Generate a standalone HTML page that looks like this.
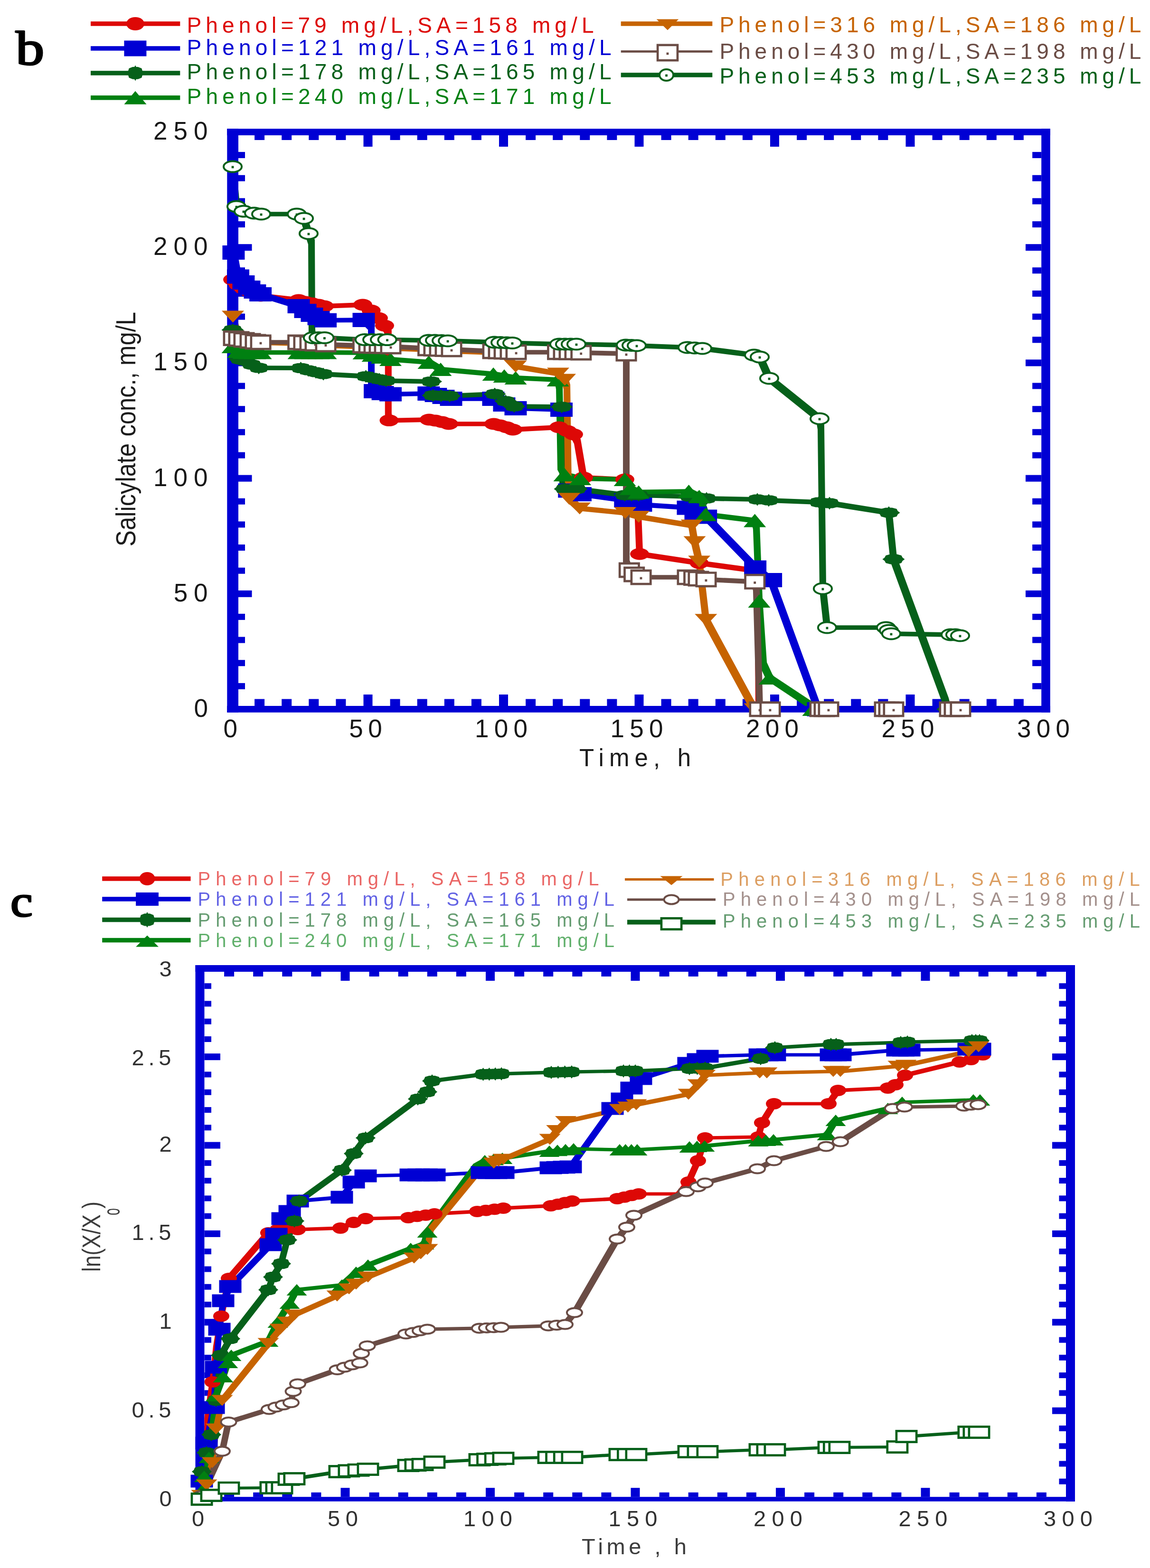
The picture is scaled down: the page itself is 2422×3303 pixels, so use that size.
<!DOCTYPE html>
<html><head><meta charset="utf-8"><title>Figure b, c</title>
<style>
html,body{margin:0;padding:0;background:#fff;}
body{width:2422px;height:3303px;overflow:hidden;}
svg{display:block;font-family:"Liberation Sans",sans-serif;}
</style></head><body>
<svg width="2422" height="3303" viewBox="0 0 2422 3303">
<rect width="2422" height="3303" fill="#fff"/>
<rect x="478.3" y="271.2" width="1733.5" height="13.8" fill="#0000d4"/>
<rect x="478.3" y="1487" width="1733.5" height="13.8" fill="#0000d4"/>
<rect x="478.3" y="271.2" width="23.7" height="1229.6" fill="#0000d4"/>
<rect x="2193.2" y="271.2" width="18.6" height="1229.6" fill="#0000d4"/>
<rect x="536.1" y="285" width="21" height="10" fill="#0000d4"/>
<rect x="536.1" y="1472.5" width="21" height="14.5" fill="#0000d4"/>
<rect x="593.2" y="285" width="21" height="10" fill="#0000d4"/>
<rect x="593.2" y="1472.5" width="21" height="14.5" fill="#0000d4"/>
<rect x="650.3" y="285" width="21" height="10" fill="#0000d4"/>
<rect x="650.3" y="1472.5" width="21" height="14.5" fill="#0000d4"/>
<rect x="707.4" y="285" width="21" height="10" fill="#0000d4"/>
<rect x="707.4" y="1472.5" width="21" height="14.5" fill="#0000d4"/>
<rect x="765.5" y="285" width="19" height="24" fill="#0000d4"/>
<rect x="765.5" y="1463" width="19" height="24" fill="#0000d4"/>
<rect x="821.6" y="285" width="21" height="10" fill="#0000d4"/>
<rect x="821.6" y="1472.5" width="21" height="14.5" fill="#0000d4"/>
<rect x="878.7" y="285" width="21" height="10" fill="#0000d4"/>
<rect x="878.7" y="1472.5" width="21" height="14.5" fill="#0000d4"/>
<rect x="935.8" y="285" width="21" height="10" fill="#0000d4"/>
<rect x="935.8" y="1472.5" width="21" height="14.5" fill="#0000d4"/>
<rect x="992.9" y="285" width="21" height="10" fill="#0000d4"/>
<rect x="992.9" y="1472.5" width="21" height="14.5" fill="#0000d4"/>
<rect x="1051" y="285" width="19" height="24" fill="#0000d4"/>
<rect x="1051" y="1463" width="19" height="24" fill="#0000d4"/>
<rect x="1107.1" y="285" width="21" height="10" fill="#0000d4"/>
<rect x="1107.1" y="1472.5" width="21" height="14.5" fill="#0000d4"/>
<rect x="1164.2" y="285" width="21" height="10" fill="#0000d4"/>
<rect x="1164.2" y="1472.5" width="21" height="14.5" fill="#0000d4"/>
<rect x="1221.3" y="285" width="21" height="10" fill="#0000d4"/>
<rect x="1221.3" y="1472.5" width="21" height="14.5" fill="#0000d4"/>
<rect x="1278.4" y="285" width="21" height="10" fill="#0000d4"/>
<rect x="1278.4" y="1472.5" width="21" height="14.5" fill="#0000d4"/>
<rect x="1336.5" y="285" width="19" height="24" fill="#0000d4"/>
<rect x="1336.5" y="1463" width="19" height="24" fill="#0000d4"/>
<rect x="1392.6" y="285" width="21" height="10" fill="#0000d4"/>
<rect x="1392.6" y="1472.5" width="21" height="14.5" fill="#0000d4"/>
<rect x="1449.7" y="285" width="21" height="10" fill="#0000d4"/>
<rect x="1449.7" y="1472.5" width="21" height="14.5" fill="#0000d4"/>
<rect x="1506.8" y="285" width="21" height="10" fill="#0000d4"/>
<rect x="1506.8" y="1472.5" width="21" height="14.5" fill="#0000d4"/>
<rect x="1563.9" y="285" width="21" height="10" fill="#0000d4"/>
<rect x="1563.9" y="1472.5" width="21" height="14.5" fill="#0000d4"/>
<rect x="1622" y="285" width="19" height="24" fill="#0000d4"/>
<rect x="1622" y="1463" width="19" height="24" fill="#0000d4"/>
<rect x="1678.1" y="285" width="21" height="10" fill="#0000d4"/>
<rect x="1678.1" y="1472.5" width="21" height="14.5" fill="#0000d4"/>
<rect x="1735.2" y="285" width="21" height="10" fill="#0000d4"/>
<rect x="1735.2" y="1472.5" width="21" height="14.5" fill="#0000d4"/>
<rect x="1792.3" y="285" width="21" height="10" fill="#0000d4"/>
<rect x="1792.3" y="1472.5" width="21" height="14.5" fill="#0000d4"/>
<rect x="1849.4" y="285" width="21" height="10" fill="#0000d4"/>
<rect x="1849.4" y="1472.5" width="21" height="14.5" fill="#0000d4"/>
<rect x="1907.5" y="285" width="19" height="24" fill="#0000d4"/>
<rect x="1907.5" y="1463" width="19" height="24" fill="#0000d4"/>
<rect x="1963.6" y="285" width="21" height="10" fill="#0000d4"/>
<rect x="1963.6" y="1472.5" width="21" height="14.5" fill="#0000d4"/>
<rect x="2020.7" y="285" width="21" height="10" fill="#0000d4"/>
<rect x="2020.7" y="1472.5" width="21" height="14.5" fill="#0000d4"/>
<rect x="2077.8" y="285" width="21" height="10" fill="#0000d4"/>
<rect x="2077.8" y="1472.5" width="21" height="14.5" fill="#0000d4"/>
<rect x="2134.9" y="285" width="21" height="10" fill="#0000d4"/>
<rect x="2134.9" y="1472.5" width="21" height="14.5" fill="#0000d4"/>
<rect x="502" y="1438.9" width="14" height="13" fill="#0000d4"/>
<rect x="2174.2" y="1438.9" width="19" height="13" fill="#0000d4"/>
<rect x="502" y="1390.2" width="14" height="13" fill="#0000d4"/>
<rect x="2174.2" y="1390.2" width="19" height="13" fill="#0000d4"/>
<rect x="502" y="1341.6" width="14" height="13" fill="#0000d4"/>
<rect x="2174.2" y="1341.6" width="19" height="13" fill="#0000d4"/>
<rect x="502" y="1292.9" width="14" height="13" fill="#0000d4"/>
<rect x="2174.2" y="1292.9" width="19" height="13" fill="#0000d4"/>
<rect x="502" y="1243.8" width="28.5" height="14" fill="#0000d4"/>
<rect x="2160" y="1243.8" width="33.2" height="14" fill="#0000d4"/>
<rect x="502" y="1195.7" width="14" height="13" fill="#0000d4"/>
<rect x="2174.2" y="1195.7" width="19" height="13" fill="#0000d4"/>
<rect x="502" y="1147" width="14" height="13" fill="#0000d4"/>
<rect x="2174.2" y="1147" width="19" height="13" fill="#0000d4"/>
<rect x="502" y="1098.4" width="14" height="13" fill="#0000d4"/>
<rect x="2174.2" y="1098.4" width="19" height="13" fill="#0000d4"/>
<rect x="502" y="1049.7" width="14" height="13" fill="#0000d4"/>
<rect x="2174.2" y="1049.7" width="19" height="13" fill="#0000d4"/>
<rect x="502" y="1000.6" width="28.5" height="14" fill="#0000d4"/>
<rect x="2160" y="1000.6" width="33.2" height="14" fill="#0000d4"/>
<rect x="502" y="952.5" width="14" height="13" fill="#0000d4"/>
<rect x="2174.2" y="952.5" width="19" height="13" fill="#0000d4"/>
<rect x="502" y="903.8" width="14" height="13" fill="#0000d4"/>
<rect x="2174.2" y="903.8" width="19" height="13" fill="#0000d4"/>
<rect x="502" y="855.2" width="14" height="13" fill="#0000d4"/>
<rect x="2174.2" y="855.2" width="19" height="13" fill="#0000d4"/>
<rect x="502" y="806.5" width="14" height="13" fill="#0000d4"/>
<rect x="2174.2" y="806.5" width="19" height="13" fill="#0000d4"/>
<rect x="502" y="757.4" width="28.5" height="14" fill="#0000d4"/>
<rect x="2160" y="757.4" width="33.2" height="14" fill="#0000d4"/>
<rect x="502" y="709.3" width="14" height="13" fill="#0000d4"/>
<rect x="2174.2" y="709.3" width="19" height="13" fill="#0000d4"/>
<rect x="502" y="660.6" width="14" height="13" fill="#0000d4"/>
<rect x="2174.2" y="660.6" width="19" height="13" fill="#0000d4"/>
<rect x="502" y="612" width="14" height="13" fill="#0000d4"/>
<rect x="2174.2" y="612" width="19" height="13" fill="#0000d4"/>
<rect x="502" y="563.3" width="14" height="13" fill="#0000d4"/>
<rect x="2174.2" y="563.3" width="19" height="13" fill="#0000d4"/>
<rect x="502" y="514.2" width="28.5" height="14" fill="#0000d4"/>
<rect x="2160" y="514.2" width="33.2" height="14" fill="#0000d4"/>
<rect x="502" y="466.1" width="14" height="13" fill="#0000d4"/>
<rect x="2174.2" y="466.1" width="19" height="13" fill="#0000d4"/>
<rect x="502" y="417.4" width="14" height="13" fill="#0000d4"/>
<rect x="2174.2" y="417.4" width="19" height="13" fill="#0000d4"/>
<rect x="502" y="368.8" width="14" height="13" fill="#0000d4"/>
<rect x="2174.2" y="368.8" width="19" height="13" fill="#0000d4"/>
<rect x="502" y="320.1" width="14" height="13" fill="#0000d4"/>
<rect x="2174.2" y="320.1" width="19" height="13" fill="#0000d4"/>
<clipPath id="clip1"><rect x="502" y="285" width="1691.2" height="1202"/></clipPath>
<g clip-path="url(#clip1)"><g transform="scale(1.5 1)">
<path d="M322 584.2L331.3 584.2L339 595.2L339 604.8L329.7 604.8L322 593.8ZM329.7 595.2L339 595.2L346.7 603.2L346.7 612.8L337.3 612.8L329.7 604.8ZM337.3 603.2L346.7 603.2L354.7 609.2L354.7 618.8L345.3 618.8L337.3 612.8ZM345.3 609.2L354.7 609.2L362.7 614.2L362.7 623.8L353.3 623.8L345.3 618.8ZM353.3 614.2L362.7 614.2L370.7 618.2L370.7 627.8L361.3 627.8L353.3 623.8ZM361.3 618.2L370.7 618.2L424 627.2L424 636.8L414.7 636.8L361.3 627.8ZM414.7 627.2L424 627.2L433.3 631.2L433.3 640.8L424 640.8L414.7 636.8ZM424 631.2L433.3 631.2L442.7 634.2L442.7 643.8L433.3 643.8L424 640.8ZM433.3 634.2L442.7 634.2L452 637.2L452 646.8L442.7 646.8L433.3 643.8ZM442.7 637.2L452 637.2L460 640.2L460 649.8L450.7 649.8L442.7 646.8ZM450.7 640.2L504.7 637.2L514 637.2L514 646.8L460 649.8L450.7 649.8ZM504.7 637.2L514 637.2L525.7 649.2L525.7 658.8L516.4 658.8L504.7 646.8ZM516.4 649.2L525.7 649.2L536 665.2L536 674.8L526.7 674.8L516.4 658.8ZM526.7 665.2L536 665.2L544.7 681.2L544.7 690.8L535.3 690.8L526.7 674.8ZM535.3 681.2L544.7 681.2L549.9 695.2L549.9 704.8L540.5 704.8L535.3 690.8ZM540.5 695.2L549.9 695.2L549.9 879.8L540.5 879.8ZM540.5 870.2L549.9 870.2L550.9 880.9L550.9 890.4L541.6 890.4L540.5 879.8ZM541.6 880.9L597.8 879.2L607.1 879.2L607.1 888.8L550.9 890.4L541.6 890.4ZM597.8 879.2L607.1 879.2L616 881.2L616 890.8L606.7 890.8L597.8 888.8ZM606.7 881.2L616 881.2L625.3 884.2L625.3 893.8L616 893.8L606.7 890.8ZM616 884.2L625.3 884.2L634.7 888.2L634.7 897.8L625.3 897.8L616 893.8ZM625.3 888.2L698 888.2L698 897.8L625.3 897.8ZM688.7 888.2L698 888.2L706.7 891.2L706.7 900.8L697.3 900.8L688.7 897.8ZM697.3 891.2L706.7 891.2L716 895.2L716 904.8L706.7 904.8L697.3 900.8ZM706.7 895.2L716 895.2L724.7 900.2L724.7 909.8L715.3 909.8L706.7 904.8ZM715.3 900.2L780 895.2L789.3 895.2L789.3 904.8L724.7 909.8L715.3 909.8ZM780 895.2L789.3 895.2L801.3 903.2L801.3 912.8L792 912.8L780 904.8ZM792 903.2L801.3 903.2L810 910.2L810 919.8L800.7 919.8L792 912.8ZM800.7 910.2L810 910.2L815.3 925.2L815.3 934.8L806 934.8L800.7 919.8ZM806 925.2L815.3 925.2L824 1001.2L824 1010.8L814.7 1010.8L806 934.8ZM814.7 1001.2L824 1001.2L882 1005.2L882 1014.8L872.7 1014.8L814.7 1010.8ZM872.7 1005.2L882 1005.2L896.7 1035.2L896.7 1044.8L887.3 1044.8L872.7 1014.8ZM887.3 1035.2L896.7 1035.2L900.7 1085.2L900.7 1094.8L891.3 1094.8L887.3 1044.8ZM891.3 1085.2L900.7 1085.2L902.7 1162.2L902.7 1171.8L893.3 1171.8L891.3 1094.8ZM893.3 1162.2L902.7 1162.2L986.4 1181.2L986.4 1190.8L977.1 1190.8L893.3 1171.8ZM977.1 1181.2L986.4 1181.2L1064.7 1197.2L1064.7 1206.8L1055.3 1206.8L977.1 1190.8ZM1055.3 1197.2L1064.7 1197.2L1068.7 1210.2L1068.7 1219.8L1059.3 1219.8L1055.3 1206.8ZM1059.3 1210.2L1068.7 1210.2L1070 1489.2L1070 1498.8L1060.7 1498.8L1059.3 1219.8Z" fill="#dd0806"/>
<path d="M323.3 527.2L332.7 527.2L339 577.8L339 587.2L329.7 587.2L323.3 536.8ZM329.7 577.8L339 577.8L346.7 590.2L346.7 599.8L337.3 599.8L329.7 587.2ZM337.3 590.2L346.7 590.2L354.7 601.2L354.7 610.8L345.3 610.8L337.3 599.8ZM345.3 601.2L354.7 601.2L362.7 609.2L362.7 618.8L353.3 618.8L345.3 610.8ZM353.3 609.2L362.7 609.2L370.5 615.2L370.5 624.8L361.1 624.8L353.3 618.8ZM361.1 615.2L370.5 615.2L424 640.2L424 649.8L414.7 649.8L361.1 624.8ZM414.7 640.2L424 640.2L433.3 650.2L433.3 659.8L424 659.8L414.7 649.8ZM424 650.2L433.3 650.2L442.7 658.2L442.7 667.8L433.3 667.8L424 659.8ZM433.3 658.2L442.7 658.2L452 665.2L452 674.8L442.7 674.8L433.3 667.8ZM442.7 665.2L452 665.2L461.7 670L461.7 679.5L452.4 679.5L442.7 674.8ZM452.4 670L506 669.2L515.3 669.2L515.3 678.8L461.7 679.5L452.4 679.5ZM506 669.2L515.3 669.2L526 685.2L526 694.8L516.7 694.8L506 678.8ZM516.7 685.2L526 685.2L526 814.8L516.7 814.8ZM516.7 805.2L526 805.2L531 819.2L531 828.8L521.7 828.8L516.7 814.8ZM521.7 819.2L531 819.2L542 823.2L542 832.8L532.7 832.8L521.7 828.8ZM532.7 823.2L542 823.2L553 825.8L553 835.2L543.7 835.2L532.7 832.8ZM543.7 825.8L597.2 824.2L606.5 824.2L606.5 833.8L553 835.2L543.7 835.2ZM597.2 824.2L606.5 824.2L616.7 827.2L616.7 836.8L607.3 836.8L597.2 833.8ZM607.3 827.2L616.7 827.2L627.3 831.2L627.3 840.8L618 840.8L607.3 836.8ZM618 831.2L627.3 831.2L638 835.2L638 844.8L628.7 844.8L618 840.8ZM628.7 835.2L697.3 835.2L697.3 844.8L628.7 844.8ZM688 835.2L697.3 835.2L712.7 847.2L712.7 856.8L703.3 856.8L688 844.8ZM703.3 847.2L712.7 847.2L728.7 855.2L728.7 864.8L719.3 864.8L703.3 856.8ZM719.3 855.2L728.7 855.2L793.1 858.2L793.1 867.8L783.7 867.8L719.3 864.8ZM783.7 858.2L793.1 858.2L796 875.2L796 884.8L786.7 884.8L783.7 867.8ZM786.7 875.2L796 875.2L796 1024.8L786.7 1024.8ZM786.7 1015.2L796 1015.2L803.9 1028.7L803.9 1038.2L794.5 1038.2L786.7 1024.8ZM794.5 1028.7L803.9 1028.7L819.6 1036.2L819.6 1045.8L810.3 1045.8L794.5 1038.2ZM810.3 1036.2L819.6 1036.2L882.5 1049.2L882.5 1058.8L873.2 1058.8L810.3 1045.8ZM873.2 1049.2L882.5 1049.2L893.3 1053.2L893.3 1062.8L884 1062.8L873.2 1058.8ZM884 1053.2L893.3 1053.2L904.7 1058.2L904.7 1067.8L895.3 1067.8L884 1062.8ZM895.3 1058.2L904.7 1058.2L970.7 1064.8L970.7 1074.3L961.3 1074.3L895.3 1067.8ZM961.3 1064.8L970.7 1064.8L981.3 1077.2L981.3 1086.8L972 1086.8L961.3 1074.3ZM972 1077.2L981.3 1077.2L995.9 1083.8L995.9 1093.2L986.5 1093.2L972 1086.8ZM986.5 1083.8L995.9 1083.8L1065.1 1190.8L1065.1 1200.2L1055.8 1200.2L986.5 1093.2ZM1055.8 1190.8L1065.1 1190.8L1087.1 1217.2L1087.1 1226.8L1077.8 1226.8L1055.8 1200.2ZM1077.8 1217.2L1087.1 1217.2L1150 1475.2L1150 1484.8L1140.7 1484.8L1077.8 1226.8ZM1140.7 1475.2L1150 1475.2L1153.3 1489.2L1153.3 1498.8L1144 1498.8L1140.7 1484.8Z" fill="#0000d4"/>
<path d="M322 690.2L331.3 690.2L341.3 752.2L341.3 761.8L332 761.8L322 699.8ZM332 752.2L341.3 752.2L349.3 755.2L349.3 764.8L340 764.8L332 761.8ZM340 755.2L349.3 755.2L358 763.2L358 772.8L348.7 772.8L340 764.8ZM348.7 763.2L358 763.2L368 770.2L368 779.8L358.7 779.8L348.7 772.8ZM358.7 770.2L368 770.2L427 770.6L427 780.1L417.7 780.1L358.7 779.8ZM417.7 770.6L427 770.6L437.3 775.2L437.3 784.8L428 784.8L417.7 780.1ZM428 775.2L437.3 775.2L448 779.2L448 788.8L438.7 788.8L428 784.8ZM438.7 779.2L448 779.2L458.7 783.2L458.7 792.8L449.3 792.8L438.7 788.8ZM449.3 783.2L458.7 783.2L518.4 788L518.4 797.5L509.1 797.5L449.3 792.8ZM509.1 788L518.4 788L528 791.2L528 800.8L518.7 800.8L509.1 797.5ZM518.7 791.2L528 791.2L537.3 794.2L537.3 803.8L528 803.8L518.7 800.8ZM528 794.2L537.3 794.2L546.7 797.2L546.7 806.8L537.3 806.8L528 803.8ZM537.3 797.2L546.7 797.2L609.7 799L609.7 808.5L600.3 808.5L537.3 806.8ZM600.3 799L609.7 799L612.7 828.2L612.7 837.8L603.3 837.8L600.3 808.5ZM603.3 828.2L612.7 828.2L624 828.9L624 838.4L614.7 838.4L603.3 837.8ZM614.7 828.9L624 828.9L636 829.2L636 838.8L626.7 838.8L614.7 838.4ZM626.7 829.2L690 825.2L699.3 825.2L699.3 834.8L636 838.8L626.7 838.8ZM690 825.2L699.3 825.2L714.7 840.2L714.7 849.8L705.3 849.8L690 834.8ZM705.3 840.2L714.7 840.2L726.7 851.2L726.7 860.8L717.3 860.8L705.3 849.8ZM717.3 851.2L726.7 851.2L793.3 852.2L793.3 861.8L784 861.8L717.3 860.8ZM784 852.2L793.3 852.2L794.7 875.2L794.7 884.8L785.3 884.8L784 861.8ZM785.3 875.2L794.7 875.2L794.7 1024.8L785.3 1024.8ZM785.3 1015.2L794.7 1015.2L798 1025.2L798 1034.8L788.7 1034.8L785.3 1024.8ZM788.7 1025.2L814 1025.2L814 1034.8L788.7 1034.8ZM804.7 1025.2L814 1025.2L882 1038.2L882 1047.8L872.7 1047.8L804.7 1034.8ZM872.7 1038.2L891.3 1038.2L891.3 1047.8L872.7 1047.8ZM882 1038.2L901.3 1038.2L901.3 1047.8L882 1047.8ZM892 1038.2L901.3 1038.2L972.7 1041.2L972.7 1050.8L963.3 1050.8L892 1047.8ZM963.3 1041.2L972.7 1041.2L984.7 1043.2L984.7 1052.8L975.3 1052.8L963.3 1050.8ZM975.3 1043.2L984.7 1043.2L996.7 1045.2L996.7 1054.8L987.3 1054.8L975.3 1052.8ZM987.3 1045.2L996.7 1045.2L1068 1047.2L1068 1056.8L1058.7 1056.8L987.3 1054.8ZM1058.7 1047.2L1068 1047.2L1084 1049.2L1084 1058.8L1074.7 1058.8L1058.7 1056.8ZM1074.7 1049.2L1084 1049.2L1154.7 1053.2L1154.7 1062.8L1145.3 1062.8L1074.7 1058.8ZM1145.3 1053.2L1154.7 1053.2L1169.3 1055.2L1169.3 1064.8L1160 1064.8L1145.3 1062.8ZM1160 1055.2L1169.3 1055.2L1252.7 1075.2L1252.7 1084.8L1243.3 1084.8L1160 1064.8ZM1243.3 1075.2L1252.7 1075.2L1259.3 1173.2L1259.3 1182.8L1250 1182.8L1243.3 1084.8ZM1250 1173.2L1259.3 1173.2L1332 1470.2L1332 1479.8L1322.7 1479.8L1250 1182.8ZM1322.7 1470.2L1332 1470.2L1335.3 1489.2L1335.3 1498.8L1326 1498.8L1322.7 1479.8Z" fill="#06601a"/>
<path d="M322 725.2L331.3 725.2L339 735.2L339 744.8L329.7 744.8L322 734.8ZM329.7 735.2L339 735.2L346.7 737.2L346.7 746.8L337.3 746.8L329.7 744.8ZM337.3 737.2L346.7 737.2L354.7 737.8L354.7 747.2L345.3 747.2L337.3 746.8ZM345.3 737.8L362.7 737.8L362.7 747.2L345.3 747.2ZM353.3 737.8L370.7 737.8L370.7 747.2L353.3 747.2ZM361.3 737.8L424 737.8L424 747.2L361.3 747.2ZM414.7 737.8L433.3 737.8L433.3 747.2L414.7 747.2ZM424 737.8L442.7 737.8L442.7 747.2L424 747.2ZM433.3 737.8L452 737.8L452 747.2L433.3 747.2ZM442.7 737.8L462 737.8L462 747.2L442.7 747.2ZM452.7 737.8L462 737.8L515.3 738.2L515.3 747.8L506 747.8L452.7 747.2ZM506 738.2L515.3 738.2L528 743.2L528 752.8L518.7 752.8L506 747.8ZM518.7 743.2L528 743.2L540.7 747.2L540.7 756.8L531.3 756.8L518.7 752.8ZM531.3 747.2L540.7 747.2L553 752.2L553 761.8L543.7 761.8L531.3 756.8ZM543.7 752.2L553 752.2L606.7 758.2L606.7 767.8L597.3 767.8L543.7 761.8ZM597.3 758.2L606.7 758.2L623.3 773.2L623.3 782.8L614 782.8L597.3 767.8ZM614 773.2L623.3 773.2L697.3 783.2L697.3 792.8L688 792.8L614 782.8ZM688 783.2L697.3 783.2L712.7 787.2L712.7 796.8L703.3 796.8L688 792.8ZM703.3 787.2L712.7 787.2L728.7 791.2L728.7 800.8L719.3 800.8L703.3 796.8ZM719.3 791.2L728.7 791.2L788 795.2L788 804.8L778.7 804.8L719.3 800.8ZM778.7 795.2L788 795.2L790 810.2L790 819.8L780.7 819.8L778.7 804.8ZM780.7 810.2L790 810.2L792 980.2L792 989.8L782.7 989.8L780.7 819.8ZM782.7 980.2L792 980.2L797.3 995.2L797.3 1004.8L788 1004.8L782.7 989.8ZM788 995.2L797.3 995.2L819.1 1003.2L819.1 1012.8L809.7 1012.8L788 1004.8ZM809.7 1003.2L819.1 1003.2L882 1005.2L882 1014.8L872.7 1014.8L809.7 1012.8ZM872.7 1005.2L882 1005.2L890 1024L890 1033.5L880.7 1033.5L872.7 1014.8ZM880.7 1024L890 1024L901.3 1031.8L901.3 1041.3L892 1041.3L880.7 1033.5ZM892 1031.8L962.4 1030.2L971.7 1030.2L971.7 1039.8L901.3 1041.3L892 1041.3ZM962.4 1030.2L971.7 1030.2L986.4 1041.2L986.4 1050.8L977.1 1050.8L962.4 1039.8ZM977.1 1041.2L986.4 1041.2L995.3 1079L995.3 1088.5L986 1088.5L977.1 1050.8ZM986 1079L995.3 1079L1064.5 1091.7L1064.5 1101.2L1055.1 1101.2L986 1088.5ZM1055.1 1091.7L1064.5 1091.7L1066.7 1105.2L1066.7 1114.8L1057.3 1114.8L1055.1 1101.2ZM1057.3 1105.2L1066.7 1105.2L1070.7 1261.2L1070.7 1270.8L1061.3 1270.8L1057.3 1114.8ZM1061.3 1261.2L1070.7 1261.2L1076.7 1395.2L1076.7 1404.8L1067.3 1404.8L1061.3 1270.8ZM1067.3 1395.2L1076.7 1395.2L1085.3 1423.2L1085.3 1432.8L1076 1432.8L1067.3 1404.8ZM1076 1423.2L1085.3 1423.2L1142.7 1480.2L1142.7 1489.8L1133.3 1489.8L1076 1432.8ZM1133.3 1480.2L1142.7 1480.2L1146.7 1489.2L1146.7 1498.8L1137.3 1498.8L1133.3 1489.8Z" fill="#008011"/>
<path d="M322.3 662.2L331.7 662.2L339 707.2L339 716.8L329.7 716.8L322.3 671.8ZM329.7 707.2L339 707.2L346.7 709.2L346.7 718.8L337.3 718.8L329.7 716.8ZM337.3 709.2L346.7 709.2L354.7 710.2L354.7 719.8L345.3 719.8L337.3 718.8ZM345.3 710.2L354.7 710.2L362.7 714.2L362.7 723.8L353.3 723.8L345.3 719.8ZM353.3 714.2L362.7 714.2L370.7 717.2L370.7 726.8L361.3 726.8L353.3 723.8ZM361.3 717.2L370.7 717.2L424 719.2L424 728.8L414.7 728.8L361.3 726.8ZM414.7 719.2L424 719.2L433.3 720.2L433.3 729.8L424 729.8L414.7 728.8ZM424 720.2L433.3 720.2L442.7 721.2L442.7 730.8L433.3 730.8L424 729.8ZM433.3 721.2L442.7 721.2L452 722.2L452 731.8L442.7 731.8L433.3 730.8ZM442.7 722.2L452 722.2L462 723.2L462 732.8L452.7 732.8L442.7 731.8ZM452.7 723.2L462 723.2L515.3 726.2L515.3 735.8L506 735.8L452.7 732.8ZM506 726.2L515.3 726.2L528 727.2L528 736.8L518.7 736.8L506 735.8ZM518.7 727.2L528 727.2L540.7 728.2L540.7 737.8L531.3 737.8L518.7 736.8ZM531.3 728.2L540.7 728.2L552.7 729.2L552.7 738.8L543.3 738.8L531.3 737.8ZM543.3 729.2L552.7 729.2L606.7 732.2L606.7 741.8L597.3 741.8L543.3 738.8ZM597.3 732.2L606.7 732.2L617.3 733.2L617.3 742.8L608 742.8L597.3 741.8ZM608 733.2L617.3 733.2L628 734.2L628 743.8L618.7 743.8L608 742.8ZM618.7 734.2L628 734.2L638 735.2L638 744.8L628.7 744.8L618.7 743.8ZM628.7 735.2L638 735.2L698 738.2L698 747.8L688.7 747.8L628.7 744.8ZM688.7 738.2L698 738.2L711.3 740.2L711.3 749.8L702 749.8L688.7 747.8ZM702 740.2L711.3 740.2L728.7 767.2L728.7 776.8L719.3 776.8L702 749.8ZM719.3 767.2L728.7 767.2L788.3 782.2L788.3 791.8L779 791.8L719.3 776.8ZM779 782.2L788.3 782.2L797.7 795.2L797.7 804.8L788.4 804.8L779 791.8ZM788.4 795.2L797.7 795.2L800.7 810.2L800.7 819.8L791.3 819.8L788.4 804.8ZM791.3 810.2L800.7 810.2L802.7 1025.2L802.7 1034.8L793.3 1034.8L791.3 819.8ZM793.3 1025.2L802.7 1025.2L803.9 1046L803.9 1055.5L794.5 1055.5L793.3 1034.8ZM794.5 1046L803.9 1046L818.5 1066.2L818.5 1075.8L809.2 1075.8L794.5 1055.5ZM809.2 1066.2L818.5 1066.2L882.5 1075.8L882.5 1085.3L873.2 1085.3L809.2 1075.8ZM873.2 1075.8L882.5 1075.8L901.3 1083.8L901.3 1093.2L892 1093.2L873.2 1085.3ZM892 1083.8L901.3 1083.8L976 1102.2L976 1111.8L966.7 1111.8L892 1093.2ZM966.7 1102.2L976 1102.2L980 1137.2L980 1146.8L970.7 1146.8L966.7 1111.8ZM970.7 1137.2L980 1137.2L986.4 1178.2L986.4 1187.8L977.1 1187.8L970.7 1146.8ZM977.1 1178.2L986.4 1178.2L995.9 1301L995.9 1310.5L986.5 1310.5L977.1 1187.8ZM986.5 1301L995.9 1301L1058 1473.2L1058 1482.8L1048.7 1482.8L986.5 1310.5ZM1048.7 1473.2L1058 1473.2L1064.7 1489.2L1064.7 1498.8L1055.3 1498.8L1048.7 1482.8Z" fill="#c66300"/>
<path d="M323.3 707.8L332.7 707.8L340 709.2L340 718.8L330.7 718.8L323.3 717.2ZM330.7 709.2L340 709.2L347.3 711.2L347.3 720.8L338 720.8L330.7 718.8ZM338 711.2L347.3 711.2L356 713.2L356 722.8L346.7 722.8L338 720.8ZM346.7 713.2L356 713.2L363.3 715.2L363.3 724.8L354 724.8L346.7 722.8ZM354 715.2L363.3 715.2L370.7 716.2L370.7 725.8L361.3 725.8L354 724.8ZM361.3 716.2L423.1 716.2L423.1 725.8L361.3 725.8ZM413.8 716.2L423.1 716.2L431.3 717.2L431.3 726.8L422 726.8L413.8 725.8ZM422 717.2L431.3 717.2L440 718.2L440 727.8L430.7 727.8L422 726.8ZM430.7 718.2L440 718.2L447.3 719.2L447.3 728.8L438 728.8L430.7 727.8ZM438 719.2L447.3 719.2L462 720.9L462 730.4L452.7 730.4L438 728.8ZM452.7 720.9L462 720.9L514.4 723.2L514.4 732.8L505.1 732.8L452.7 730.4ZM505.1 723.2L514.4 723.2L522.7 723.8L522.7 733.2L513.3 733.2L505.1 732.8ZM513.3 723.8L522.7 723.8L530 724.2L530 733.8L520.7 733.8L513.3 733.2ZM520.7 724.2L537.3 724.2L537.3 733.8L520.7 733.8ZM528 724.2L537.3 724.2L544.7 724.8L544.7 734.2L535.3 734.2L528 733.8ZM535.3 724.8L544.7 724.8L553.3 725.2L553.3 734.8L544 734.8L535.3 734.2ZM544 725.2L553.3 725.2L605.7 729.2L605.7 738.8L596.3 738.8L544 734.8ZM596.3 729.2L605.7 729.2L614 729.8L614 739.2L604.7 739.2L596.3 738.8ZM604.7 729.8L614 729.8L622 730.2L622 739.8L612.7 739.8L604.7 739.2ZM612.7 730.2L622 730.2L630 730.8L630 740.2L620.7 740.2L612.7 739.8ZM620.7 730.8L630 730.8L638.7 731.2L638.7 740.8L629.3 740.8L620.7 740.2ZM629.3 731.2L638.7 731.2L696.7 735.2L696.7 744.8L687.3 744.8L629.3 740.8ZM687.3 735.2L696.7 735.2L704.7 735.8L704.7 745.2L695.3 745.2L687.3 744.8ZM695.3 735.8L704.7 735.8L712.7 736.2L712.7 745.8L703.3 745.8L695.3 745.2ZM703.3 736.2L712.7 736.2L721.3 736.8L721.3 746.2L712 746.2L703.3 745.8ZM712 736.8L721.3 736.8L729.3 737.2L729.3 746.8L720 746.8L712 746.2ZM720 737.2L787.7 737.2L787.7 746.8L720 746.8ZM778.3 737.2L796 737.2L796 746.8L778.3 746.8ZM786.7 737.2L796 737.2L804 737.8L804 747.2L794.7 747.2L786.7 746.8ZM794.7 737.8L812 737.8L812 747.2L794.7 747.2ZM802.7 737.8L812 737.8L820.5 738.2L820.5 747.8L811.1 747.8L802.7 747.2ZM811.1 738.2L820.5 738.2L884 740.2L884 749.8L874.7 749.8L811.1 747.8ZM874.7 740.2L884 740.2L884 764.8L874.7 764.8ZM874.7 755.2L884 755.2L884 1189.8L874.7 1189.8ZM874.7 1180.2L884 1180.2L888.2 1196.2L888.2 1205.8L878.9 1205.8L874.7 1189.8ZM878.9 1196.2L888.2 1196.2L895.1 1205.2L895.1 1214.8L885.8 1214.8L878.9 1205.8ZM885.8 1205.2L895.1 1205.2L904.7 1211.2L904.7 1220.8L895.3 1220.8L885.8 1214.8ZM895.3 1211.2L970 1211.2L970 1220.8L895.3 1220.8ZM960.7 1211.2L970 1211.2L979.1 1212.8L979.1 1222.2L969.7 1222.2L960.7 1220.8ZM969.7 1212.8L979.1 1212.8L985.3 1214.2L985.3 1223.8L976 1223.8L969.7 1222.2ZM976 1214.2L985.3 1214.2L996 1216L996 1225.5L986.7 1225.5L976 1223.8ZM986.7 1216L996 1216L1064.5 1220.7L1064.5 1230.2L1055.1 1230.2L986.7 1225.5ZM1055.1 1220.7L1064.5 1220.7L1066.7 1235.2L1066.7 1244.8L1057.3 1244.8L1055.1 1230.2ZM1057.3 1235.2L1066.7 1235.2L1071.3 1489.2L1071.3 1498.8L1062 1498.8L1057.3 1244.8ZM1062 1489.2L1086 1489.2L1086 1498.8L1062 1498.8ZM1076.7 1489.2L1156 1489.2L1156 1498.8L1076.7 1498.8ZM1146.7 1489.2L1162 1489.2L1162 1498.8L1146.7 1498.8ZM1152.7 1489.2L1168 1489.2L1168 1498.8L1152.7 1498.8ZM1158.7 1489.2L1246.7 1489.2L1246.7 1498.8L1158.7 1498.8ZM1237.3 1489.2L1252.7 1489.2L1252.7 1498.8L1237.3 1498.8ZM1243.3 1489.2L1259.3 1489.2L1259.3 1498.8L1243.3 1498.8ZM1250 1489.2L1338 1489.2L1338 1498.8L1250 1498.8ZM1328.7 1489.2L1344.7 1489.2L1344.7 1498.8L1328.7 1498.8ZM1335.3 1489.2L1353.3 1489.2L1353.3 1498.8L1335.3 1498.8Z" fill="#6a4c45"/>
<path d="M322 346.2L331.3 346.2L336.7 430.2L336.7 439.8L327.3 439.8L322 355.8ZM327.3 430.2L336.7 430.2L346.7 440.2L346.7 449.8L337.3 449.8L327.3 439.8ZM337.3 440.2L346.7 440.2L361.3 444.2L361.3 453.8L352 453.8L337.3 449.8ZM352 444.2L361.3 444.2L371.3 446.2L371.3 455.8L362 455.8L352 453.8ZM362 446.2L421.3 446.2L421.3 455.8L362 455.8ZM412 446.2L421.3 446.2L431.3 455.2L431.3 464.8L422 464.8L412 455.8ZM422 455.2L431.3 455.2L438 487.2L438 496.8L428.7 496.8L422 464.8ZM428.7 487.2L438 487.2L442 505.2L442 514.8L432.7 514.8L428.7 496.8ZM432.7 505.2L442 505.2L442.7 695.2L442.7 704.8L433.3 704.8L432.7 514.8ZM433.3 695.2L442.7 695.2L444 706.8L444 716.2L434.7 716.2L433.3 704.8ZM434.7 706.8L452 706.8L452 716.2L434.7 716.2ZM442.7 706.8L460.3 706.8L460.3 716.2L442.7 716.2ZM450.9 706.8L460.3 706.8L516.5 710.9L516.5 720.4L507.2 720.4L450.9 716.2ZM507.2 710.9L527.3 710.9L527.3 720.4L507.2 720.4ZM518 710.9L538 710.9L538 720.4L518 720.4ZM528.7 710.9L548.4 710.9L548.4 720.4L528.7 720.4ZM539.1 710.9L548.4 710.9L606.7 712.2L606.7 721.8L597.3 721.8L539.1 720.4ZM597.3 712.2L615.3 712.2L615.3 721.8L597.3 721.8ZM606 712.2L615.3 712.2L624.7 712.8L624.7 722.2L615.3 722.2L606 721.8ZM615.3 712.8L624.7 712.8L633.3 713.2L633.3 722.8L624 722.8L615.3 722.2ZM624 713.2L633.3 713.2L698.7 716.2L698.7 725.8L689.3 725.8L624 722.8ZM689.3 716.2L698.7 716.2L707.3 716.8L707.3 726.2L698 726.2L689.3 725.8ZM698 716.8L707.3 716.8L716 717.2L716 726.8L706.7 726.8L698 726.2ZM706.7 717.2L716 717.2L724 717.8L724 727.2L714.7 727.2L706.7 726.8ZM714.7 717.8L724 717.8L790 720.2L790 729.8L780.7 729.8L714.7 727.2ZM780.7 720.2L798 720.2L798 729.8L780.7 729.8ZM788.7 720.2L806 720.2L806 729.8L788.7 729.8ZM796.7 720.2L814 720.2L814 729.8L796.7 729.8ZM804.7 720.2L814 720.2L883.3 722.2L883.3 731.8L874 731.8L804.7 729.8ZM874 722.2L883.3 722.2L891.3 722.8L891.3 732.2L882 732.2L874 731.8ZM882 722.8L891.3 722.8L898.7 723.2L898.7 732.8L889.3 732.8L882 732.2ZM889.3 723.2L898.7 723.2L970 727.2L970 736.8L960.7 736.8L889.3 732.8ZM960.7 727.2L970 727.2L980 728.2L980 737.8L970.7 737.8L960.7 736.8ZM970.7 728.2L980 728.2L990.7 729.2L990.7 738.8L981.3 738.8L970.7 737.8ZM981.3 729.2L990.7 729.2L1063.3 743.2L1063.3 752.8L1054 752.8L981.3 738.8ZM1054 743.2L1063.3 743.2L1071.3 747.2L1071.3 756.8L1062 756.8L1054 752.8ZM1062 747.2L1071.3 747.2L1084.7 792.2L1084.7 801.8L1075.3 801.8L1062 756.8ZM1075.3 792.2L1084.7 792.2L1155.3 877.2L1155.3 886.8L1146 886.8L1075.3 801.8ZM1146 877.2L1155.3 877.2L1157.3 895.2L1157.3 904.8L1148 904.8L1146 886.8ZM1148 895.2L1157.3 895.2L1160 1235.2L1160 1244.8L1150.7 1244.8L1148 904.8ZM1150.7 1235.2L1160 1235.2L1166 1317.2L1166 1326.8L1156.7 1326.8L1150.7 1244.8ZM1156.7 1317.2L1248.7 1317.2L1248.7 1326.8L1156.7 1326.8ZM1239.3 1317.2L1248.7 1317.2L1252.7 1323.2L1252.7 1332.8L1243.3 1332.8L1239.3 1326.8ZM1243.3 1323.2L1252.7 1323.2L1256 1330.2L1256 1339.8L1246.7 1339.8L1243.3 1332.8ZM1246.7 1330.2L1256 1330.2L1339.3 1332.2L1339.3 1341.8L1330 1341.8L1246.7 1339.8ZM1330 1332.2L1346 1332.2L1346 1341.8L1330 1341.8ZM1336.7 1332.2L1346 1332.2L1352.7 1334.2L1352.7 1343.8L1343.3 1343.8L1336.7 1341.8Z" fill="#06601a"/>
</g></g>
<g transform="scale(1.5 1)">
<ellipse cx="326.7" cy="589" rx="13.3" ry="12.5" fill="#dd0806"/>
<ellipse cx="334.3" cy="600" rx="13.3" ry="12.5" fill="#dd0806"/>
<ellipse cx="342" cy="608" rx="13.3" ry="12.5" fill="#dd0806"/>
<ellipse cx="350" cy="614" rx="13.3" ry="12.5" fill="#dd0806"/>
<ellipse cx="358" cy="619" rx="13.3" ry="12.5" fill="#dd0806"/>
<ellipse cx="366" cy="623" rx="13.3" ry="12.5" fill="#dd0806"/>
<ellipse cx="419.3" cy="632" rx="13.3" ry="12.5" fill="#dd0806"/>
<ellipse cx="428.7" cy="636" rx="13.3" ry="12.5" fill="#dd0806"/>
<ellipse cx="438" cy="639" rx="13.3" ry="12.5" fill="#dd0806"/>
<ellipse cx="447.3" cy="642" rx="13.3" ry="12.5" fill="#dd0806"/>
<ellipse cx="455.3" cy="645" rx="13.3" ry="12.5" fill="#dd0806"/>
<ellipse cx="509.3" cy="642" rx="13.3" ry="12.5" fill="#dd0806"/>
<ellipse cx="521.1" cy="654" rx="13.3" ry="12.5" fill="#dd0806"/>
<ellipse cx="531.3" cy="670" rx="13.3" ry="12.5" fill="#dd0806"/>
<ellipse cx="540" cy="686" rx="13.3" ry="12.5" fill="#dd0806"/>
<ellipse cx="546.3" cy="885.6" rx="13.3" ry="12.5" fill="#dd0806"/>
<ellipse cx="602.5" cy="884" rx="13.3" ry="12.5" fill="#dd0806"/>
<ellipse cx="611.3" cy="886" rx="13.3" ry="12.5" fill="#dd0806"/>
<ellipse cx="620.7" cy="889" rx="13.3" ry="12.5" fill="#dd0806"/>
<ellipse cx="630" cy="893" rx="13.3" ry="12.5" fill="#dd0806"/>
<ellipse cx="693.3" cy="893" rx="13.3" ry="12.5" fill="#dd0806"/>
<ellipse cx="702" cy="896" rx="13.3" ry="12.5" fill="#dd0806"/>
<ellipse cx="711.3" cy="900" rx="13.3" ry="12.5" fill="#dd0806"/>
<ellipse cx="720" cy="905" rx="13.3" ry="12.5" fill="#dd0806"/>
<ellipse cx="784.7" cy="900" rx="13.3" ry="12.5" fill="#dd0806"/>
<ellipse cx="796.7" cy="908" rx="13.3" ry="12.5" fill="#dd0806"/>
<ellipse cx="805.3" cy="915" rx="13.3" ry="12.5" fill="#dd0806"/>
<ellipse cx="819.3" cy="1006" rx="13.3" ry="12.5" fill="#dd0806"/>
<ellipse cx="877.3" cy="1010" rx="13.3" ry="12.5" fill="#dd0806"/>
<ellipse cx="898" cy="1167" rx="13.3" ry="12.5" fill="#dd0806"/>
<ellipse cx="981.7" cy="1186" rx="13.3" ry="12.5" fill="#dd0806"/>
<ellipse cx="1060" cy="1202" rx="13.3" ry="12.5" fill="#dd0806"/>
<ellipse cx="1065.3" cy="1494" rx="13.3" ry="12.5" fill="#dd0806"/>
<rect x="312.3" y="517" width="31.3" height="30" fill="#0000d4"/>
<rect x="318.7" y="567.5" width="31.3" height="30" fill="#0000d4"/>
<rect x="326.3" y="580" width="31.3" height="30" fill="#0000d4"/>
<rect x="334.3" y="591" width="31.3" height="30" fill="#0000d4"/>
<rect x="342.3" y="599" width="31.3" height="30" fill="#0000d4"/>
<rect x="350.1" y="605" width="31.3" height="30" fill="#0000d4"/>
<rect x="403.7" y="630" width="31.3" height="30" fill="#0000d4"/>
<rect x="413" y="640" width="31.3" height="30" fill="#0000d4"/>
<rect x="422.3" y="648" width="31.3" height="30" fill="#0000d4"/>
<rect x="431.7" y="655" width="31.3" height="30" fill="#0000d4"/>
<rect x="441.4" y="659.7" width="31.3" height="30" fill="#0000d4"/>
<rect x="495" y="659" width="31.3" height="30" fill="#0000d4"/>
<rect x="510.7" y="809" width="31.3" height="30" fill="#0000d4"/>
<rect x="521.7" y="813" width="31.3" height="30" fill="#0000d4"/>
<rect x="532.7" y="815.5" width="31.3" height="30" fill="#0000d4"/>
<rect x="586.2" y="814" width="31.3" height="30" fill="#0000d4"/>
<rect x="596.3" y="817" width="31.3" height="30" fill="#0000d4"/>
<rect x="607" y="821" width="31.3" height="30" fill="#0000d4"/>
<rect x="617.7" y="825" width="31.3" height="30" fill="#0000d4"/>
<rect x="677" y="825" width="31.3" height="30" fill="#0000d4"/>
<rect x="692.3" y="837" width="31.3" height="30" fill="#0000d4"/>
<rect x="708.3" y="845" width="31.3" height="30" fill="#0000d4"/>
<rect x="772.7" y="848" width="31.3" height="30" fill="#0000d4"/>
<rect x="783.5" y="1018.4" width="31.3" height="30" fill="#0000d4"/>
<rect x="799.3" y="1026" width="31.3" height="30" fill="#0000d4"/>
<rect x="862.2" y="1039" width="31.3" height="30" fill="#0000d4"/>
<rect x="873" y="1043" width="31.3" height="30" fill="#0000d4"/>
<rect x="884.3" y="1048" width="31.3" height="30" fill="#0000d4"/>
<rect x="950.3" y="1054.6" width="31.3" height="30" fill="#0000d4"/>
<rect x="961" y="1067" width="31.3" height="30" fill="#0000d4"/>
<rect x="975.5" y="1073.5" width="31.3" height="30" fill="#0000d4"/>
<rect x="1044.8" y="1180.5" width="31.3" height="30" fill="#0000d4"/>
<rect x="1066.8" y="1207" width="31.3" height="30" fill="#0000d4"/>
<rect x="1133" y="1479" width="31.3" height="30" fill="#0000d4"/>
<path d="M311 695L314.1 691.6L315.7 686.9L322 684.5L325.1 684.5L326.7 681.5L328.2 684.5L331.4 684.5L337.6 686.9L339.2 691.6L342.3 695L339.2 698.4L337.6 703.1L331.4 705.5L328.2 705.5L326.7 708.5L325.1 705.5L322 705.5L315.7 703.1L314.1 698.4Z" fill="#06601a"/>
<path d="M321 757L324.1 753.6L325.7 748.9L332 746.5L335.1 746.5L336.7 743.5L338.2 746.5L341.4 746.5L347.6 748.9L349.2 753.6L352.3 757L349.2 760.4L347.6 765.1L341.4 767.5L338.2 767.5L336.7 770.5L335.1 767.5L332 767.5L325.7 765.1L324.1 760.4Z" fill="#06601a"/>
<path d="M329 760L332.1 756.6L333.7 751.9L340 749.5L343.1 749.5L344.7 746.5L346.2 749.5L349.4 749.5L355.6 751.9L357.2 756.6L360.3 760L357.2 763.4L355.6 768.1L349.4 770.5L346.2 770.5L344.7 773.5L343.1 770.5L340 770.5L333.7 768.1L332.1 763.4Z" fill="#06601a"/>
<path d="M337.7 768L340.8 764.6L342.4 759.9L348.6 757.5L351.8 757.5L353.3 754.5L354.9 757.5L358 757.5L364.3 759.9L365.9 764.6L369 768L365.9 771.4L364.3 776.1L358 778.5L354.9 778.5L353.3 781.5L351.8 778.5L348.6 778.5L342.4 776.1L340.8 771.4Z" fill="#06601a"/>
<path d="M347.7 775L350.8 771.6L352.4 766.9L358.6 764.5L361.8 764.5L363.3 761.5L364.9 764.5L368 764.5L374.3 766.9L375.9 771.6L379 775L375.9 778.4L374.3 783.1L368 785.5L364.9 785.5L363.3 788.5L361.8 785.5L358.6 785.5L352.4 783.1L350.8 778.4Z" fill="#06601a"/>
<path d="M406.7 775.4L409.8 772L411.4 767.3L417.6 764.9L420.8 764.9L422.3 761.9L423.9 764.9L427 764.9L433.3 767.3L434.9 772L438 775.4L434.9 778.8L433.3 783.5L427 785.9L423.9 785.9L422.3 788.9L420.8 785.9L417.6 785.9L411.4 783.5L409.8 778.8Z" fill="#06601a"/>
<path d="M417 780L420.1 776.6L421.7 771.9L428 769.5L431.1 769.5L432.7 766.5L434.2 769.5L437.4 769.5L443.6 771.9L445.2 776.6L448.3 780L445.2 783.4L443.6 788.1L437.4 790.5L434.2 790.5L432.7 793.5L431.1 790.5L428 790.5L421.7 788.1L420.1 783.4Z" fill="#06601a"/>
<path d="M427.7 784L430.8 780.6L432.4 775.9L438.6 773.5L441.8 773.5L443.3 770.5L444.9 773.5L448 773.5L454.3 775.9L455.9 780.6L459 784L455.9 787.4L454.3 792.1L448 794.5L444.9 794.5L443.3 797.5L441.8 794.5L438.6 794.5L432.4 792.1L430.8 787.4Z" fill="#06601a"/>
<path d="M438.3 788L441.5 784.6L443 779.9L449.3 777.5L452.4 777.5L454 774.5L455.6 777.5L458.7 777.5L465 779.9L466.5 784.6L469.7 788L466.5 791.4L465 796.1L458.7 798.5L455.6 798.5L454 801.5L452.4 798.5L449.3 798.5L443 796.1L441.5 791.4Z" fill="#06601a"/>
<path d="M498.1 792.7L501.2 789.3L502.8 784.6L509 782.2L512.2 782.2L513.7 779.2L515.3 782.2L518.4 782.2L524.7 784.6L526.3 789.3L529.4 792.7L526.3 796.1L524.7 800.8L518.4 803.2L515.3 803.2L513.7 806.2L512.2 803.2L509 803.2L502.8 800.8L501.2 796.1Z" fill="#06601a"/>
<path d="M507.7 796L510.8 792.6L512.4 787.9L518.6 785.5L521.8 785.5L523.3 782.5L524.9 785.5L528 785.5L534.3 787.9L535.9 792.6L539 796L535.9 799.4L534.3 804.1L528 806.5L524.9 806.5L523.3 809.5L521.8 806.5L518.6 806.5L512.4 804.1L510.8 799.4Z" fill="#06601a"/>
<path d="M517 799L520.1 795.6L521.7 790.9L528 788.5L531.1 788.5L532.7 785.5L534.2 788.5L537.4 788.5L543.6 790.9L545.2 795.6L548.3 799L545.2 802.4L543.6 807.1L537.4 809.5L534.2 809.5L532.7 812.5L531.1 809.5L528 809.5L521.7 807.1L520.1 802.4Z" fill="#06601a"/>
<path d="M526.3 802L529.5 798.6L531 793.9L537.3 791.5L540.4 791.5L542 788.5L543.6 791.5L546.7 791.5L553 793.9L554.5 798.6L557.7 802L554.5 805.4L553 810.1L546.7 812.5L543.6 812.5L542 815.5L540.4 812.5L537.3 812.5L531 810.1L529.5 805.4Z" fill="#06601a"/>
<path d="M589.3 803.7L592.5 800.3L594 795.6L600.3 793.2L603.4 793.2L605 790.2L606.6 793.2L609.7 793.2L616 795.6L617.5 800.3L620.7 803.7L617.5 807.1L616 811.8L609.7 814.2L606.6 814.2L605 817.2L603.4 814.2L600.3 814.2L594 811.8L592.5 807.1Z" fill="#06601a"/>
<path d="M592.3 833L595.5 829.6L597 824.9L603.3 822.5L606.4 822.5L608 819.5L609.6 822.5L612.7 822.5L619 824.9L620.5 829.6L623.7 833L620.5 836.4L619 841.1L612.7 843.5L609.6 843.5L608 846.5L606.4 843.5L603.3 843.5L597 841.1L595.5 836.4Z" fill="#06601a"/>
<path d="M603.7 833.6L606.8 830.2L608.4 825.5L614.6 823.1L617.8 823.1L619.3 820.1L620.9 823.1L624 823.1L630.3 825.5L631.9 830.2L635 833.6L631.9 837L630.3 841.7L624 844.1L620.9 844.1L619.3 847.1L617.8 844.1L614.6 844.1L608.4 841.7L606.8 837Z" fill="#06601a"/>
<path d="M615.7 834L618.8 830.6L620.4 825.9L626.6 823.5L629.8 823.5L631.3 820.5L632.9 823.5L636 823.5L642.3 825.9L643.9 830.6L647 834L643.9 837.4L642.3 842.1L636 844.5L632.9 844.5L631.3 847.5L629.8 844.5L626.6 844.5L620.4 842.1L618.8 837.4Z" fill="#06601a"/>
<path d="M679 830L682.1 826.6L683.7 821.9L690 819.5L693.1 819.5L694.7 816.5L696.2 819.5L699.4 819.5L705.6 821.9L707.2 826.6L710.3 830L707.2 833.4L705.6 838.1L699.4 840.5L696.2 840.5L694.7 843.5L693.1 840.5L690 840.5L683.7 838.1L682.1 833.4Z" fill="#06601a"/>
<path d="M694.3 845L697.5 841.6L699 836.9L705.3 834.5L708.4 834.5L710 831.5L711.6 834.5L714.7 834.5L721 836.9L722.5 841.6L725.7 845L722.5 848.4L721 853.1L714.7 855.5L711.6 855.5L710 858.5L708.4 855.5L705.3 855.5L699 853.1L697.5 848.4Z" fill="#06601a"/>
<path d="M706.3 856L709.5 852.6L711 847.9L717.3 845.5L720.4 845.5L722 842.5L723.6 845.5L726.7 845.5L733 847.9L734.5 852.6L737.7 856L734.5 859.4L733 864.1L726.7 866.5L723.6 866.5L722 869.5L720.4 866.5L717.3 866.5L711 864.1L709.5 859.4Z" fill="#06601a"/>
<path d="M773 857L776.1 853.6L777.7 848.9L784 846.5L787.1 846.5L788.7 843.5L790.2 846.5L793.4 846.5L799.6 848.9L801.2 853.6L804.3 857L801.2 860.4L799.6 865.1L793.4 867.5L790.2 867.5L788.7 870.5L787.1 867.5L784 867.5L777.7 865.1L776.1 860.4Z" fill="#06601a"/>
<path d="M777.7 1030L780.8 1026.6L782.4 1021.9L788.6 1019.5L791.8 1019.5L793.3 1016.5L794.9 1019.5L798 1019.5L804.3 1021.9L805.9 1026.6L809 1030L805.9 1033.4L804.3 1038.1L798 1040.5L794.9 1040.5L793.3 1043.5L791.8 1040.5L788.6 1040.5L782.4 1038.1L780.8 1033.4Z" fill="#06601a"/>
<path d="M793.7 1030L796.8 1026.6L798.4 1021.9L804.6 1019.5L807.8 1019.5L809.3 1016.5L810.9 1019.5L814 1019.5L820.3 1021.9L821.9 1026.6L825 1030L821.9 1033.4L820.3 1038.1L814 1040.5L810.9 1040.5L809.3 1043.5L807.8 1040.5L804.6 1040.5L798.4 1038.1L796.8 1033.4Z" fill="#06601a"/>
<path d="M861.7 1043L864.8 1039.6L866.4 1034.9L872.6 1032.5L875.8 1032.5L877.3 1029.5L878.9 1032.5L882 1032.5L888.3 1034.9L889.9 1039.6L893 1043L889.9 1046.4L888.3 1051.1L882 1053.5L878.9 1053.5L877.3 1056.5L875.8 1053.5L872.6 1053.5L866.4 1051.1L864.8 1046.4Z" fill="#06601a"/>
<path d="M871 1043L874.1 1039.6L875.7 1034.9L882 1032.5L885.1 1032.5L886.7 1029.5L888.2 1032.5L891.4 1032.5L897.6 1034.9L899.2 1039.6L902.3 1043L899.2 1046.4L897.6 1051.1L891.4 1053.5L888.2 1053.5L886.7 1056.5L885.1 1053.5L882 1053.5L875.7 1051.1L874.1 1046.4Z" fill="#06601a"/>
<path d="M881 1043L884.1 1039.6L885.7 1034.9L892 1032.5L895.1 1032.5L896.7 1029.5L898.2 1032.5L901.4 1032.5L907.6 1034.9L909.2 1039.6L912.3 1043L909.2 1046.4L907.6 1051.1L901.4 1053.5L898.2 1053.5L896.7 1056.5L895.1 1053.5L892 1053.5L885.7 1051.1L884.1 1046.4Z" fill="#06601a"/>
<path d="M952.3 1046L955.5 1042.6L957 1037.9L963.3 1035.5L966.4 1035.5L968 1032.5L969.6 1035.5L972.7 1035.5L979 1037.9L980.5 1042.6L983.7 1046L980.5 1049.4L979 1054.1L972.7 1056.5L969.6 1056.5L968 1059.5L966.4 1056.5L963.3 1056.5L957 1054.1L955.5 1049.4Z" fill="#06601a"/>
<path d="M964.3 1048L967.5 1044.6L969 1039.9L975.3 1037.5L978.4 1037.5L980 1034.5L981.6 1037.5L984.7 1037.5L991 1039.9L992.5 1044.6L995.7 1048L992.5 1051.4L991 1056.1L984.7 1058.5L981.6 1058.5L980 1061.5L978.4 1058.5L975.3 1058.5L969 1056.1L967.5 1051.4Z" fill="#06601a"/>
<path d="M976.3 1050L979.5 1046.6L981 1041.9L987.3 1039.5L990.4 1039.5L992 1036.5L993.6 1039.5L996.7 1039.5L1003 1041.9L1004.5 1046.6L1007.7 1050L1004.5 1053.4L1003 1058.1L996.7 1060.5L993.6 1060.5L992 1063.5L990.4 1060.5L987.3 1060.5L981 1058.1L979.5 1053.4Z" fill="#06601a"/>
<path d="M1047.7 1052L1050.8 1048.6L1052.4 1043.9L1058.6 1041.5L1061.8 1041.5L1063.3 1038.5L1064.9 1041.5L1068 1041.5L1074.3 1043.9L1075.9 1048.6L1079 1052L1075.9 1055.4L1074.3 1060.1L1068 1062.5L1064.9 1062.5L1063.3 1065.5L1061.8 1062.5L1058.6 1062.5L1052.4 1060.1L1050.8 1055.4Z" fill="#06601a"/>
<path d="M1063.7 1054L1066.8 1050.6L1068.4 1045.9L1074.6 1043.5L1077.8 1043.5L1079.3 1040.5L1080.9 1043.5L1084 1043.5L1090.3 1045.9L1091.9 1050.6L1095 1054L1091.9 1057.4L1090.3 1062.1L1084 1064.5L1080.9 1064.5L1079.3 1067.5L1077.8 1064.5L1074.6 1064.5L1068.4 1062.1L1066.8 1057.4Z" fill="#06601a"/>
<path d="M1134.3 1058L1137.5 1054.6L1139 1049.9L1145.3 1047.5L1148.4 1047.5L1150 1044.5L1151.6 1047.5L1154.7 1047.5L1161 1049.9L1162.5 1054.6L1165.7 1058L1162.5 1061.4L1161 1066.1L1154.7 1068.5L1151.6 1068.5L1150 1071.5L1148.4 1068.5L1145.3 1068.5L1139 1066.1L1137.5 1061.4Z" fill="#06601a"/>
<path d="M1149 1060L1152.1 1056.6L1153.7 1051.9L1160 1049.5L1163.1 1049.5L1164.7 1046.5L1166.2 1049.5L1169.4 1049.5L1175.6 1051.9L1177.2 1056.6L1180.3 1060L1177.2 1063.4L1175.6 1068.1L1169.4 1070.5L1166.2 1070.5L1164.7 1073.5L1163.1 1070.5L1160 1070.5L1153.7 1068.1L1152.1 1063.4Z" fill="#06601a"/>
<path d="M1232.3 1080L1235.5 1076.6L1237 1071.9L1243.3 1069.5L1246.4 1069.5L1248 1066.5L1249.6 1069.5L1252.7 1069.5L1259 1071.9L1260.5 1076.6L1263.7 1080L1260.5 1083.4L1259 1088.1L1252.7 1090.5L1249.6 1090.5L1248 1093.5L1246.4 1090.5L1243.3 1090.5L1237 1088.1L1235.5 1083.4Z" fill="#06601a"/>
<path d="M1239 1178L1242.1 1174.6L1243.7 1169.9L1250 1167.5L1253.1 1167.5L1254.7 1164.5L1256.2 1167.5L1259.4 1167.5L1265.6 1169.9L1267.2 1174.6L1270.3 1178L1267.2 1181.4L1265.6 1186.1L1259.4 1188.5L1256.2 1188.5L1254.7 1191.5L1253.1 1188.5L1250 1188.5L1243.7 1186.1L1242.1 1181.4Z" fill="#06601a"/>
<path d="M1315 1494L1318.1 1490.6L1319.7 1485.9L1326 1483.5L1329.1 1483.5L1330.7 1480.5L1332.2 1483.5L1335.4 1483.5L1341.6 1485.9L1343.2 1490.6L1346.3 1494L1343.2 1497.4L1341.6 1502.1L1335.4 1504.5L1332.2 1504.5L1330.7 1507.5L1329.1 1504.5L1326 1504.5L1319.7 1502.1L1318.1 1497.4Z" fill="#06601a"/>
<path d="M311 744L326.7 716L342.3 744Z" fill="#008011"/>
<path d="M318.7 754L334.3 726L350 754Z" fill="#008011"/>
<path d="M326.3 756L342 728L357.7 756Z" fill="#008011"/>
<path d="M334.3 756.5L350 728.5L365.7 756.5Z" fill="#008011"/>
<path d="M342.3 756.5L358 728.5L373.7 756.5Z" fill="#008011"/>
<path d="M350.3 756.5L366 728.5L381.7 756.5Z" fill="#008011"/>
<path d="M403.7 756.5L419.3 728.5L435 756.5Z" fill="#008011"/>
<path d="M413 756.5L428.7 728.5L444.3 756.5Z" fill="#008011"/>
<path d="M422.3 756.5L438 728.5L453.7 756.5Z" fill="#008011"/>
<path d="M431.7 756.5L447.3 728.5L463 756.5Z" fill="#008011"/>
<path d="M441.7 756.5L457.3 728.5L473 756.5Z" fill="#008011"/>
<path d="M495 757L510.7 729L526.3 757Z" fill="#008011"/>
<path d="M507.7 762L523.3 734L539 762Z" fill="#008011"/>
<path d="M520.3 766L536 738L551.7 766Z" fill="#008011"/>
<path d="M532.7 771L548.3 743L564 771Z" fill="#008011"/>
<path d="M586.3 777L602 749L617.7 777Z" fill="#008011"/>
<path d="M603 792L618.7 764L634.3 792Z" fill="#008011"/>
<path d="M677 802L692.7 774L708.3 802Z" fill="#008011"/>
<path d="M692.3 806L708 778L723.7 806Z" fill="#008011"/>
<path d="M708.3 810L724 782L739.7 810Z" fill="#008011"/>
<path d="M767.7 814L783.3 786L799 814Z" fill="#008011"/>
<path d="M777 1014L792.7 986L808.3 1014Z" fill="#008011"/>
<path d="M798.7 1022L814.4 994L830.1 1022Z" fill="#008011"/>
<path d="M861.7 1024L877.3 996L893 1024Z" fill="#008011"/>
<path d="M869.7 1042.7L885.3 1014.7L901 1042.7Z" fill="#008011"/>
<path d="M881 1050.6L896.7 1022.6L912.3 1050.6Z" fill="#008011"/>
<path d="M951.4 1049L967.1 1021L982.7 1049Z" fill="#008011"/>
<path d="M966.1 1060L981.7 1032L997.4 1060Z" fill="#008011"/>
<path d="M975 1097.8L990.7 1069.8L1006.3 1097.8Z" fill="#008011"/>
<path d="M1044.1 1110.4L1059.8 1082.4L1075.5 1110.4Z" fill="#008011"/>
<path d="M1050.3 1280L1066 1252L1081.7 1280Z" fill="#008011"/>
<path d="M1065 1442L1080.7 1414L1096.3 1442Z" fill="#008011"/>
<path d="M1126.3 1508L1142 1480L1157.7 1508Z" fill="#008011"/>
<path d="M311.3 654.5L327 679.5L342.7 654.5Z" fill="#c66300"/>
<path d="M318.7 699.5L334.3 724.5L350 699.5Z" fill="#c66300"/>
<path d="M326.3 701.5L342 726.5L357.7 701.5Z" fill="#c66300"/>
<path d="M334.3 702.5L350 727.5L365.7 702.5Z" fill="#c66300"/>
<path d="M342.3 706.5L358 731.5L373.7 706.5Z" fill="#c66300"/>
<path d="M350.3 709.5L366 734.5L381.7 709.5Z" fill="#c66300"/>
<path d="M403.7 711.5L419.3 736.5L435 711.5Z" fill="#c66300"/>
<path d="M413 712.5L428.7 737.5L444.3 712.5Z" fill="#c66300"/>
<path d="M422.3 713.5L438 738.5L453.7 713.5Z" fill="#c66300"/>
<path d="M431.7 714.5L447.3 739.5L463 714.5Z" fill="#c66300"/>
<path d="M441.7 715.5L457.3 740.5L473 715.5Z" fill="#c66300"/>
<path d="M495 718.5L510.7 743.5L526.3 718.5Z" fill="#c66300"/>
<path d="M507.7 719.5L523.3 744.5L539 719.5Z" fill="#c66300"/>
<path d="M520.3 720.5L536 745.5L551.7 720.5Z" fill="#c66300"/>
<path d="M532.3 721.5L548 746.5L563.7 721.5Z" fill="#c66300"/>
<path d="M586.3 724.5L602 749.5L617.7 724.5Z" fill="#c66300"/>
<path d="M597 725.5L612.7 750.5L628.3 725.5Z" fill="#c66300"/>
<path d="M607.7 726.5L623.3 751.5L639 726.5Z" fill="#c66300"/>
<path d="M617.7 727.5L633.3 752.5L649 727.5Z" fill="#c66300"/>
<path d="M677.7 730.5L693.3 755.5L709 730.5Z" fill="#c66300"/>
<path d="M691 732.5L706.7 757.5L722.3 732.5Z" fill="#c66300"/>
<path d="M708.3 759.5L724 784.5L739.7 759.5Z" fill="#c66300"/>
<path d="M768 774.5L783.7 799.5L799.3 774.5Z" fill="#c66300"/>
<path d="M777.4 787.5L793.1 812.5L808.7 787.5Z" fill="#c66300"/>
<path d="M783.5 1038.2L799.2 1063.2L814.9 1038.2Z" fill="#c66300"/>
<path d="M798.2 1058.5L813.9 1083.5L829.5 1058.5Z" fill="#c66300"/>
<path d="M862.2 1068.1L877.9 1093.1L893.5 1068.1Z" fill="#c66300"/>
<path d="M881 1076L896.7 1101L912.3 1076Z" fill="#c66300"/>
<path d="M955.7 1094.5L971.3 1119.5L987 1094.5Z" fill="#c66300"/>
<path d="M959.7 1129.5L975.3 1154.5L991 1129.5Z" fill="#c66300"/>
<path d="M966.1 1170.5L981.7 1195.5L997.4 1170.5Z" fill="#c66300"/>
<path d="M975.5 1293.2L991.2 1318.2L1006.9 1293.2Z" fill="#c66300"/>
<path d="M1044.3 1481.5L1060 1506.5L1075.7 1481.5Z" fill="#c66300"/>
<rect x="314.6" y="698.4" width="26.9" height="28.3" fill="#fff" stroke="#6a4c45" stroke-width="4.7" vector-effect="non-scaling-stroke"/>
<rect x="326.4" y="712.1" width="3.2" height="4.8" fill="#6a4c45"/>
<rect x="321.9" y="699.9" width="26.9" height="28.3" fill="#fff" stroke="#6a4c45" stroke-width="4.7" vector-effect="non-scaling-stroke"/>
<rect x="333.7" y="713.6" width="3.2" height="4.8" fill="#6a4c45"/>
<rect x="329.2" y="701.9" width="26.9" height="28.3" fill="#fff" stroke="#6a4c45" stroke-width="4.7" vector-effect="non-scaling-stroke"/>
<rect x="341.1" y="715.6" width="3.2" height="4.8" fill="#6a4c45"/>
<rect x="337.9" y="703.9" width="26.9" height="28.3" fill="#fff" stroke="#6a4c45" stroke-width="4.7" vector-effect="non-scaling-stroke"/>
<rect x="349.7" y="717.6" width="3.2" height="4.8" fill="#6a4c45"/>
<rect x="345.2" y="705.9" width="26.9" height="28.3" fill="#fff" stroke="#6a4c45" stroke-width="4.7" vector-effect="non-scaling-stroke"/>
<rect x="357.1" y="719.6" width="3.2" height="4.8" fill="#6a4c45"/>
<rect x="352.6" y="706.9" width="26.9" height="28.3" fill="#fff" stroke="#6a4c45" stroke-width="4.7" vector-effect="non-scaling-stroke"/>
<rect x="364.4" y="720.6" width="3.2" height="4.8" fill="#6a4c45"/>
<rect x="405" y="706.9" width="26.9" height="28.3" fill="#fff" stroke="#6a4c45" stroke-width="4.7" vector-effect="non-scaling-stroke"/>
<rect x="416.9" y="720.6" width="3.2" height="4.8" fill="#6a4c45"/>
<rect x="413.2" y="707.9" width="26.9" height="28.3" fill="#fff" stroke="#6a4c45" stroke-width="4.7" vector-effect="non-scaling-stroke"/>
<rect x="425.1" y="721.6" width="3.2" height="4.8" fill="#6a4c45"/>
<rect x="421.9" y="708.9" width="26.9" height="28.3" fill="#fff" stroke="#6a4c45" stroke-width="4.7" vector-effect="non-scaling-stroke"/>
<rect x="433.7" y="722.6" width="3.2" height="4.8" fill="#6a4c45"/>
<rect x="429.2" y="709.9" width="26.9" height="28.3" fill="#fff" stroke="#6a4c45" stroke-width="4.7" vector-effect="non-scaling-stroke"/>
<rect x="441.1" y="723.6" width="3.2" height="4.8" fill="#6a4c45"/>
<rect x="443.9" y="711.5" width="26.9" height="28.3" fill="#fff" stroke="#6a4c45" stroke-width="4.7" vector-effect="non-scaling-stroke"/>
<rect x="455.7" y="725.2" width="3.2" height="4.8" fill="#6a4c45"/>
<rect x="496.3" y="713.9" width="26.9" height="28.3" fill="#fff" stroke="#6a4c45" stroke-width="4.7" vector-effect="non-scaling-stroke"/>
<rect x="508.1" y="727.6" width="3.2" height="4.8" fill="#6a4c45"/>
<rect x="504.6" y="714.4" width="26.9" height="28.3" fill="#fff" stroke="#6a4c45" stroke-width="4.7" vector-effect="non-scaling-stroke"/>
<rect x="516.4" y="728.1" width="3.2" height="4.8" fill="#6a4c45"/>
<rect x="511.9" y="714.9" width="26.9" height="28.3" fill="#fff" stroke="#6a4c45" stroke-width="4.7" vector-effect="non-scaling-stroke"/>
<rect x="523.7" y="728.6" width="3.2" height="4.8" fill="#6a4c45"/>
<rect x="519.2" y="714.9" width="26.9" height="28.3" fill="#fff" stroke="#6a4c45" stroke-width="4.7" vector-effect="non-scaling-stroke"/>
<rect x="531.1" y="728.6" width="3.2" height="4.8" fill="#6a4c45"/>
<rect x="526.6" y="715.4" width="26.9" height="28.3" fill="#fff" stroke="#6a4c45" stroke-width="4.7" vector-effect="non-scaling-stroke"/>
<rect x="538.4" y="729.1" width="3.2" height="4.8" fill="#6a4c45"/>
<rect x="535.2" y="715.9" width="26.9" height="28.3" fill="#fff" stroke="#6a4c45" stroke-width="4.7" vector-effect="non-scaling-stroke"/>
<rect x="547.1" y="729.6" width="3.2" height="4.8" fill="#6a4c45"/>
<rect x="587.6" y="719.9" width="26.9" height="28.3" fill="#fff" stroke="#6a4c45" stroke-width="4.7" vector-effect="non-scaling-stroke"/>
<rect x="599.4" y="733.6" width="3.2" height="4.8" fill="#6a4c45"/>
<rect x="595.9" y="720.4" width="26.9" height="28.3" fill="#fff" stroke="#6a4c45" stroke-width="4.7" vector-effect="non-scaling-stroke"/>
<rect x="607.7" y="734.1" width="3.2" height="4.8" fill="#6a4c45"/>
<rect x="603.9" y="720.9" width="26.9" height="28.3" fill="#fff" stroke="#6a4c45" stroke-width="4.7" vector-effect="non-scaling-stroke"/>
<rect x="615.7" y="734.6" width="3.2" height="4.8" fill="#6a4c45"/>
<rect x="611.9" y="721.4" width="26.9" height="28.3" fill="#fff" stroke="#6a4c45" stroke-width="4.7" vector-effect="non-scaling-stroke"/>
<rect x="623.7" y="735.1" width="3.2" height="4.8" fill="#6a4c45"/>
<rect x="620.6" y="721.9" width="26.9" height="28.3" fill="#fff" stroke="#6a4c45" stroke-width="4.7" vector-effect="non-scaling-stroke"/>
<rect x="632.4" y="735.6" width="3.2" height="4.8" fill="#6a4c45"/>
<rect x="678.6" y="725.9" width="26.9" height="28.3" fill="#fff" stroke="#6a4c45" stroke-width="4.7" vector-effect="non-scaling-stroke"/>
<rect x="690.4" y="739.6" width="3.2" height="4.8" fill="#6a4c45"/>
<rect x="686.6" y="726.4" width="26.9" height="28.3" fill="#fff" stroke="#6a4c45" stroke-width="4.7" vector-effect="non-scaling-stroke"/>
<rect x="698.4" y="740.1" width="3.2" height="4.8" fill="#6a4c45"/>
<rect x="694.6" y="726.9" width="26.9" height="28.3" fill="#fff" stroke="#6a4c45" stroke-width="4.7" vector-effect="non-scaling-stroke"/>
<rect x="706.4" y="740.6" width="3.2" height="4.8" fill="#6a4c45"/>
<rect x="703.2" y="727.4" width="26.9" height="28.3" fill="#fff" stroke="#6a4c45" stroke-width="4.7" vector-effect="non-scaling-stroke"/>
<rect x="715.1" y="741.1" width="3.2" height="4.8" fill="#6a4c45"/>
<rect x="711.2" y="727.9" width="26.9" height="28.3" fill="#fff" stroke="#6a4c45" stroke-width="4.7" vector-effect="non-scaling-stroke"/>
<rect x="723.1" y="741.6" width="3.2" height="4.8" fill="#6a4c45"/>
<rect x="769.6" y="727.9" width="26.9" height="28.3" fill="#fff" stroke="#6a4c45" stroke-width="4.7" vector-effect="non-scaling-stroke"/>
<rect x="781.4" y="741.6" width="3.2" height="4.8" fill="#6a4c45"/>
<rect x="777.9" y="727.9" width="26.9" height="28.3" fill="#fff" stroke="#6a4c45" stroke-width="4.7" vector-effect="non-scaling-stroke"/>
<rect x="789.7" y="741.6" width="3.2" height="4.8" fill="#6a4c45"/>
<rect x="785.9" y="728.4" width="26.9" height="28.3" fill="#fff" stroke="#6a4c45" stroke-width="4.7" vector-effect="non-scaling-stroke"/>
<rect x="797.7" y="742.1" width="3.2" height="4.8" fill="#6a4c45"/>
<rect x="793.9" y="728.4" width="26.9" height="28.3" fill="#fff" stroke="#6a4c45" stroke-width="4.7" vector-effect="non-scaling-stroke"/>
<rect x="805.7" y="742.1" width="3.2" height="4.8" fill="#6a4c45"/>
<rect x="802.4" y="728.9" width="26.9" height="28.3" fill="#fff" stroke="#6a4c45" stroke-width="4.7" vector-effect="non-scaling-stroke"/>
<rect x="814.2" y="742.6" width="3.2" height="4.8" fill="#6a4c45"/>
<rect x="865.9" y="730.9" width="26.9" height="28.3" fill="#fff" stroke="#6a4c45" stroke-width="4.7" vector-effect="non-scaling-stroke"/>
<rect x="877.7" y="744.6" width="3.2" height="4.8" fill="#6a4c45"/>
<rect x="870.1" y="1186.8" width="26.9" height="28.3" fill="#fff" stroke="#6a4c45" stroke-width="4.7" vector-effect="non-scaling-stroke"/>
<rect x="881.9" y="1200.6" width="3.2" height="4.8" fill="#6a4c45"/>
<rect x="877" y="1195.8" width="26.9" height="28.3" fill="#fff" stroke="#6a4c45" stroke-width="4.7" vector-effect="non-scaling-stroke"/>
<rect x="888.9" y="1209.6" width="3.2" height="4.8" fill="#6a4c45"/>
<rect x="886.6" y="1201.8" width="26.9" height="28.3" fill="#fff" stroke="#6a4c45" stroke-width="4.7" vector-effect="non-scaling-stroke"/>
<rect x="898.4" y="1215.6" width="3.2" height="4.8" fill="#6a4c45"/>
<rect x="951.9" y="1201.8" width="26.9" height="28.3" fill="#fff" stroke="#6a4c45" stroke-width="4.7" vector-effect="non-scaling-stroke"/>
<rect x="963.7" y="1215.6" width="3.2" height="4.8" fill="#6a4c45"/>
<rect x="961" y="1203.3" width="26.9" height="28.3" fill="#fff" stroke="#6a4c45" stroke-width="4.7" vector-effect="non-scaling-stroke"/>
<rect x="972.8" y="1217.1" width="3.2" height="4.8" fill="#6a4c45"/>
<rect x="967.2" y="1204.8" width="26.9" height="28.3" fill="#fff" stroke="#6a4c45" stroke-width="4.7" vector-effect="non-scaling-stroke"/>
<rect x="979.1" y="1218.6" width="3.2" height="4.8" fill="#6a4c45"/>
<rect x="977.9" y="1206.5" width="26.9" height="28.3" fill="#fff" stroke="#6a4c45" stroke-width="4.7" vector-effect="non-scaling-stroke"/>
<rect x="989.7" y="1220.3" width="3.2" height="4.8" fill="#6a4c45"/>
<rect x="1046.4" y="1211.2" width="26.9" height="28.3" fill="#fff" stroke="#6a4c45" stroke-width="4.7" vector-effect="non-scaling-stroke"/>
<rect x="1058.2" y="1225" width="3.2" height="4.8" fill="#6a4c45"/>
<rect x="1053.2" y="1479.8" width="26.9" height="28.3" fill="#fff" stroke="#6a4c45" stroke-width="4.7" vector-effect="non-scaling-stroke"/>
<rect x="1065.1" y="1493.6" width="3.2" height="4.8" fill="#6a4c45"/>
<rect x="1067.9" y="1479.8" width="26.9" height="28.3" fill="#fff" stroke="#6a4c45" stroke-width="4.7" vector-effect="non-scaling-stroke"/>
<rect x="1079.7" y="1493.6" width="3.2" height="4.8" fill="#6a4c45"/>
<rect x="1137.9" y="1479.8" width="26.9" height="28.3" fill="#fff" stroke="#6a4c45" stroke-width="4.7" vector-effect="non-scaling-stroke"/>
<rect x="1149.7" y="1493.6" width="3.2" height="4.8" fill="#6a4c45"/>
<rect x="1143.9" y="1479.8" width="26.9" height="28.3" fill="#fff" stroke="#6a4c45" stroke-width="4.7" vector-effect="non-scaling-stroke"/>
<rect x="1155.7" y="1493.6" width="3.2" height="4.8" fill="#6a4c45"/>
<rect x="1149.9" y="1479.8" width="26.9" height="28.3" fill="#fff" stroke="#6a4c45" stroke-width="4.7" vector-effect="non-scaling-stroke"/>
<rect x="1161.7" y="1493.6" width="3.2" height="4.8" fill="#6a4c45"/>
<rect x="1228.6" y="1479.8" width="26.9" height="28.3" fill="#fff" stroke="#6a4c45" stroke-width="4.7" vector-effect="non-scaling-stroke"/>
<rect x="1240.4" y="1493.6" width="3.2" height="4.8" fill="#6a4c45"/>
<rect x="1234.6" y="1479.8" width="26.9" height="28.3" fill="#fff" stroke="#6a4c45" stroke-width="4.7" vector-effect="non-scaling-stroke"/>
<rect x="1246.4" y="1493.6" width="3.2" height="4.8" fill="#6a4c45"/>
<rect x="1241.2" y="1479.8" width="26.9" height="28.3" fill="#fff" stroke="#6a4c45" stroke-width="4.7" vector-effect="non-scaling-stroke"/>
<rect x="1253.1" y="1493.6" width="3.2" height="4.8" fill="#6a4c45"/>
<rect x="1319.9" y="1479.8" width="26.9" height="28.3" fill="#fff" stroke="#6a4c45" stroke-width="4.7" vector-effect="non-scaling-stroke"/>
<rect x="1331.7" y="1493.6" width="3.2" height="4.8" fill="#6a4c45"/>
<rect x="1326.6" y="1479.8" width="26.9" height="28.3" fill="#fff" stroke="#6a4c45" stroke-width="4.7" vector-effect="non-scaling-stroke"/>
<rect x="1338.4" y="1493.6" width="3.2" height="4.8" fill="#6a4c45"/>
<rect x="1335.2" y="1479.8" width="26.9" height="28.3" fill="#fff" stroke="#6a4c45" stroke-width="4.7" vector-effect="non-scaling-stroke"/>
<rect x="1347.1" y="1493.6" width="3.2" height="4.8" fill="#6a4c45"/>
<ellipse cx="326.7" cy="351" rx="12.7" ry="11.5" fill="#fff" stroke="#06601a" stroke-width="4" vector-effect="non-scaling-stroke"/>
<rect x="325.1" y="349.6" width="3.2" height="4.8" fill="#06601a"/>
<ellipse cx="332" cy="435" rx="12.7" ry="11.5" fill="#fff" stroke="#06601a" stroke-width="4" vector-effect="non-scaling-stroke"/>
<rect x="330.4" y="433.6" width="3.2" height="4.8" fill="#06601a"/>
<ellipse cx="342" cy="445" rx="12.7" ry="11.5" fill="#fff" stroke="#06601a" stroke-width="4" vector-effect="non-scaling-stroke"/>
<rect x="340.4" y="443.6" width="3.2" height="4.8" fill="#06601a"/>
<ellipse cx="356.7" cy="449" rx="12.7" ry="11.5" fill="#fff" stroke="#06601a" stroke-width="4" vector-effect="non-scaling-stroke"/>
<rect x="355.1" y="447.6" width="3.2" height="4.8" fill="#06601a"/>
<ellipse cx="366.7" cy="451" rx="12.7" ry="11.5" fill="#fff" stroke="#06601a" stroke-width="4" vector-effect="non-scaling-stroke"/>
<rect x="365.1" y="449.6" width="3.2" height="4.8" fill="#06601a"/>
<ellipse cx="416.7" cy="451" rx="12.7" ry="11.5" fill="#fff" stroke="#06601a" stroke-width="4" vector-effect="non-scaling-stroke"/>
<rect x="415.1" y="449.6" width="3.2" height="4.8" fill="#06601a"/>
<ellipse cx="426.7" cy="460" rx="12.7" ry="11.5" fill="#fff" stroke="#06601a" stroke-width="4" vector-effect="non-scaling-stroke"/>
<rect x="425.1" y="458.6" width="3.2" height="4.8" fill="#06601a"/>
<ellipse cx="433.3" cy="492" rx="12.7" ry="11.5" fill="#fff" stroke="#06601a" stroke-width="4" vector-effect="non-scaling-stroke"/>
<rect x="431.7" y="490.6" width="3.2" height="4.8" fill="#06601a"/>
<ellipse cx="439.3" cy="711.5" rx="12.7" ry="11.5" fill="#fff" stroke="#06601a" stroke-width="4" vector-effect="non-scaling-stroke"/>
<rect x="437.7" y="710.1" width="3.2" height="4.8" fill="#06601a"/>
<ellipse cx="447.3" cy="711.5" rx="12.7" ry="11.5" fill="#fff" stroke="#06601a" stroke-width="4" vector-effect="non-scaling-stroke"/>
<rect x="445.7" y="710.1" width="3.2" height="4.8" fill="#06601a"/>
<ellipse cx="455.6" cy="711.5" rx="12.7" ry="11.5" fill="#fff" stroke="#06601a" stroke-width="4" vector-effect="non-scaling-stroke"/>
<rect x="454" y="710.1" width="3.2" height="4.8" fill="#06601a"/>
<ellipse cx="511.9" cy="715.6" rx="12.7" ry="11.5" fill="#fff" stroke="#06601a" stroke-width="4" vector-effect="non-scaling-stroke"/>
<rect x="510.3" y="714.2" width="3.2" height="4.8" fill="#06601a"/>
<ellipse cx="522.7" cy="715.6" rx="12.7" ry="11.5" fill="#fff" stroke="#06601a" stroke-width="4" vector-effect="non-scaling-stroke"/>
<rect x="521.1" y="714.2" width="3.2" height="4.8" fill="#06601a"/>
<ellipse cx="533.3" cy="715.6" rx="12.7" ry="11.5" fill="#fff" stroke="#06601a" stroke-width="4" vector-effect="non-scaling-stroke"/>
<rect x="531.7" y="714.2" width="3.2" height="4.8" fill="#06601a"/>
<ellipse cx="543.7" cy="715.6" rx="12.7" ry="11.5" fill="#fff" stroke="#06601a" stroke-width="4" vector-effect="non-scaling-stroke"/>
<rect x="542.1" y="714.2" width="3.2" height="4.8" fill="#06601a"/>
<ellipse cx="602" cy="717" rx="12.7" ry="11.5" fill="#fff" stroke="#06601a" stroke-width="4" vector-effect="non-scaling-stroke"/>
<rect x="600.4" y="715.6" width="3.2" height="4.8" fill="#06601a"/>
<ellipse cx="610.7" cy="717" rx="12.7" ry="11.5" fill="#fff" stroke="#06601a" stroke-width="4" vector-effect="non-scaling-stroke"/>
<rect x="609.1" y="715.6" width="3.2" height="4.8" fill="#06601a"/>
<ellipse cx="620" cy="717.5" rx="12.7" ry="11.5" fill="#fff" stroke="#06601a" stroke-width="4" vector-effect="non-scaling-stroke"/>
<rect x="618.4" y="716.1" width="3.2" height="4.8" fill="#06601a"/>
<ellipse cx="628.7" cy="718" rx="12.7" ry="11.5" fill="#fff" stroke="#06601a" stroke-width="4" vector-effect="non-scaling-stroke"/>
<rect x="627.1" y="716.6" width="3.2" height="4.8" fill="#06601a"/>
<ellipse cx="694" cy="721" rx="12.7" ry="11.5" fill="#fff" stroke="#06601a" stroke-width="4" vector-effect="non-scaling-stroke"/>
<rect x="692.4" y="719.6" width="3.2" height="4.8" fill="#06601a"/>
<ellipse cx="702.7" cy="721.5" rx="12.7" ry="11.5" fill="#fff" stroke="#06601a" stroke-width="4" vector-effect="non-scaling-stroke"/>
<rect x="701.1" y="720.1" width="3.2" height="4.8" fill="#06601a"/>
<ellipse cx="711.3" cy="722" rx="12.7" ry="11.5" fill="#fff" stroke="#06601a" stroke-width="4" vector-effect="non-scaling-stroke"/>
<rect x="709.7" y="720.6" width="3.2" height="4.8" fill="#06601a"/>
<ellipse cx="719.3" cy="722.5" rx="12.7" ry="11.5" fill="#fff" stroke="#06601a" stroke-width="4" vector-effect="non-scaling-stroke"/>
<rect x="717.7" y="721.1" width="3.2" height="4.8" fill="#06601a"/>
<ellipse cx="785.3" cy="725" rx="12.7" ry="11.5" fill="#fff" stroke="#06601a" stroke-width="4" vector-effect="non-scaling-stroke"/>
<rect x="783.7" y="723.6" width="3.2" height="4.8" fill="#06601a"/>
<ellipse cx="793.3" cy="725" rx="12.7" ry="11.5" fill="#fff" stroke="#06601a" stroke-width="4" vector-effect="non-scaling-stroke"/>
<rect x="791.7" y="723.6" width="3.2" height="4.8" fill="#06601a"/>
<ellipse cx="801.3" cy="725" rx="12.7" ry="11.5" fill="#fff" stroke="#06601a" stroke-width="4" vector-effect="non-scaling-stroke"/>
<rect x="799.7" y="723.6" width="3.2" height="4.8" fill="#06601a"/>
<ellipse cx="809.3" cy="725" rx="12.7" ry="11.5" fill="#fff" stroke="#06601a" stroke-width="4" vector-effect="non-scaling-stroke"/>
<rect x="807.7" y="723.6" width="3.2" height="4.8" fill="#06601a"/>
<ellipse cx="878.7" cy="727" rx="12.7" ry="11.5" fill="#fff" stroke="#06601a" stroke-width="4" vector-effect="non-scaling-stroke"/>
<rect x="877.1" y="725.6" width="3.2" height="4.8" fill="#06601a"/>
<ellipse cx="886.7" cy="727.5" rx="12.7" ry="11.5" fill="#fff" stroke="#06601a" stroke-width="4" vector-effect="non-scaling-stroke"/>
<rect x="885.1" y="726.1" width="3.2" height="4.8" fill="#06601a"/>
<ellipse cx="894" cy="728" rx="12.7" ry="11.5" fill="#fff" stroke="#06601a" stroke-width="4" vector-effect="non-scaling-stroke"/>
<rect x="892.4" y="726.6" width="3.2" height="4.8" fill="#06601a"/>
<ellipse cx="965.3" cy="732" rx="12.7" ry="11.5" fill="#fff" stroke="#06601a" stroke-width="4" vector-effect="non-scaling-stroke"/>
<rect x="963.7" y="730.6" width="3.2" height="4.8" fill="#06601a"/>
<ellipse cx="975.3" cy="733" rx="12.7" ry="11.5" fill="#fff" stroke="#06601a" stroke-width="4" vector-effect="non-scaling-stroke"/>
<rect x="973.7" y="731.6" width="3.2" height="4.8" fill="#06601a"/>
<ellipse cx="986" cy="734" rx="12.7" ry="11.5" fill="#fff" stroke="#06601a" stroke-width="4" vector-effect="non-scaling-stroke"/>
<rect x="984.4" y="732.6" width="3.2" height="4.8" fill="#06601a"/>
<ellipse cx="1058.7" cy="748" rx="12.7" ry="11.5" fill="#fff" stroke="#06601a" stroke-width="4" vector-effect="non-scaling-stroke"/>
<rect x="1057.1" y="746.6" width="3.2" height="4.8" fill="#06601a"/>
<ellipse cx="1066.7" cy="752" rx="12.7" ry="11.5" fill="#fff" stroke="#06601a" stroke-width="4" vector-effect="non-scaling-stroke"/>
<rect x="1065.1" y="750.6" width="3.2" height="4.8" fill="#06601a"/>
<ellipse cx="1080" cy="797" rx="12.7" ry="11.5" fill="#fff" stroke="#06601a" stroke-width="4" vector-effect="non-scaling-stroke"/>
<rect x="1078.4" y="795.6" width="3.2" height="4.8" fill="#06601a"/>
<ellipse cx="1150.7" cy="882" rx="12.7" ry="11.5" fill="#fff" stroke="#06601a" stroke-width="4" vector-effect="non-scaling-stroke"/>
<rect x="1149.1" y="880.6" width="3.2" height="4.8" fill="#06601a"/>
<ellipse cx="1155.3" cy="1240" rx="12.7" ry="11.5" fill="#fff" stroke="#06601a" stroke-width="4" vector-effect="non-scaling-stroke"/>
<rect x="1153.7" y="1238.6" width="3.2" height="4.8" fill="#06601a"/>
<ellipse cx="1161.3" cy="1322" rx="12.7" ry="11.5" fill="#fff" stroke="#06601a" stroke-width="4" vector-effect="non-scaling-stroke"/>
<rect x="1159.7" y="1320.6" width="3.2" height="4.8" fill="#06601a"/>
<ellipse cx="1244" cy="1322" rx="12.7" ry="11.5" fill="#fff" stroke="#06601a" stroke-width="4" vector-effect="non-scaling-stroke"/>
<rect x="1242.4" y="1320.6" width="3.2" height="4.8" fill="#06601a"/>
<ellipse cx="1248" cy="1328" rx="12.7" ry="11.5" fill="#fff" stroke="#06601a" stroke-width="4" vector-effect="non-scaling-stroke"/>
<rect x="1246.4" y="1326.6" width="3.2" height="4.8" fill="#06601a"/>
<ellipse cx="1251.3" cy="1335" rx="12.7" ry="11.5" fill="#fff" stroke="#06601a" stroke-width="4" vector-effect="non-scaling-stroke"/>
<rect x="1249.7" y="1333.6" width="3.2" height="4.8" fill="#06601a"/>
<ellipse cx="1334.7" cy="1337" rx="12.7" ry="11.5" fill="#fff" stroke="#06601a" stroke-width="4" vector-effect="non-scaling-stroke"/>
<rect x="1333.1" y="1335.6" width="3.2" height="4.8" fill="#06601a"/>
<ellipse cx="1341.3" cy="1337" rx="12.7" ry="11.5" fill="#fff" stroke="#06601a" stroke-width="4" vector-effect="non-scaling-stroke"/>
<rect x="1339.7" y="1335.6" width="3.2" height="4.8" fill="#06601a"/>
<ellipse cx="1348" cy="1339" rx="12.7" ry="11.5" fill="#fff" stroke="#06601a" stroke-width="4" vector-effect="non-scaling-stroke"/>
<rect x="1346.4" y="1337.6" width="3.2" height="4.8" fill="#06601a"/>
</g>
<text x="408.5" y="1510" font-size="53" fill="#161616" textLength="29" lengthAdjust="spacing">0</text>
<text x="365.7" y="1266.8" font-size="53" fill="#161616" textLength="71.8" lengthAdjust="spacing">50</text>
<text x="322.9" y="1023.6" font-size="53" fill="#161616" textLength="114.6" lengthAdjust="spacing">100</text>
<text x="322.9" y="780.4" font-size="53" fill="#161616" textLength="114.6" lengthAdjust="spacing">150</text>
<text x="322.9" y="537.2" font-size="53" fill="#161616" textLength="114.6" lengthAdjust="spacing">200</text>
<text x="322.9" y="294" font-size="53" fill="#161616" textLength="114.6" lengthAdjust="spacing">250</text>
<text x="470.5" y="1552.5" font-size="53" fill="#161616" textLength="28" lengthAdjust="spacing">0</text>
<text x="735.2" y="1552.5" font-size="53" fill="#161616" textLength="69.5" lengthAdjust="spacing">50</text>
<text x="1000" y="1552.5" font-size="53" fill="#161616" textLength="111" lengthAdjust="spacing">100</text>
<text x="1285.5" y="1552.5" font-size="53" fill="#161616" textLength="111" lengthAdjust="spacing">150</text>
<text x="1571" y="1552.5" font-size="53" fill="#161616" textLength="111" lengthAdjust="spacing">200</text>
<text x="1856.5" y="1552.5" font-size="53" fill="#161616" textLength="111" lengthAdjust="spacing">250</text>
<text x="2142" y="1552.5" font-size="53" fill="#161616" textLength="111" lengthAdjust="spacing">300</text>
<text x="1220" y="1614" font-size="51" fill="#1c1c1c" textLength="235" lengthAdjust="spacing">Time, h</text>
<g transform="translate(285 1151) rotate(-90) scale(1 1.14)">
<text x="0" y="0" font-size="50.8" fill="#1c1c1c" textLength="494" lengthAdjust="spacing">Salicylate conc., mg/L</text>
</g>
<g transform="translate(33 135.8) scale(1.18 1)">
<text x="0" y="0" font-size="102" fill="#000" font-family="'Liberation Serif', serif" stroke="#000" stroke-width="3.2" stroke-linejoin="round">b</text>
</g>
<rect x="191" y="45.2" width="188.3" height="9.5" fill="#dd0806"/>
<g transform="scale(1.5 1)">
<ellipse cx="190" cy="50" rx="12.7" ry="14" fill="#dd0806"/>
</g>
<text x="393.5" y="68.9" font-size="46" fill="#dd0806" textLength="857" lengthAdjust="spacing" fill-opacity="1">Phenol=79 mg/L,SA=158 mg/L</text>
<rect x="191" y="97.2" width="188.3" height="9.5" fill="#0000d4"/>
<g transform="scale(1.5 1)">
<rect x="174.3" y="85.5" width="31.3" height="33" fill="#0000d4"/>
</g>
<text x="393.5" y="116" font-size="46" fill="#0000d4" textLength="894" lengthAdjust="spacing" fill-opacity="1">Phenol=121 mg/L,SA=161 mg/L</text>
<rect x="191" y="149.2" width="188.3" height="9.5" fill="#06601a"/>
<g transform="scale(1.5 1)">
<path d="M177.3 153.9L179.9 149.8L181.1 144L186.2 141L188.7 141L190 137.4L191.3 141L193.8 141L198.9 144L200.1 149.8L202.7 153.9L200.1 158L198.9 163.8L193.8 166.8L191.3 166.8L190 170.4L188.7 166.8L186.2 166.8L181.1 163.8L179.9 158Z" fill="#06601a"/>
</g>
<text x="393.5" y="167.4" font-size="46" fill="#06601a" textLength="894" lengthAdjust="spacing" fill-opacity="1">Phenol=178 mg/L,SA=165 mg/L</text>
<rect x="191" y="201.1" width="188.3" height="9.5" fill="#008011"/>
<g transform="scale(1.5 1)">
<path d="M174.3 219.8L190 191.8L205.7 219.8Z" fill="#008011"/>
</g>
<text x="393.5" y="219.3" font-size="46" fill="#008011" textLength="894" lengthAdjust="spacing" fill-opacity="1">Phenol=240 mg/L,SA=171 mg/L</text>
<rect x="1307.7" y="45.2" width="192.6" height="9.5" fill="#c66300"/>
<g transform="scale(1.5 1)">
<path d="M921.8 40.5L937.3 63.5L952.8 40.5Z" fill="#c66300"/>
</g>
<text x="1515.4" y="68.2" font-size="46" fill="#c66300" textLength="888" lengthAdjust="spacing" fill-opacity="1">Phenol=316 mg/L,SA=186 mg/L</text>
<rect x="1307.7" y="106.1" width="192.6" height="4.7" fill="#6a4c45"/>
<g transform="scale(1.5 1)">
<rect x="923.4" y="94.8" width="27.9" height="32.3" fill="#fff" stroke="#6a4c45" stroke-width="4.7" vector-effect="non-scaling-stroke"/>
<rect x="935.7" y="110.6" width="3.2" height="4.8" fill="#6a4c45"/>
</g>
<text x="1515.4" y="124" font-size="46" fill="#6a4c45" textLength="888" lengthAdjust="spacing" fill-opacity="1">Phenol=430 mg/L,SA=198 mg/L</text>
<rect x="1307.7" y="153.2" width="192.6" height="9.5" fill="#06601a"/>
<g transform="scale(1.5 1)">
<ellipse cx="935.7" cy="158" rx="9.7" ry="12" fill="#fff" stroke="#06601a" stroke-width="4" vector-effect="non-scaling-stroke"/>
<rect x="934.1" y="156.6" width="3.2" height="4.8" fill="#06601a"/>
</g>
<text x="1515.4" y="176.2" font-size="46" fill="#06601a" textLength="888" lengthAdjust="spacing" fill-opacity="1">Phenol=453 mg/L,SA=235 mg/L</text>
<rect x="411.5" y="2033" width="1852.5" height="14" fill="#0000d4"/>
<rect x="411.5" y="3153.2" width="1852.5" height="9.5" fill="#0000d4"/>
<rect x="411.5" y="2033" width="19" height="1129.8" fill="#0000d4"/>
<rect x="2245" y="2033" width="19" height="1129.8" fill="#0000d4"/>
<rect x="472.1" y="2047" width="21" height="10" fill="#0000d4"/>
<rect x="472.1" y="3143.8" width="21" height="9.5" fill="#0000d4"/>
<rect x="533.2" y="2047" width="21" height="10" fill="#0000d4"/>
<rect x="533.2" y="3143.8" width="21" height="9.5" fill="#0000d4"/>
<rect x="594.3" y="2047" width="21" height="10" fill="#0000d4"/>
<rect x="594.3" y="3143.8" width="21" height="9.5" fill="#0000d4"/>
<rect x="655.4" y="2047" width="21" height="10" fill="#0000d4"/>
<rect x="655.4" y="3143.8" width="21" height="9.5" fill="#0000d4"/>
<rect x="717.5" y="2047" width="19" height="19" fill="#0000d4"/>
<rect x="717.5" y="3134.2" width="19" height="19" fill="#0000d4"/>
<rect x="777.6" y="2047" width="21" height="10" fill="#0000d4"/>
<rect x="777.6" y="3143.8" width="21" height="9.5" fill="#0000d4"/>
<rect x="838.7" y="2047" width="21" height="10" fill="#0000d4"/>
<rect x="838.7" y="3143.8" width="21" height="9.5" fill="#0000d4"/>
<rect x="899.8" y="2047" width="21" height="10" fill="#0000d4"/>
<rect x="899.8" y="3143.8" width="21" height="9.5" fill="#0000d4"/>
<rect x="960.9" y="2047" width="21" height="10" fill="#0000d4"/>
<rect x="960.9" y="3143.8" width="21" height="9.5" fill="#0000d4"/>
<rect x="1023" y="2047" width="19" height="19" fill="#0000d4"/>
<rect x="1023" y="3134.2" width="19" height="19" fill="#0000d4"/>
<rect x="1083.1" y="2047" width="21" height="10" fill="#0000d4"/>
<rect x="1083.1" y="3143.8" width="21" height="9.5" fill="#0000d4"/>
<rect x="1144.2" y="2047" width="21" height="10" fill="#0000d4"/>
<rect x="1144.2" y="3143.8" width="21" height="9.5" fill="#0000d4"/>
<rect x="1205.3" y="2047" width="21" height="10" fill="#0000d4"/>
<rect x="1205.3" y="3143.8" width="21" height="9.5" fill="#0000d4"/>
<rect x="1266.4" y="2047" width="21" height="10" fill="#0000d4"/>
<rect x="1266.4" y="3143.8" width="21" height="9.5" fill="#0000d4"/>
<rect x="1328.5" y="2047" width="19" height="19" fill="#0000d4"/>
<rect x="1328.5" y="3134.2" width="19" height="19" fill="#0000d4"/>
<rect x="1388.6" y="2047" width="21" height="10" fill="#0000d4"/>
<rect x="1388.6" y="3143.8" width="21" height="9.5" fill="#0000d4"/>
<rect x="1449.7" y="2047" width="21" height="10" fill="#0000d4"/>
<rect x="1449.7" y="3143.8" width="21" height="9.5" fill="#0000d4"/>
<rect x="1510.8" y="2047" width="21" height="10" fill="#0000d4"/>
<rect x="1510.8" y="3143.8" width="21" height="9.5" fill="#0000d4"/>
<rect x="1571.9" y="2047" width="21" height="10" fill="#0000d4"/>
<rect x="1571.9" y="3143.8" width="21" height="9.5" fill="#0000d4"/>
<rect x="1634" y="2047" width="19" height="19" fill="#0000d4"/>
<rect x="1634" y="3134.2" width="19" height="19" fill="#0000d4"/>
<rect x="1694.1" y="2047" width="21" height="10" fill="#0000d4"/>
<rect x="1694.1" y="3143.8" width="21" height="9.5" fill="#0000d4"/>
<rect x="1755.2" y="2047" width="21" height="10" fill="#0000d4"/>
<rect x="1755.2" y="3143.8" width="21" height="9.5" fill="#0000d4"/>
<rect x="1816.3" y="2047" width="21" height="10" fill="#0000d4"/>
<rect x="1816.3" y="3143.8" width="21" height="9.5" fill="#0000d4"/>
<rect x="1877.4" y="2047" width="21" height="10" fill="#0000d4"/>
<rect x="1877.4" y="3143.8" width="21" height="9.5" fill="#0000d4"/>
<rect x="1939.5" y="2047" width="19" height="19" fill="#0000d4"/>
<rect x="1939.5" y="3134.2" width="19" height="19" fill="#0000d4"/>
<rect x="1999.6" y="2047" width="21" height="10" fill="#0000d4"/>
<rect x="1999.6" y="3143.8" width="21" height="9.5" fill="#0000d4"/>
<rect x="2060.7" y="2047" width="21" height="10" fill="#0000d4"/>
<rect x="2060.7" y="3143.8" width="21" height="9.5" fill="#0000d4"/>
<rect x="2121.8" y="2047" width="21" height="10" fill="#0000d4"/>
<rect x="2121.8" y="3143.8" width="21" height="9.5" fill="#0000d4"/>
<rect x="2182.9" y="2047" width="21" height="10" fill="#0000d4"/>
<rect x="2182.9" y="3143.8" width="21" height="9.5" fill="#0000d4"/>
<rect x="430.5" y="3114.7" width="14.5" height="12" fill="#0000d4"/>
<rect x="2230.5" y="3114.7" width="14.5" height="12" fill="#0000d4"/>
<rect x="430.5" y="3077.5" width="14.5" height="12" fill="#0000d4"/>
<rect x="2230.5" y="3077.5" width="14.5" height="12" fill="#0000d4"/>
<rect x="430.5" y="3040.2" width="14.5" height="12" fill="#0000d4"/>
<rect x="2230.5" y="3040.2" width="14.5" height="12" fill="#0000d4"/>
<rect x="430.5" y="3002.9" width="14.5" height="12" fill="#0000d4"/>
<rect x="2230.5" y="3002.9" width="14.5" height="12" fill="#0000d4"/>
<rect x="430.5" y="2964.7" width="33.5" height="14" fill="#0000d4"/>
<rect x="2216" y="2964.7" width="29" height="14" fill="#0000d4"/>
<rect x="430.5" y="2928.4" width="14.5" height="12" fill="#0000d4"/>
<rect x="2230.5" y="2928.4" width="14.5" height="12" fill="#0000d4"/>
<rect x="430.5" y="2891.1" width="14.5" height="12" fill="#0000d4"/>
<rect x="2230.5" y="2891.1" width="14.5" height="12" fill="#0000d4"/>
<rect x="430.5" y="2853.8" width="14.5" height="12" fill="#0000d4"/>
<rect x="2230.5" y="2853.8" width="14.5" height="12" fill="#0000d4"/>
<rect x="430.5" y="2816.6" width="14.5" height="12" fill="#0000d4"/>
<rect x="2230.5" y="2816.6" width="14.5" height="12" fill="#0000d4"/>
<rect x="430.5" y="2778.3" width="33.5" height="14" fill="#0000d4"/>
<rect x="2216" y="2778.3" width="29" height="14" fill="#0000d4"/>
<rect x="430.5" y="2742" width="14.5" height="12" fill="#0000d4"/>
<rect x="2230.5" y="2742" width="14.5" height="12" fill="#0000d4"/>
<rect x="430.5" y="2704.8" width="14.5" height="12" fill="#0000d4"/>
<rect x="2230.5" y="2704.8" width="14.5" height="12" fill="#0000d4"/>
<rect x="430.5" y="2667.5" width="14.5" height="12" fill="#0000d4"/>
<rect x="2230.5" y="2667.5" width="14.5" height="12" fill="#0000d4"/>
<rect x="430.5" y="2630.2" width="14.5" height="12" fill="#0000d4"/>
<rect x="2230.5" y="2630.2" width="14.5" height="12" fill="#0000d4"/>
<rect x="430.5" y="2591.9" width="33.5" height="14" fill="#0000d4"/>
<rect x="2216" y="2591.9" width="29" height="14" fill="#0000d4"/>
<rect x="430.5" y="2555.7" width="14.5" height="12" fill="#0000d4"/>
<rect x="2230.5" y="2555.7" width="14.5" height="12" fill="#0000d4"/>
<rect x="430.5" y="2518.4" width="14.5" height="12" fill="#0000d4"/>
<rect x="2230.5" y="2518.4" width="14.5" height="12" fill="#0000d4"/>
<rect x="430.5" y="2481.1" width="14.5" height="12" fill="#0000d4"/>
<rect x="2230.5" y="2481.1" width="14.5" height="12" fill="#0000d4"/>
<rect x="430.5" y="2443.9" width="14.5" height="12" fill="#0000d4"/>
<rect x="2230.5" y="2443.9" width="14.5" height="12" fill="#0000d4"/>
<rect x="430.5" y="2405.6" width="33.5" height="14" fill="#0000d4"/>
<rect x="2216" y="2405.6" width="29" height="14" fill="#0000d4"/>
<rect x="430.5" y="2369.3" width="14.5" height="12" fill="#0000d4"/>
<rect x="2230.5" y="2369.3" width="14.5" height="12" fill="#0000d4"/>
<rect x="430.5" y="2332.1" width="14.5" height="12" fill="#0000d4"/>
<rect x="2230.5" y="2332.1" width="14.5" height="12" fill="#0000d4"/>
<rect x="430.5" y="2294.8" width="14.5" height="12" fill="#0000d4"/>
<rect x="2230.5" y="2294.8" width="14.5" height="12" fill="#0000d4"/>
<rect x="430.5" y="2257.5" width="14.5" height="12" fill="#0000d4"/>
<rect x="2230.5" y="2257.5" width="14.5" height="12" fill="#0000d4"/>
<rect x="430.5" y="2219.2" width="33.5" height="14" fill="#0000d4"/>
<rect x="2216" y="2219.2" width="29" height="14" fill="#0000d4"/>
<rect x="430.5" y="2183" width="14.5" height="12" fill="#0000d4"/>
<rect x="2230.5" y="2183" width="14.5" height="12" fill="#0000d4"/>
<rect x="430.5" y="2145.7" width="14.5" height="12" fill="#0000d4"/>
<rect x="2230.5" y="2145.7" width="14.5" height="12" fill="#0000d4"/>
<rect x="430.5" y="2108.4" width="14.5" height="12" fill="#0000d4"/>
<rect x="2230.5" y="2108.4" width="14.5" height="12" fill="#0000d4"/>
<rect x="430.5" y="2071.2" width="14.5" height="12" fill="#0000d4"/>
<rect x="2230.5" y="2071.2" width="14.5" height="12" fill="#0000d4"/>
<clipPath id="clip2"><rect x="430.5" y="2047" width="1814.5" height="1106.2"/></clipPath>
<g clip-path="url(#clip2)"><g transform="scale(1.65 1)">
<path d="M253.8 3126.5L259.9 2996.5L267.4 2996.5L267.4 3003.5L261.3 3133.5L253.8 3133.5ZM259.9 2996.5L267.5 2907.5L275.1 2907.5L275.1 2914.5L267.4 3003.5L259.9 3003.5ZM267.5 2907.5L272 2836.5L279.5 2836.5L279.5 2843.5L275.1 2914.5L267.5 2914.5ZM272 2836.5L278.7 2769.1L286.2 2769.1L286.2 2776.1L279.5 2843.5L272 2843.5ZM278.7 2769.1L288.4 2689.5L295.9 2689.5L295.9 2696.5L286.2 2776.1L278.7 2776.1ZM288.4 2689.5L338.7 2593.5L346.2 2593.5L346.2 2600.5L295.9 2696.5L288.4 2696.5ZM338.7 2593.5L350.8 2586.5L358.3 2586.5L358.3 2593.5L346.2 2600.5L338.7 2600.5ZM350.8 2586.5L362.9 2583.5L370.4 2583.5L370.4 2590.5L358.3 2593.5L350.8 2593.5ZM362.9 2583.5L370.4 2583.5L383.8 2586.5L383.8 2593.5L376.2 2593.5L362.9 2590.5ZM376.2 2586.5L430.8 2583.5L438.3 2583.5L438.3 2590.5L383.8 2593.5L376.2 2593.5ZM430.8 2583.5L447.8 2571.5L455.3 2571.5L455.3 2578.5L438.3 2590.5L430.8 2590.5ZM447.8 2571.5L462.9 2563.5L470.4 2563.5L470.4 2570.5L455.3 2578.5L447.8 2578.5ZM462.9 2563.5L517.5 2561.5L525 2561.5L525 2568.5L470.4 2570.5L462.9 2570.5ZM517.5 2561.5L528.5 2558.8L536.1 2558.8L536.1 2565.8L525 2568.5L517.5 2568.5ZM528.5 2558.8L539.6 2556.2L547.2 2556.2L547.2 2563.2L536.1 2565.8L528.5 2565.8ZM539.6 2556.2L550.8 2553.5L558.3 2553.5L558.3 2560.5L547.2 2563.2L539.6 2563.2ZM550.8 2553.5L605.3 2548.5L612.8 2548.5L612.8 2555.5L558.3 2560.5L550.8 2560.5ZM605.3 2548.5L616.4 2546.2L624 2546.2L624 2553.2L612.8 2555.5L605.3 2555.5ZM616.4 2546.2L627.5 2543.8L635.1 2543.8L635.1 2550.8L624 2553.2L616.4 2553.2ZM627.5 2543.8L638.7 2541.5L646.2 2541.5L646.2 2548.5L635.1 2550.8L627.5 2550.8ZM638.7 2541.5L699.3 2536.5L706.8 2536.5L706.8 2543.5L646.2 2548.5L638.7 2548.5ZM699.3 2536.5L708.4 2533.2L715.9 2533.2L715.9 2540.2L706.8 2543.5L699.3 2543.5ZM708.4 2533.2L717.5 2529.8L725 2529.8L725 2536.8L715.9 2540.2L708.4 2540.2ZM717.5 2529.8L726.5 2526.5L734.1 2526.5L734.1 2533.5L725 2536.8L717.5 2536.8ZM726.5 2526.5L784.1 2521.5L791.6 2521.5L791.6 2528.5L734.1 2533.5L726.5 2533.5ZM784.1 2521.5L793.2 2518.2L800.7 2518.2L800.7 2525.2L791.6 2528.5L784.1 2528.5ZM793.2 2518.2L802.3 2514.8L809.8 2514.8L809.8 2521.8L800.7 2525.2L793.2 2525.2ZM802.3 2514.8L811.4 2511.5L818.9 2511.5L818.9 2518.5L809.8 2521.8L802.3 2521.8ZM811.4 2511.5L870.4 2511.5L870.4 2518.5L811.4 2518.5ZM862.9 2511.5L875 2486.5L882.5 2486.5L882.5 2493.5L870.4 2518.5L862.9 2518.5ZM875 2486.5L887.2 2441.5L894.7 2441.5L894.7 2448.5L882.5 2493.5L875 2493.5ZM887.2 2441.5L896.2 2393.5L903.8 2393.5L903.8 2400.5L894.7 2448.5L887.2 2448.5ZM896.2 2393.5L964.1 2391.5L971.6 2391.5L971.6 2398.5L903.8 2400.5L896.2 2400.5ZM964.1 2391.5L969 2361.5L976.5 2361.5L976.5 2368.5L971.6 2398.5L964.1 2398.5ZM969 2361.5L984.1 2321.5L991.6 2321.5L991.6 2328.5L976.5 2368.5L969 2368.5ZM984.1 2321.5L1061.3 2321.5L1061.3 2328.5L984.1 2328.5ZM1053.8 2321.5L1065.9 2293.5L1073.5 2293.5L1073.5 2300.5L1061.3 2328.5L1053.8 2328.5ZM1065.9 2293.5L1129.6 2288.5L1137.1 2288.5L1137.1 2295.5L1073.5 2300.5L1065.9 2300.5ZM1129.6 2288.5L1139.3 2281.5L1146.8 2281.5L1146.8 2288.5L1137.1 2295.5L1129.6 2295.5ZM1139.3 2281.5L1151.4 2261.5L1158.9 2261.5L1158.9 2268.5L1146.8 2288.5L1139.3 2288.5ZM1151.4 2261.5L1221.1 2233.5L1228.6 2233.5L1228.6 2240.5L1158.9 2268.5L1151.4 2268.5ZM1221.1 2233.5L1235.6 2228.5L1243.2 2228.5L1243.2 2235.5L1228.6 2240.5L1221.1 2240.5ZM1235.6 2228.5L1250.8 2218.5L1258.3 2218.5L1258.3 2225.5L1243.2 2235.5L1235.6 2235.5Z" fill="#dd0806"/>
<path d="M253.8 3116.5L259.9 3036.5L267.4 3036.5L267.4 3043.5L261.3 3123.5L253.8 3123.5ZM259.9 3036.5L269 2961.5L276.5 2961.5L276.5 2968.5L267.4 3043.5L259.9 3043.5ZM269 2961.5L272 2876.5L279.5 2876.5L279.5 2883.5L276.5 2968.5L269 2968.5ZM272 2876.5L276.2 2796.5L283.8 2796.5L283.8 2803.5L279.5 2883.5L272 2883.5ZM276.2 2796.5L281.1 2736.5L288.6 2736.5L288.6 2743.5L283.8 2803.5L276.2 2803.5ZM281.1 2736.5L290.2 2706.5L297.7 2706.5L297.7 2713.5L288.6 2743.5L281.1 2743.5ZM290.2 2706.5L341.7 2618.5L349.2 2618.5L349.2 2625.5L297.7 2713.5L290.2 2713.5ZM341.7 2618.5L349 2596.5L356.5 2596.5L356.5 2603.5L349.2 2625.5L341.7 2625.5ZM349 2596.5L356.8 2563.5L364.4 2563.5L364.4 2570.5L356.5 2603.5L349 2603.5ZM356.8 2563.5L365.9 2548.5L373.5 2548.5L373.5 2555.5L364.4 2570.5L356.8 2570.5ZM365.9 2548.5L376.2 2526.5L383.8 2526.5L383.8 2533.5L373.5 2555.5L365.9 2555.5ZM376.2 2526.5L432.6 2518.5L440.1 2518.5L440.1 2525.5L383.8 2533.5L376.2 2533.5ZM432.6 2518.5L447.8 2486.5L455.3 2486.5L455.3 2493.5L440.1 2525.5L432.6 2525.5ZM447.8 2486.5L462.9 2473.5L470.4 2473.5L470.4 2480.5L455.3 2493.5L447.8 2493.5ZM462.9 2473.5L520.5 2471.5L528 2471.5L528 2478.5L470.4 2480.5L462.9 2480.5ZM520.5 2471.5L538.1 2471.5L538.1 2478.5L520.5 2478.5ZM530.5 2471.5L548.2 2471.5L548.2 2478.5L530.5 2478.5ZM540.7 2471.5L558.3 2471.5L558.3 2478.5L540.7 2478.5ZM550.8 2471.5L611.4 2466.5L618.9 2466.5L618.9 2473.5L558.3 2478.5L550.8 2478.5ZM611.4 2466.5L628 2466.5L628 2473.5L611.4 2473.5ZM620.5 2466.5L637.1 2466.5L637.1 2473.5L620.5 2473.5ZM629.6 2466.5L646.2 2466.5L646.2 2473.5L629.6 2473.5ZM638.7 2466.5L699.3 2456.5L706.8 2456.5L706.8 2463.5L646.2 2473.5L638.7 2473.5ZM699.3 2456.5L707.8 2455.8L715.3 2455.8L715.3 2462.8L706.8 2463.5L699.3 2463.5ZM707.8 2455.8L716.2 2455.2L723.8 2455.2L723.8 2462.2L715.3 2462.8L707.8 2462.8ZM716.2 2455.2L724.7 2454.5L732.2 2454.5L732.2 2461.5L723.8 2462.2L716.2 2462.2ZM724.7 2454.5L778.1 2331.5L785.6 2331.5L785.6 2338.5L732.2 2461.5L724.7 2461.5ZM778.1 2331.5L790.2 2311.5L797.7 2311.5L797.7 2318.5L785.6 2338.5L778.1 2338.5ZM790.2 2311.5L802.3 2288.5L809.8 2288.5L809.8 2295.5L797.7 2318.5L790.2 2318.5ZM802.3 2288.5L814.4 2268.5L821.9 2268.5L821.9 2275.5L809.8 2295.5L802.3 2295.5ZM814.4 2268.5L875 2236.5L882.5 2236.5L882.5 2243.5L821.9 2275.5L814.4 2275.5ZM875 2236.5L887.2 2228.5L894.7 2228.5L894.7 2235.5L882.5 2243.5L875 2243.5ZM887.2 2228.5L899.3 2221.5L906.8 2221.5L906.8 2228.5L894.7 2235.5L887.2 2235.5ZM899.3 2221.5L965.9 2218.5L973.5 2218.5L973.5 2225.5L906.8 2228.5L899.3 2228.5ZM965.9 2218.5L983.2 2218.5L983.2 2225.5L965.9 2225.5ZM975.6 2218.5L992.8 2218.5L992.8 2225.5L975.6 2225.5ZM985.3 2218.5L1064.4 2218.5L1064.4 2225.5L985.3 2225.5ZM1056.8 2218.5L1070.4 2218.5L1070.4 2225.5L1056.8 2225.5ZM1062.9 2218.5L1076.5 2218.5L1076.5 2225.5L1062.9 2225.5ZM1069 2218.5L1141.7 2208.5L1149.2 2208.5L1149.2 2215.5L1076.5 2225.5L1069 2225.5ZM1141.7 2208.5L1156.8 2208.5L1156.8 2215.5L1141.7 2215.5ZM1149.2 2208.5L1164.4 2208.5L1164.4 2215.5L1149.2 2215.5ZM1156.8 2208.5L1232.6 2206.5L1240.1 2206.5L1240.1 2213.5L1164.4 2215.5L1156.8 2215.5ZM1232.6 2206.5L1247.4 2206.5L1247.4 2213.5L1232.6 2213.5ZM1239.9 2206.5L1254.7 2206.5L1254.7 2213.5L1239.9 2213.5Z" fill="#0000d4"/>
<path d="M253.8 3096.5L259.9 3056.5L267.4 3056.5L267.4 3063.5L261.3 3103.5L253.8 3103.5ZM259.9 3056.5L265.9 3018.5L273.5 3018.5L273.5 3025.5L267.4 3063.5L259.9 3063.5ZM265.9 3018.5L272 2946.5L279.5 2946.5L279.5 2953.5L273.5 3025.5L265.9 3025.5ZM272 2946.5L278.1 2851.5L285.6 2851.5L285.6 2858.5L279.5 2953.5L272 2953.5ZM278.1 2851.5L290.2 2816.5L297.7 2816.5L297.7 2823.5L285.6 2858.5L278.1 2858.5ZM290.2 2816.5L338.7 2713.5L346.2 2713.5L346.2 2720.5L297.7 2823.5L290.2 2823.5ZM338.7 2713.5L344.7 2686.5L352.2 2686.5L352.2 2693.5L346.2 2720.5L338.7 2720.5ZM344.7 2686.5L355 2658.5L362.5 2658.5L362.5 2665.5L352.2 2693.5L344.7 2693.5ZM355 2658.5L362.9 2608.5L370.4 2608.5L370.4 2615.5L362.5 2665.5L355 2665.5ZM362.9 2608.5L372 2568.5L379.5 2568.5L379.5 2575.5L370.4 2615.5L362.9 2615.5ZM372 2568.5L378.1 2526.5L385.6 2526.5L385.6 2533.5L379.5 2575.5L372 2575.5ZM378.1 2526.5L432.6 2461.5L440.1 2461.5L440.1 2468.5L385.6 2533.5L378.1 2533.5ZM432.6 2461.5L447.8 2426.5L455.3 2426.5L455.3 2433.5L440.1 2468.5L432.6 2468.5ZM447.8 2426.5L462.9 2393.5L470.4 2393.5L470.4 2400.5L455.3 2433.5L447.8 2433.5ZM462.9 2393.5L529.6 2311.5L537.1 2311.5L537.1 2318.5L470.4 2400.5L462.9 2400.5ZM529.6 2311.5L541.7 2296.5L549.2 2296.5L549.2 2303.5L537.1 2318.5L529.6 2318.5ZM541.7 2296.5L547.8 2273.5L555.3 2273.5L555.3 2280.5L549.2 2303.5L541.7 2303.5ZM547.8 2273.5L612.8 2259.5L620.5 2259.5L620.5 2266.5L555.3 2280.5L547.8 2280.5ZM612.8 2259.5L620.7 2259.2L628.2 2259.2L628.2 2266.2L620.5 2266.5L612.8 2266.5ZM620.7 2259.2L628.4 2258.8L636 2258.8L636 2265.8L628.2 2266.2L620.7 2266.2ZM628.4 2258.8L636.2 2258.5L643.8 2258.5L643.8 2265.5L636 2265.8L628.4 2265.8ZM636.2 2258.5L699.9 2255.5L707.4 2255.5L707.4 2262.5L643.8 2265.5L636.2 2265.5ZM699.9 2255.5L708.5 2255.2L716.1 2255.2L716.1 2262.2L707.4 2262.5L699.9 2262.5ZM708.5 2255.2L717.2 2254.8L724.8 2254.8L724.8 2261.8L716.1 2262.2L708.5 2262.2ZM717.2 2254.8L725.9 2254.5L733.5 2254.5L733.5 2261.5L724.8 2261.8L717.2 2261.8ZM725.9 2254.5L792 2252.5L799.5 2252.5L799.5 2259.5L733.5 2261.5L725.9 2261.5ZM792 2252.5L807.2 2252.5L807.2 2259.5L792 2259.5ZM799.5 2252.5L814.7 2252.5L814.7 2259.5L799.5 2259.5ZM807.2 2252.5L876.2 2247.5L883.8 2247.5L883.8 2254.5L814.7 2259.5L807.2 2259.5ZM876.2 2247.5L886.2 2247L893.8 2247L893.8 2254L883.8 2254.5L876.2 2254.5ZM886.2 2247L896.2 2246.5L903.8 2246.5L903.8 2253.5L893.8 2254L886.2 2254ZM896.2 2246.5L967.2 2226.5L974.7 2226.5L974.7 2233.5L903.8 2253.5L896.2 2253.5ZM967.2 2226.5L985.3 2203.5L992.8 2203.5L992.8 2210.5L974.7 2233.5L967.2 2233.5ZM985.3 2203.5L1056.8 2196.5L1064.4 2196.5L1064.4 2203.5L992.8 2210.5L985.3 2210.5ZM1056.8 2196.5L1071 2196.5L1071 2203.5L1056.8 2203.5ZM1063.5 2196.5L1145.9 2192.5L1153.5 2192.5L1153.5 2199.5L1071 2203.5L1063.5 2203.5ZM1145.9 2192.5L1154.4 2191.5L1161.9 2191.5L1161.9 2198.5L1153.5 2199.5L1145.9 2199.5ZM1154.4 2191.5L1236.8 2188.5L1244.4 2188.5L1244.4 2195.5L1161.9 2198.5L1154.4 2198.5ZM1236.8 2188.5L1249.2 2188.5L1249.2 2195.5L1236.8 2195.5ZM1241.7 2188.5L1254.1 2188.5L1254.1 2195.5L1241.7 2195.5Z" fill="#06601a"/>
<path d="M253.8 3136.5L256.8 3106.5L264.4 3106.5L264.4 3113.5L261.3 3143.5L253.8 3143.5ZM256.8 3106.5L262.9 3066.5L270.4 3066.5L270.4 3073.5L264.4 3113.5L256.8 3113.5ZM262.9 3066.5L272 2936.5L279.5 2936.5L279.5 2943.5L270.4 3073.5L262.9 3073.5ZM272 2936.5L281.1 2896.5L288.6 2896.5L288.6 2903.5L279.5 2943.5L272 2943.5ZM281.1 2896.5L287.2 2866.5L294.7 2866.5L294.7 2873.5L288.6 2903.5L281.1 2903.5ZM287.2 2866.5L291.4 2851.5L298.9 2851.5L298.9 2858.5L294.7 2873.5L287.2 2873.5ZM291.4 2851.5L338.7 2821.5L346.2 2821.5L346.2 2828.5L298.9 2858.5L291.4 2858.5ZM338.7 2821.5L350.8 2781.5L358.3 2781.5L358.3 2788.5L346.2 2828.5L338.7 2828.5ZM350.8 2781.5L365.9 2741.5L373.5 2741.5L373.5 2748.5L358.3 2788.5L350.8 2788.5ZM365.9 2741.5L375 2713.5L382.5 2713.5L382.5 2720.5L373.5 2748.5L365.9 2748.5ZM375 2713.5L432.6 2703.5L440.1 2703.5L440.1 2710.5L382.5 2720.5L375 2720.5ZM432.6 2703.5L450.8 2676.5L458.3 2676.5L458.3 2683.5L440.1 2710.5L432.6 2710.5ZM450.8 2676.5L465.9 2661.5L473.5 2661.5L473.5 2668.5L458.3 2683.5L450.8 2683.5ZM465.9 2661.5L520.5 2626.5L528 2626.5L528 2633.5L473.5 2668.5L465.9 2668.5ZM520.5 2626.5L537.5 2616.5L545 2616.5L545 2623.5L528 2633.5L520.5 2633.5ZM537.5 2616.5L541.7 2591.5L549.2 2591.5L549.2 2598.5L545 2623.5L537.5 2623.5ZM541.7 2591.5L604.1 2451.5L611.6 2451.5L611.6 2458.5L549.2 2598.5L541.7 2598.5ZM604.1 2451.5L615 2441.5L622.5 2441.5L622.5 2448.5L611.6 2458.5L604.1 2458.5ZM615 2441.5L626.2 2439L633.8 2439L633.8 2446L622.5 2448.5L615 2448.5ZM626.2 2439L637.5 2436.5L645 2436.5L645 2443.5L633.8 2446L626.2 2446ZM637.5 2436.5L697.5 2421.5L705 2421.5L705 2428.5L645 2443.5L637.5 2443.5ZM697.5 2421.5L707.8 2419.8L715.3 2419.8L715.3 2426.8L705 2428.5L697.5 2428.5ZM707.8 2419.8L718.1 2418.2L725.6 2418.2L725.6 2425.2L715.3 2426.8L707.8 2426.8ZM718.1 2418.2L728.4 2416.5L735.9 2416.5L735.9 2423.5L725.6 2425.2L718.1 2425.2ZM728.4 2416.5L735.9 2416.5L794.7 2418.5L794.7 2425.5L787.2 2425.5L728.4 2423.5ZM787.2 2418.5L802.2 2418.5L802.2 2425.5L787.2 2425.5ZM794.6 2418.5L809.6 2418.5L809.6 2425.5L794.6 2425.5ZM802.1 2418.5L817.1 2418.5L817.1 2425.5L802.1 2425.5ZM809.6 2418.5L876.2 2412.5L883.8 2412.5L883.8 2419.5L817.1 2425.5L809.6 2425.5ZM876.2 2412.5L885.9 2411.5L893.5 2411.5L893.5 2418.5L883.8 2419.5L876.2 2419.5ZM885.9 2411.5L895.6 2410.5L903.2 2410.5L903.2 2417.5L893.5 2418.5L885.9 2418.5ZM895.6 2410.5L964.1 2399.5L971.6 2399.5L971.6 2406.5L903.2 2417.5L895.6 2417.5ZM964.1 2399.5L973.8 2398.5L981.3 2398.5L981.3 2405.5L971.6 2406.5L964.1 2406.5ZM973.8 2398.5L983.5 2397.5L991 2397.5L991 2404.5L981.3 2405.5L973.8 2405.5ZM983.5 2397.5L1052 2386.5L1059.5 2386.5L1059.5 2393.5L991 2404.5L983.5 2404.5ZM1052 2386.5L1062.9 2356.5L1070.4 2356.5L1070.4 2363.5L1059.5 2393.5L1052 2393.5ZM1062.9 2356.5L1129.6 2331.5L1137.1 2331.5L1137.1 2338.5L1070.4 2363.5L1062.9 2363.5ZM1129.6 2331.5L1147.8 2318.5L1155.3 2318.5L1155.3 2325.5L1137.1 2338.5L1129.6 2338.5ZM1147.8 2318.5L1238.7 2313.5L1246.2 2313.5L1246.2 2320.5L1155.3 2325.5L1147.8 2325.5ZM1238.7 2313.5L1254.7 2313.5L1254.7 2320.5L1238.7 2320.5Z" fill="#008011"/>
<path d="M253.8 3146.5L259.9 3124.5L267.4 3124.5L267.4 3131.5L261.3 3153.5L253.8 3153.5ZM259.9 3124.5L267.2 3077.5L274.7 3077.5L274.7 3084.5L267.4 3131.5L259.9 3131.5ZM267.2 3077.5L272 3006.5L279.5 3006.5L279.5 3013.5L274.7 3084.5L267.2 3084.5ZM272 3006.5L279.9 2946.5L287.4 2946.5L287.4 2953.5L279.5 3013.5L272 3013.5ZM279.9 2946.5L338.7 2826.5L346.2 2826.5L346.2 2833.5L287.4 2953.5L279.9 2953.5ZM338.7 2826.5L353.8 2796.5L361.3 2796.5L361.3 2803.5L346.2 2833.5L338.7 2833.5ZM353.8 2796.5L362.9 2781.5L370.4 2781.5L370.4 2788.5L361.3 2803.5L353.8 2803.5ZM362.9 2781.5L372 2766.5L379.5 2766.5L379.5 2773.5L370.4 2788.5L362.9 2788.5ZM372 2766.5L426.5 2726.5L434.1 2726.5L434.1 2733.5L379.5 2773.5L372 2773.5ZM426.5 2726.5L441.7 2711.5L449.2 2711.5L449.2 2718.5L434.1 2733.5L426.5 2733.5ZM441.7 2711.5L450.8 2701.5L458.3 2701.5L458.3 2708.5L449.2 2718.5L441.7 2718.5ZM450.8 2701.5L465.9 2686.5L473.5 2686.5L473.5 2693.5L458.3 2708.5L450.8 2708.5ZM465.9 2686.5L524.7 2646.5L532.2 2646.5L532.2 2653.5L473.5 2693.5L465.9 2693.5ZM524.7 2646.5L533.2 2637.5L540.7 2637.5L540.7 2644.5L532.2 2653.5L524.7 2653.5ZM533.2 2637.5L541.7 2628.5L549.2 2628.5L549.2 2635.5L540.7 2644.5L533.2 2644.5ZM541.7 2628.5L545.9 2586.5L553.5 2586.5L553.5 2593.5L549.2 2635.5L541.7 2635.5ZM545.9 2586.5L613.2 2451.5L620.7 2451.5L620.7 2458.5L553.5 2593.5L545.9 2593.5ZM613.2 2451.5L626.5 2446.5L634.1 2446.5L634.1 2453.5L620.7 2458.5L613.2 2458.5ZM626.5 2446.5L632.6 2442.5L640.1 2442.5L640.1 2449.5L634.1 2453.5L626.5 2453.5ZM632.6 2442.5L638.7 2438.5L646.2 2438.5L646.2 2445.5L640.1 2449.5L632.6 2449.5ZM638.7 2438.5L698.1 2396.5L705.6 2396.5L705.6 2403.5L646.2 2445.5L638.7 2445.5ZM698.1 2396.5L707 2378L714.5 2378L714.5 2385L705.6 2403.5L698.1 2403.5ZM707 2378L718.4 2359.1L725.9 2359.1L725.9 2366.1L714.5 2385L707 2385ZM718.4 2359.1L787.2 2333.5L794.7 2333.5L794.7 2340.5L725.9 2366.1L718.4 2366.1ZM787.2 2333.5L797.7 2328.5L805.3 2328.5L805.3 2335.5L794.7 2340.5L787.2 2340.5ZM797.7 2328.5L808.4 2323.5L815.9 2323.5L815.9 2330.5L805.3 2335.5L797.7 2335.5ZM808.4 2323.5L875 2301.5L882.5 2301.5L882.5 2308.5L815.9 2330.5L808.4 2330.5ZM875 2301.5L887.2 2281.5L894.7 2281.5L894.7 2288.5L882.5 2308.5L875 2308.5ZM887.2 2281.5L896.2 2261.5L903.8 2261.5L903.8 2268.5L894.7 2288.5L887.2 2288.5ZM896.2 2261.5L965.9 2256.5L973.5 2256.5L973.5 2263.5L903.8 2268.5L896.2 2268.5ZM965.9 2256.5L982.5 2256.5L982.5 2263.5L965.9 2263.5ZM975 2256.5L1059.9 2253.5L1067.4 2253.5L1067.4 2260.5L982.5 2263.5L975 2263.5ZM1059.9 2253.5L1076.5 2253.5L1076.5 2260.5L1059.9 2260.5ZM1069 2253.5L1142.9 2242.5L1150.4 2242.5L1150.4 2249.5L1076.5 2260.5L1069 2260.5ZM1142.9 2242.5L1152.6 2240.5L1160.1 2240.5L1160.1 2247.5L1150.4 2249.5L1142.9 2249.5ZM1152.6 2240.5L1232.6 2211.5L1240.1 2211.5L1240.1 2218.5L1160.1 2247.5L1152.6 2247.5ZM1232.6 2211.5L1245.3 2201.5L1252.8 2201.5L1252.8 2208.5L1240.1 2218.5L1232.6 2218.5Z" fill="#c66300"/>
<path d="M253.8 3146.5L279.9 3053.5L287.4 3053.5L287.4 3060.5L261.3 3153.5L253.8 3153.5ZM279.9 3053.5L287.9 2992.1L295.5 2992.1L295.5 2999.1L287.4 3060.5L279.9 3060.5ZM287.9 2992.1L339.9 2965.5L347.4 2965.5L347.4 2972.5L295.5 2999.1L287.9 2999.1ZM339.9 2965.5L348.6 2960.5L356.2 2960.5L356.2 2967.5L347.4 2972.5L339.9 2972.5ZM348.6 2960.5L358.1 2956L365.6 2956L365.6 2963L356.2 2967.5L348.6 2967.5ZM358.1 2956L367.8 2951.2L375.3 2951.2L375.3 2958.2L365.6 2963L358.1 2963ZM367.8 2951.2L370.5 2927.5L378.1 2927.5L378.1 2934.5L375.3 2958.2L367.8 2958.2ZM370.5 2927.5L376.2 2911.5L383.8 2911.5L383.8 2918.5L378.1 2934.5L370.5 2934.5ZM376.2 2911.5L426.8 2882L434.4 2882L434.4 2889L383.8 2918.5L376.2 2918.5ZM426.8 2882L436.2 2876.5L443.8 2876.5L443.8 2883.5L434.4 2889L426.8 2889ZM436.2 2876.5L445.9 2871.5L453.5 2871.5L453.5 2878.5L443.8 2883.5L436.2 2883.5ZM445.9 2871.5L455.5 2867.5L463 2867.5L463 2874.5L453.5 2878.5L445.9 2878.5ZM455.5 2867.5L457.5 2847.5L465 2847.5L465 2854.5L463 2874.5L455.5 2874.5ZM457.5 2847.5L465 2831.5L472.6 2831.5L472.6 2838.5L465 2854.5L457.5 2854.5ZM465 2831.5L514.4 2806.5L521.9 2806.5L521.9 2813.5L472.6 2838.5L465 2838.5ZM514.4 2806.5L523.5 2803.2L531 2803.2L531 2810.2L521.9 2813.5L514.4 2813.5ZM523.5 2803.2L532.6 2799.8L540.1 2799.8L540.1 2806.8L531 2810.2L523.5 2810.2ZM532.6 2799.8L541.7 2796.5L549.2 2796.5L549.2 2803.5L540.1 2806.8L532.6 2806.8ZM541.7 2796.5L608.4 2794.5L615.9 2794.5L615.9 2801.5L549.2 2803.5L541.7 2803.5ZM608.4 2794.5L617.5 2793.8L625 2793.8L625 2800.8L615.9 2801.5L608.4 2801.5ZM617.5 2793.8L626.5 2793.2L634.1 2793.2L634.1 2800.2L625 2800.8L617.5 2800.8ZM626.5 2793.2L635.6 2792.5L643.2 2792.5L643.2 2799.5L634.1 2800.2L626.5 2800.2ZM635.6 2792.5L696.2 2789.5L703.8 2789.5L703.8 2796.5L643.2 2799.5L635.6 2799.5ZM696.2 2789.5L706.8 2788L714.4 2788L714.4 2795L703.8 2796.5L696.2 2796.5ZM706.8 2788L717.5 2786.5L725 2786.5L725 2793.5L714.4 2795L706.8 2795ZM717.5 2786.5L729.6 2761.5L737.1 2761.5L737.1 2768.5L725 2793.5L717.5 2793.5ZM729.6 2761.5L784.1 2606.5L791.6 2606.5L791.6 2613.5L737.1 2768.5L729.6 2768.5ZM784.1 2606.5L796.2 2581.5L803.8 2581.5L803.8 2588.5L791.6 2613.5L784.1 2613.5ZM796.2 2581.5L805.3 2556.5L812.8 2556.5L812.8 2563.5L803.8 2588.5L796.2 2588.5ZM805.3 2556.5L872 2506.5L879.5 2506.5L879.5 2513.5L812.8 2563.5L805.3 2563.5ZM872 2506.5L887.2 2496.5L894.7 2496.5L894.7 2503.5L879.5 2513.5L872 2513.5ZM887.2 2496.5L896.2 2488.5L903.8 2488.5L903.8 2495.5L894.7 2503.5L887.2 2503.5ZM896.2 2488.5L962.9 2458.5L970.4 2458.5L970.4 2465.5L903.8 2495.5L896.2 2495.5ZM962.9 2458.5L984.1 2441.5L991.6 2441.5L991.6 2448.5L970.4 2465.5L962.9 2465.5ZM984.1 2441.5L1050.8 2411.5L1058.3 2411.5L1058.3 2418.5L991.6 2448.5L984.1 2448.5ZM1050.8 2411.5L1069 2401.5L1076.5 2401.5L1076.5 2408.5L1058.3 2418.5L1050.8 2418.5ZM1069 2401.5L1135.6 2331.5L1143.2 2331.5L1143.2 2338.5L1076.5 2408.5L1069 2408.5ZM1135.6 2331.5L1150.8 2328.5L1158.3 2328.5L1158.3 2335.5L1143.2 2338.5L1135.6 2338.5ZM1150.8 2328.5L1226.5 2326.5L1234.1 2326.5L1234.1 2333.5L1158.3 2335.5L1150.8 2335.5ZM1226.5 2326.5L1235.6 2324.5L1243.2 2324.5L1243.2 2331.5L1234.1 2333.5L1226.5 2333.5ZM1235.6 2324.5L1244.7 2323.5L1252.2 2323.5L1252.2 2330.5L1243.2 2331.5L1235.6 2331.5Z" fill="#6a4c45"/>
<path d="M253.8 3155L265.9 3147L273.5 3147L273.5 3153L261.3 3161L253.8 3161ZM265.9 3147L288.4 3131.7L295.9 3131.7L295.9 3137.7L273.5 3153L265.9 3153ZM288.4 3131.7L341.7 3131L349.2 3131L349.2 3137L295.9 3137.7L288.4 3137.7ZM341.7 3131L356.5 3131L356.5 3137L341.7 3137ZM349 3131L363.8 3131L363.8 3137L349 3137ZM356.2 3131L364.7 3113L372.2 3113L372.2 3119L363.8 3137L356.2 3137ZM364.7 3113L372 3112L379.5 3112L379.5 3118L372.2 3119L364.7 3119ZM372 3112L429.6 3097L437.1 3097L437.1 3103L379.5 3118L372 3118ZM429.6 3097L441.7 3095.3L449.2 3095.3L449.2 3101.3L437.1 3103L429.6 3103ZM441.7 3095.3L453.8 3093.7L461.3 3093.7L461.3 3099.7L449.2 3101.3L441.7 3101.3ZM453.8 3093.7L465.9 3092L473.5 3092L473.5 3098L461.3 3099.7L453.8 3099.7ZM465.9 3092L517.5 3084L525 3084L525 3090L473.5 3098L465.9 3098ZM517.5 3084L526.5 3083L534.1 3083L534.1 3089L525 3090L517.5 3090ZM526.5 3083L535.6 3082L543.2 3082L543.2 3088L534.1 3089L526.5 3089ZM535.6 3082L550.8 3077L558.3 3077L558.3 3083L543.2 3088L535.6 3088ZM550.8 3077L608.4 3072L615.9 3072L615.9 3078L558.3 3083L550.8 3083ZM608.4 3072L618.4 3071L626 3071L626 3077L615.9 3078L608.4 3078ZM618.4 3071L628.5 3070L636.1 3070L636.1 3076L626 3077L618.4 3077ZM628.5 3070L638.7 3069L646.2 3069L646.2 3075L636.1 3076L628.5 3076ZM638.7 3069L696.2 3067L703.8 3067L703.8 3073L646.2 3075L638.7 3075ZM696.2 3067L713.9 3067L713.9 3073L696.2 3073ZM706.3 3067L724 3067L724 3073L706.3 3073ZM716.4 3067L734.1 3067L734.1 3073L716.4 3073ZM726.5 3067L787.2 3061L794.7 3061L794.7 3067L734.1 3073L726.5 3073ZM787.2 3061L805.3 3061L805.3 3067L787.2 3067ZM797.7 3061L815.9 3061L815.9 3067L797.7 3067ZM808.4 3061L875 3055L882.5 3055L882.5 3061L815.9 3067L808.4 3067ZM875 3055L894.7 3055L894.7 3061L875 3061ZM887.2 3055L906.8 3055L906.8 3061L887.2 3061ZM899.3 3055L965.9 3051L973.5 3051L973.5 3057L906.8 3061L899.3 3061ZM965.9 3051L983.2 3051L983.2 3057L965.9 3057ZM975.6 3051L992.8 3051L992.8 3057L975.6 3057ZM985.3 3051L1053.8 3046L1061.3 3046L1061.3 3052L992.8 3057L985.3 3057ZM1053.8 3046L1068.4 3046L1068.4 3052L1053.8 3052ZM1060.7 3046L1075.3 3046L1075.3 3052L1060.7 3052ZM1067.8 3046L1141.7 3045L1149.2 3045L1149.2 3051L1075.3 3052L1067.8 3052ZM1141.7 3045L1153.2 3023L1160.7 3023L1160.7 3029L1149.2 3051L1141.7 3051ZM1153.2 3023L1232.6 3014L1240.1 3014L1240.1 3020L1160.7 3029L1153.2 3029ZM1232.6 3014L1246.8 3014L1246.8 3020L1232.6 3020ZM1239.3 3014L1253.5 3014L1253.5 3020L1239.3 3020Z" fill="#06601a"/>
</g></g>
<g transform="scale(1.65 1)">
<ellipse cx="271.3" cy="2911" rx="10.3" ry="12" fill="#dd0806"/>
<ellipse cx="282.4" cy="2772.6" rx="10.3" ry="12" fill="#dd0806"/>
<ellipse cx="292.1" cy="2693" rx="10.3" ry="12" fill="#dd0806"/>
<ellipse cx="342.4" cy="2597" rx="10.3" ry="12" fill="#dd0806"/>
<ellipse cx="354.5" cy="2590" rx="10.3" ry="12" fill="#dd0806"/>
<ellipse cx="366.7" cy="2587" rx="10.3" ry="12" fill="#dd0806"/>
<ellipse cx="380" cy="2590" rx="10.3" ry="12" fill="#dd0806"/>
<ellipse cx="434.5" cy="2587" rx="10.3" ry="12" fill="#dd0806"/>
<ellipse cx="451.5" cy="2575" rx="10.3" ry="12" fill="#dd0806"/>
<ellipse cx="466.7" cy="2567" rx="10.3" ry="12" fill="#dd0806"/>
<ellipse cx="521.2" cy="2565" rx="10.3" ry="12" fill="#dd0806"/>
<ellipse cx="532.3" cy="2562.3" rx="10.3" ry="12" fill="#dd0806"/>
<ellipse cx="543.4" cy="2559.7" rx="10.3" ry="12" fill="#dd0806"/>
<ellipse cx="554.5" cy="2557" rx="10.3" ry="12" fill="#dd0806"/>
<ellipse cx="609.1" cy="2552" rx="10.3" ry="12" fill="#dd0806"/>
<ellipse cx="620.2" cy="2549.7" rx="10.3" ry="12" fill="#dd0806"/>
<ellipse cx="631.3" cy="2547.3" rx="10.3" ry="12" fill="#dd0806"/>
<ellipse cx="642.4" cy="2545" rx="10.3" ry="12" fill="#dd0806"/>
<ellipse cx="703" cy="2540" rx="10.3" ry="12" fill="#dd0806"/>
<ellipse cx="712.1" cy="2536.7" rx="10.3" ry="12" fill="#dd0806"/>
<ellipse cx="721.2" cy="2533.3" rx="10.3" ry="12" fill="#dd0806"/>
<ellipse cx="730.3" cy="2530" rx="10.3" ry="12" fill="#dd0806"/>
<ellipse cx="787.9" cy="2525" rx="10.3" ry="12" fill="#dd0806"/>
<ellipse cx="797" cy="2521.7" rx="10.3" ry="12" fill="#dd0806"/>
<ellipse cx="806.1" cy="2518.3" rx="10.3" ry="12" fill="#dd0806"/>
<ellipse cx="815.2" cy="2515" rx="10.3" ry="12" fill="#dd0806"/>
<ellipse cx="878.8" cy="2490" rx="10.3" ry="12" fill="#dd0806"/>
<ellipse cx="890.9" cy="2445" rx="10.3" ry="12" fill="#dd0806"/>
<ellipse cx="900" cy="2397" rx="10.3" ry="12" fill="#dd0806"/>
<ellipse cx="967.9" cy="2395" rx="10.3" ry="12" fill="#dd0806"/>
<ellipse cx="972.7" cy="2365" rx="10.3" ry="12" fill="#dd0806"/>
<ellipse cx="987.9" cy="2325" rx="10.3" ry="12" fill="#dd0806"/>
<ellipse cx="1057.6" cy="2325" rx="10.3" ry="12" fill="#dd0806"/>
<ellipse cx="1069.7" cy="2297" rx="10.3" ry="12" fill="#dd0806"/>
<ellipse cx="1133.3" cy="2292" rx="10.3" ry="12" fill="#dd0806"/>
<ellipse cx="1143" cy="2285" rx="10.3" ry="12" fill="#dd0806"/>
<ellipse cx="1155.2" cy="2265" rx="10.3" ry="12" fill="#dd0806"/>
<ellipse cx="1224.8" cy="2237" rx="10.3" ry="12" fill="#dd0806"/>
<ellipse cx="1239.4" cy="2232" rx="10.3" ry="12" fill="#dd0806"/>
<ellipse cx="1254.5" cy="2222" rx="10.3" ry="12" fill="#dd0806"/>
<rect x="243.3" y="3106.5" width="28.5" height="27" fill="#0000d4"/>
<rect x="249.4" y="3026.5" width="28.5" height="27" fill="#0000d4"/>
<rect x="258.5" y="2951.5" width="28.5" height="27" fill="#0000d4"/>
<rect x="261.5" y="2866.5" width="28.5" height="27" fill="#0000d4"/>
<rect x="265.8" y="2786.5" width="28.5" height="27" fill="#0000d4"/>
<rect x="270.6" y="2726.5" width="28.5" height="27" fill="#0000d4"/>
<rect x="279.7" y="2696.5" width="28.5" height="27" fill="#0000d4"/>
<rect x="331.2" y="2608.5" width="28.5" height="27" fill="#0000d4"/>
<rect x="338.5" y="2586.5" width="28.5" height="27" fill="#0000d4"/>
<rect x="346.4" y="2553.5" width="28.5" height="27" fill="#0000d4"/>
<rect x="355.5" y="2538.5" width="28.5" height="27" fill="#0000d4"/>
<rect x="365.8" y="2516.5" width="28.5" height="27" fill="#0000d4"/>
<rect x="422.1" y="2508.5" width="28.5" height="27" fill="#0000d4"/>
<rect x="437.3" y="2476.5" width="28.5" height="27" fill="#0000d4"/>
<rect x="452.4" y="2463.5" width="28.5" height="27" fill="#0000d4"/>
<rect x="510" y="2461.5" width="28.5" height="27" fill="#0000d4"/>
<rect x="520.1" y="2461.5" width="28.5" height="27" fill="#0000d4"/>
<rect x="530.2" y="2461.5" width="28.5" height="27" fill="#0000d4"/>
<rect x="540.3" y="2461.5" width="28.5" height="27" fill="#0000d4"/>
<rect x="600.9" y="2456.5" width="28.5" height="27" fill="#0000d4"/>
<rect x="610" y="2456.5" width="28.5" height="27" fill="#0000d4"/>
<rect x="619.1" y="2456.5" width="28.5" height="27" fill="#0000d4"/>
<rect x="628.2" y="2456.5" width="28.5" height="27" fill="#0000d4"/>
<rect x="688.8" y="2446.5" width="28.5" height="27" fill="#0000d4"/>
<rect x="697.3" y="2445.8" width="28.5" height="27" fill="#0000d4"/>
<rect x="705.8" y="2445.2" width="28.5" height="27" fill="#0000d4"/>
<rect x="714.2" y="2444.5" width="28.5" height="27" fill="#0000d4"/>
<rect x="767.6" y="2321.5" width="28.5" height="27" fill="#0000d4"/>
<rect x="779.7" y="2301.5" width="28.5" height="27" fill="#0000d4"/>
<rect x="791.8" y="2278.5" width="28.5" height="27" fill="#0000d4"/>
<rect x="803.9" y="2258.5" width="28.5" height="27" fill="#0000d4"/>
<rect x="864.5" y="2226.5" width="28.5" height="27" fill="#0000d4"/>
<rect x="876.7" y="2218.5" width="28.5" height="27" fill="#0000d4"/>
<rect x="888.8" y="2211.5" width="28.5" height="27" fill="#0000d4"/>
<rect x="955.5" y="2208.5" width="28.5" height="27" fill="#0000d4"/>
<rect x="965.2" y="2208.5" width="28.5" height="27" fill="#0000d4"/>
<rect x="974.8" y="2208.5" width="28.5" height="27" fill="#0000d4"/>
<rect x="1046.4" y="2208.5" width="28.5" height="27" fill="#0000d4"/>
<rect x="1052.4" y="2208.5" width="28.5" height="27" fill="#0000d4"/>
<rect x="1058.5" y="2208.5" width="28.5" height="27" fill="#0000d4"/>
<rect x="1131.2" y="2198.5" width="28.5" height="27" fill="#0000d4"/>
<rect x="1138.8" y="2198.5" width="28.5" height="27" fill="#0000d4"/>
<rect x="1146.4" y="2198.5" width="28.5" height="27" fill="#0000d4"/>
<rect x="1222.1" y="2196.5" width="28.5" height="27" fill="#0000d4"/>
<rect x="1229.4" y="2196.5" width="28.5" height="27" fill="#0000d4"/>
<rect x="1236.7" y="2196.5" width="28.5" height="27" fill="#0000d4"/>
<path d="M244.8 3100L247.4 3096.5L248.7 3091.6L253.8 3089.1L256.3 3089.1L257.6 3086L258.8 3089.1L261.4 3089.1L266.5 3091.6L267.8 3096.5L270.3 3100L267.8 3103.5L266.5 3108.4L261.4 3110.9L258.8 3110.9L257.6 3114L256.3 3110.9L253.8 3110.9L248.7 3108.4L247.4 3103.5Z" fill="#06601a"/>
<path d="M250.9 3060L253.5 3056.5L254.7 3051.6L259.8 3049.1L262.4 3049.1L263.6 3046L264.9 3049.1L267.5 3049.1L272.5 3051.6L273.8 3056.5L276.4 3060L273.8 3063.5L272.5 3068.4L267.5 3070.9L264.9 3070.9L263.6 3074L262.4 3070.9L259.8 3070.9L254.7 3068.4L253.5 3063.5Z" fill="#06601a"/>
<path d="M257 3022L259.5 3018.5L260.8 3013.6L265.9 3011.1L268.4 3011.1L269.7 3008L271 3011.1L273.5 3011.1L278.6 3013.6L279.9 3018.5L282.4 3022L279.9 3025.5L278.6 3030.4L273.5 3032.9L271 3032.9L269.7 3036L268.4 3032.9L265.9 3032.9L260.8 3030.4L259.5 3025.5Z" fill="#06601a"/>
<path d="M263 2950L265.6 2946.5L266.8 2941.6L271.9 2939.1L274.5 2939.1L275.8 2936L277 2939.1L279.6 2939.1L284.7 2941.6L285.9 2946.5L288.5 2950L285.9 2953.5L284.7 2958.4L279.6 2960.9L277 2960.9L275.8 2964L274.5 2960.9L271.9 2960.9L266.8 2958.4L265.6 2953.5Z" fill="#06601a"/>
<path d="M269.1 2855L271.6 2851.5L272.9 2846.6L278 2844.1L280.5 2844.1L281.8 2841L283.1 2844.1L285.6 2844.1L290.7 2846.6L292 2851.5L294.5 2855L292 2858.5L290.7 2863.4L285.6 2865.9L283.1 2865.9L281.8 2869L280.5 2865.9L278 2865.9L272.9 2863.4L271.6 2858.5Z" fill="#06601a"/>
<path d="M281.2 2820L283.8 2816.5L285 2811.6L290.1 2809.1L292.7 2809.1L293.9 2806L295.2 2809.1L297.8 2809.1L302.8 2811.6L304.1 2816.5L306.7 2820L304.1 2823.5L302.8 2828.4L297.8 2830.9L295.2 2830.9L293.9 2834L292.7 2830.9L290.1 2830.9L285 2828.4L283.8 2823.5Z" fill="#06601a"/>
<path d="M329.7 2717L332.2 2713.5L333.5 2708.6L338.6 2706.1L341.2 2706.1L342.4 2703L343.7 2706.1L346.2 2706.1L351.3 2708.6L352.6 2713.5L355.2 2717L352.6 2720.5L351.3 2725.4L346.2 2727.9L343.7 2727.9L342.4 2731L341.2 2727.9L338.6 2727.9L333.5 2725.4L332.2 2720.5Z" fill="#06601a"/>
<path d="M335.8 2690L338.3 2686.5L339.6 2681.6L344.7 2679.1L347.2 2679.1L348.5 2676L349.8 2679.1L352.3 2679.1L357.4 2681.6L358.7 2686.5L361.2 2690L358.7 2693.5L357.4 2698.4L352.3 2700.9L349.8 2700.9L348.5 2704L347.2 2700.9L344.7 2700.9L339.6 2698.4L338.3 2693.5Z" fill="#06601a"/>
<path d="M346.1 2662L348.6 2658.5L349.9 2653.6L355 2651.1L357.5 2651.1L358.8 2648L360.1 2651.1L362.6 2651.1L367.7 2653.6L369 2658.5L371.5 2662L369 2665.5L367.7 2670.4L362.6 2672.9L360.1 2672.9L358.8 2676L357.5 2672.9L355 2672.9L349.9 2670.4L348.6 2665.5Z" fill="#06601a"/>
<path d="M353.9 2612L356.5 2608.5L357.8 2603.6L362.8 2601.1L365.4 2601.1L366.7 2598L367.9 2601.1L370.5 2601.1L375.6 2603.6L376.8 2608.5L379.4 2612L376.8 2615.5L375.6 2620.4L370.5 2622.9L367.9 2622.9L366.7 2626L365.4 2622.9L362.8 2622.9L357.8 2620.4L356.5 2615.5Z" fill="#06601a"/>
<path d="M363 2572L365.6 2568.5L366.8 2563.6L371.9 2561.1L374.5 2561.1L375.8 2558L377 2561.1L379.6 2561.1L384.7 2563.6L385.9 2568.5L388.5 2572L385.9 2575.5L384.7 2580.4L379.6 2582.9L377 2582.9L375.8 2586L374.5 2582.9L371.9 2582.9L366.8 2580.4L365.6 2575.5Z" fill="#06601a"/>
<path d="M369.1 2530L371.6 2526.5L372.9 2521.6L378 2519.1L380.5 2519.1L381.8 2516L383.1 2519.1L385.6 2519.1L390.7 2521.6L392 2526.5L394.5 2530L392 2533.5L390.7 2538.4L385.6 2540.9L383.1 2540.9L381.8 2544L380.5 2540.9L378 2540.9L372.9 2538.4L371.6 2533.5Z" fill="#06601a"/>
<path d="M423.6 2465L426.2 2461.5L427.5 2456.6L432.5 2454.1L435.1 2454.1L436.4 2451L437.6 2454.1L440.2 2454.1L445.3 2456.6L446.5 2461.5L449.1 2465L446.5 2468.5L445.3 2473.4L440.2 2475.9L437.6 2475.9L436.4 2479L435.1 2475.9L432.5 2475.9L427.5 2473.4L426.2 2468.5Z" fill="#06601a"/>
<path d="M438.8 2430L441.3 2426.5L442.6 2421.6L447.7 2419.1L450.2 2419.1L451.5 2416L452.8 2419.1L455.3 2419.1L460.4 2421.6L461.7 2426.5L464.2 2430L461.7 2433.5L460.4 2438.4L455.3 2440.9L452.8 2440.9L451.5 2444L450.2 2440.9L447.7 2440.9L442.6 2438.4L441.3 2433.5Z" fill="#06601a"/>
<path d="M453.9 2397L456.5 2393.5L457.8 2388.6L462.8 2386.1L465.4 2386.1L466.7 2383L467.9 2386.1L470.5 2386.1L475.6 2388.6L476.8 2393.5L479.4 2397L476.8 2400.5L475.6 2405.4L470.5 2407.9L467.9 2407.9L466.7 2411L465.4 2407.9L462.8 2407.9L457.8 2405.4L456.5 2400.5Z" fill="#06601a"/>
<path d="M520.6 2315L523.2 2311.5L524.4 2306.6L529.5 2304.1L532.1 2304.1L533.3 2301L534.6 2304.1L537.2 2304.1L542.2 2306.6L543.5 2311.5L546.1 2315L543.5 2318.5L542.2 2323.4L537.2 2325.9L534.6 2325.9L533.3 2329L532.1 2325.9L529.5 2325.9L524.4 2323.4L523.2 2318.5Z" fill="#06601a"/>
<path d="M532.7 2300L535.3 2296.5L536.5 2291.6L541.6 2289.1L544.2 2289.1L545.5 2286L546.7 2289.1L549.3 2289.1L554.4 2291.6L555.6 2296.5L558.2 2300L555.6 2303.5L554.4 2308.4L549.3 2310.9L546.7 2310.9L545.5 2314L544.2 2310.9L541.6 2310.9L536.5 2308.4L535.3 2303.5Z" fill="#06601a"/>
<path d="M538.8 2277L541.3 2273.5L542.6 2268.6L547.7 2266.1L550.2 2266.1L551.5 2263L552.8 2266.1L555.3 2266.1L560.4 2268.6L561.7 2273.5L564.2 2277L561.7 2280.5L560.4 2285.4L555.3 2287.9L552.8 2287.9L551.5 2291L550.2 2287.9L547.7 2287.9L542.6 2285.4L541.3 2280.5Z" fill="#06601a"/>
<path d="M603.9 2263L606.5 2259.5L607.8 2254.6L612.8 2252.1L615.4 2252.1L616.7 2249L617.9 2252.1L620.5 2252.1L625.6 2254.6L626.8 2259.5L629.4 2263L626.8 2266.5L625.6 2271.4L620.5 2273.9L617.9 2273.9L616.7 2277L615.4 2273.9L612.8 2273.9L607.8 2271.4L606.5 2266.5Z" fill="#06601a"/>
<path d="M611.7 2262.7L614.3 2259.2L615.5 2254.3L620.6 2251.7L623.2 2251.7L624.4 2248.7L625.7 2251.7L628.3 2251.7L633.4 2254.3L634.6 2259.2L637.2 2262.7L634.6 2266.2L633.4 2271.1L628.3 2273.6L625.7 2273.6L624.4 2276.7L623.2 2273.6L620.6 2273.6L615.5 2271.1L614.3 2266.2Z" fill="#06601a"/>
<path d="M619.5 2262.3L622 2258.8L623.3 2253.9L628.4 2251.4L630.9 2251.4L632.2 2248.3L633.5 2251.4L636 2251.4L641.1 2253.9L642.4 2258.8L644.9 2262.3L642.4 2265.8L641.1 2270.7L636 2273.3L633.5 2273.3L632.2 2276.3L630.9 2273.3L628.4 2273.3L623.3 2270.7L622 2265.8Z" fill="#06601a"/>
<path d="M627.3 2262L629.8 2258.5L631.1 2253.6L636.2 2251.1L638.7 2251.1L640 2248L641.3 2251.1L643.8 2251.1L648.9 2253.6L650.2 2258.5L652.7 2262L650.2 2265.5L648.9 2270.4L643.8 2272.9L641.3 2272.9L640 2276L638.7 2272.9L636.2 2272.9L631.1 2270.4L629.8 2265.5Z" fill="#06601a"/>
<path d="M690.9 2259L693.5 2255.5L694.7 2250.6L699.8 2248.1L702.4 2248.1L703.6 2245L704.9 2248.1L707.5 2248.1L712.5 2250.6L713.8 2255.5L716.4 2259L713.8 2262.5L712.5 2267.4L707.5 2269.9L704.9 2269.9L703.6 2273L702.4 2269.9L699.8 2269.9L694.7 2267.4L693.5 2262.5Z" fill="#06601a"/>
<path d="M699.6 2258.7L702.1 2255.2L703.4 2250.3L708.5 2247.7L711.1 2247.7L712.3 2244.7L713.6 2247.7L716.1 2247.7L721.2 2250.3L722.5 2255.2L725.1 2258.7L722.5 2262.2L721.2 2267.1L716.1 2269.6L713.6 2269.6L712.3 2272.7L711.1 2269.6L708.5 2269.6L703.4 2267.1L702.1 2262.2Z" fill="#06601a"/>
<path d="M708.3 2258.3L710.8 2254.8L712.1 2249.9L717.2 2247.4L719.7 2247.4L721 2244.3L722.3 2247.4L724.8 2247.4L729.9 2249.9L731.2 2254.8L733.7 2258.3L731.2 2261.8L729.9 2266.7L724.8 2269.3L722.3 2269.3L721 2272.3L719.7 2269.3L717.2 2269.3L712.1 2266.7L710.8 2261.8Z" fill="#06601a"/>
<path d="M717 2258L719.5 2254.5L720.8 2249.6L725.9 2247.1L728.4 2247.1L729.7 2244L731 2247.1L733.5 2247.1L738.6 2249.6L739.9 2254.5L742.4 2258L739.9 2261.5L738.6 2266.4L733.5 2268.9L731 2268.9L729.7 2272L728.4 2268.9L725.9 2268.9L720.8 2266.4L719.5 2261.5Z" fill="#06601a"/>
<path d="M783 2256L785.6 2252.5L786.8 2247.6L791.9 2245.1L794.5 2245.1L795.8 2242L797 2245.1L799.6 2245.1L804.7 2247.6L805.9 2252.5L808.5 2256L805.9 2259.5L804.7 2264.4L799.6 2266.9L797 2266.9L795.8 2270L794.5 2266.9L791.9 2266.9L786.8 2264.4L785.6 2259.5Z" fill="#06601a"/>
<path d="M790.6 2256L793.2 2252.5L794.4 2247.6L799.5 2245.1L802.1 2245.1L803.3 2242L804.6 2245.1L807.2 2245.1L812.2 2247.6L813.5 2252.5L816.1 2256L813.5 2259.5L812.2 2264.4L807.2 2266.9L804.6 2266.9L803.3 2270L802.1 2266.9L799.5 2266.9L794.4 2264.4L793.2 2259.5Z" fill="#06601a"/>
<path d="M798.2 2256L800.7 2252.5L802 2247.6L807.1 2245.1L809.6 2245.1L810.9 2242L812.2 2245.1L814.7 2245.1L819.8 2247.6L821.1 2252.5L823.6 2256L821.1 2259.5L819.8 2264.4L814.7 2266.9L812.2 2266.9L810.9 2270L809.6 2266.9L807.1 2266.9L802 2264.4L800.7 2259.5Z" fill="#06601a"/>
<path d="M867.3 2251L869.8 2247.5L871.1 2242.6L876.2 2240.1L878.7 2240.1L880 2237L881.3 2240.1L883.8 2240.1L888.9 2242.6L890.2 2247.5L892.7 2251L890.2 2254.5L888.9 2259.4L883.8 2261.9L881.3 2261.9L880 2265L878.7 2261.9L876.2 2261.9L871.1 2259.4L869.8 2254.5Z" fill="#06601a"/>
<path d="M877.3 2250.5L879.8 2247L881.1 2242.1L886.2 2239.6L888.7 2239.6L890 2236.5L891.3 2239.6L893.8 2239.6L898.9 2242.1L900.2 2247L902.7 2250.5L900.2 2254L898.9 2258.9L893.8 2261.4L891.3 2261.4L890 2264.5L888.7 2261.4L886.2 2261.4L881.1 2258.9L879.8 2254Z" fill="#06601a"/>
<path d="M887.3 2250L889.8 2246.5L891.1 2241.6L896.2 2239.1L898.7 2239.1L900 2236L901.3 2239.1L903.8 2239.1L908.9 2241.6L910.2 2246.5L912.7 2250L910.2 2253.5L908.9 2258.4L903.8 2260.9L901.3 2260.9L900 2264L898.7 2260.9L896.2 2260.9L891.1 2258.4L889.8 2253.5Z" fill="#06601a"/>
<path d="M958.2 2230L960.7 2226.5L962 2221.6L967.1 2219.1L969.6 2219.1L970.9 2216L972.2 2219.1L974.7 2219.1L979.8 2221.6L981.1 2226.5L983.6 2230L981.1 2233.5L979.8 2238.4L974.7 2240.9L972.2 2240.9L970.9 2244L969.6 2240.9L967.1 2240.9L962 2238.4L960.7 2233.5Z" fill="#06601a"/>
<path d="M976.4 2207L978.9 2203.5L980.2 2198.6L985.3 2196.1L987.8 2196.1L989.1 2193L990.4 2196.1L992.9 2196.1L998 2198.6L999.3 2203.5L1001.8 2207L999.3 2210.5L998 2215.4L992.9 2217.9L990.4 2217.9L989.1 2221L987.8 2217.9L985.3 2217.9L980.2 2215.4L978.9 2210.5Z" fill="#06601a"/>
<path d="M1047.9 2200L1050.4 2196.5L1051.7 2191.6L1056.8 2189.1L1059.3 2189.1L1060.6 2186L1061.9 2189.1L1064.4 2189.1L1069.5 2191.6L1070.8 2196.5L1073.3 2200L1070.8 2203.5L1069.5 2208.4L1064.4 2210.9L1061.9 2210.9L1060.6 2214L1059.3 2210.9L1056.8 2210.9L1051.7 2208.4L1050.4 2203.5Z" fill="#06601a"/>
<path d="M1054.5 2200L1057.1 2196.5L1058.4 2191.6L1063.5 2189.1L1066 2189.1L1067.3 2186L1068.5 2189.1L1071.1 2189.1L1076.2 2191.6L1077.5 2196.5L1080 2200L1077.5 2203.5L1076.2 2208.4L1071.1 2210.9L1068.5 2210.9L1067.3 2214L1066 2210.9L1063.5 2210.9L1058.4 2208.4L1057.1 2203.5Z" fill="#06601a"/>
<path d="M1137 2196L1139.5 2192.5L1140.8 2187.6L1145.9 2185.1L1148.4 2185.1L1149.7 2182L1151 2185.1L1153.5 2185.1L1158.6 2187.6L1159.9 2192.5L1162.4 2196L1159.9 2199.5L1158.6 2204.4L1153.5 2206.9L1151 2206.9L1149.7 2210L1148.4 2206.9L1145.9 2206.9L1140.8 2204.4L1139.5 2199.5Z" fill="#06601a"/>
<path d="M1145.5 2195L1148 2191.5L1149.3 2186.6L1154.4 2184.1L1156.9 2184.1L1158.2 2181L1159.5 2184.1L1162 2184.1L1167.1 2186.6L1168.4 2191.5L1170.9 2195L1168.4 2198.5L1167.1 2203.4L1162 2205.9L1159.5 2205.9L1158.2 2209L1156.9 2205.9L1154.4 2205.9L1149.3 2203.4L1148 2198.5Z" fill="#06601a"/>
<path d="M1227.9 2192L1230.4 2188.5L1231.7 2183.6L1236.8 2181.1L1239.3 2181.1L1240.6 2178L1241.9 2181.1L1244.4 2181.1L1249.5 2183.6L1250.8 2188.5L1253.3 2192L1250.8 2195.5L1249.5 2200.4L1244.4 2202.9L1241.9 2202.9L1240.6 2206L1239.3 2202.9L1236.8 2202.9L1231.7 2200.4L1230.4 2195.5Z" fill="#06601a"/>
<path d="M1232.7 2192L1235.3 2188.5L1236.5 2183.6L1241.6 2181.1L1244.2 2181.1L1245.5 2178L1246.7 2181.1L1249.3 2181.1L1254.4 2183.6L1255.6 2188.5L1258.2 2192L1255.6 2195.5L1254.4 2200.4L1249.3 2202.9L1246.7 2202.9L1245.5 2206L1244.2 2202.9L1241.6 2202.9L1236.5 2200.4L1235.3 2195.5Z" fill="#06601a"/>
<path d="M1237.6 2192L1240.1 2188.5L1241.4 2183.6L1246.5 2181.1L1249 2181.1L1250.3 2178L1251.6 2181.1L1254.1 2181.1L1259.2 2183.6L1260.5 2188.5L1263 2192L1260.5 2195.5L1259.2 2200.4L1254.1 2202.9L1251.6 2202.9L1250.3 2206L1249 2202.9L1246.5 2202.9L1241.4 2200.4L1240.1 2195.5Z" fill="#06601a"/>
<path d="M244.5 3152L257.6 3128L270.6 3152Z" fill="#008011"/>
<path d="M247.6 3122L260.6 3098L273.6 3122Z" fill="#008011"/>
<path d="M253.6 3082L266.7 3058L279.7 3082Z" fill="#008011"/>
<path d="M262.7 2952L275.8 2928L288.8 2952Z" fill="#008011"/>
<path d="M271.8 2912L284.8 2888L297.9 2912Z" fill="#008011"/>
<path d="M277.9 2882L290.9 2858L303.9 2882Z" fill="#008011"/>
<path d="M282.1 2867L295.2 2843L308.2 2867Z" fill="#008011"/>
<path d="M329.4 2837L342.4 2813L355.5 2837Z" fill="#008011"/>
<path d="M341.5 2797L354.5 2773L367.6 2797Z" fill="#008011"/>
<path d="M356.7 2757L369.7 2733L382.7 2757Z" fill="#008011"/>
<path d="M365.8 2729L378.8 2705L391.8 2729Z" fill="#008011"/>
<path d="M423.3 2719L436.4 2695L449.4 2719Z" fill="#008011"/>
<path d="M441.5 2692L454.5 2668L467.6 2692Z" fill="#008011"/>
<path d="M456.7 2677L469.7 2653L482.7 2677Z" fill="#008011"/>
<path d="M511.2 2642L524.2 2618L537.3 2642Z" fill="#008011"/>
<path d="M528.2 2632L541.2 2608L554.2 2632Z" fill="#008011"/>
<path d="M532.4 2607L545.5 2583L558.5 2607Z" fill="#008011"/>
<path d="M605.8 2457L618.8 2433L631.8 2457Z" fill="#008011"/>
<path d="M617 2454.5L630 2430.5L643 2454.5Z" fill="#008011"/>
<path d="M628.2 2452L641.2 2428L654.2 2452Z" fill="#008011"/>
<path d="M688.2 2437L701.2 2413L714.2 2437Z" fill="#008011"/>
<path d="M698.5 2435.3L711.5 2411.3L724.5 2435.3Z" fill="#008011"/>
<path d="M708.8 2433.7L721.8 2409.7L734.8 2433.7Z" fill="#008011"/>
<path d="M719.1 2432L732.1 2408L745.2 2432Z" fill="#008011"/>
<path d="M777.9 2434L790.9 2410L803.9 2434Z" fill="#008011"/>
<path d="M785.4 2434L798.4 2410L811.4 2434Z" fill="#008011"/>
<path d="M792.8 2434L805.9 2410L818.9 2434Z" fill="#008011"/>
<path d="M800.3 2434L813.3 2410L826.4 2434Z" fill="#008011"/>
<path d="M867 2428L880 2404L893 2428Z" fill="#008011"/>
<path d="M876.7 2427L889.7 2403L902.7 2427Z" fill="#008011"/>
<path d="M886.4 2426L899.4 2402L912.4 2426Z" fill="#008011"/>
<path d="M954.8 2415L967.9 2391L980.9 2415Z" fill="#008011"/>
<path d="M964.5 2414L977.6 2390L990.6 2414Z" fill="#008011"/>
<path d="M974.2 2413L987.3 2389L1000.3 2413Z" fill="#008011"/>
<path d="M1042.7 2402L1055.8 2378L1068.8 2402Z" fill="#008011"/>
<path d="M1053.6 2372L1066.7 2348L1079.7 2372Z" fill="#008011"/>
<path d="M1120.3 2347L1133.3 2323L1146.4 2347Z" fill="#008011"/>
<path d="M1138.5 2334L1151.5 2310L1164.5 2334Z" fill="#008011"/>
<path d="M1229.4 2329L1242.4 2305L1255.5 2329Z" fill="#008011"/>
<path d="M1237.9 2329L1250.9 2305L1263.9 2329Z" fill="#008011"/>
<path d="M243.9 3138.5L257.6 3161.5L271.2 3138.5Z" fill="#c66300"/>
<path d="M250 3116.5L263.6 3139.5L277.3 3116.5Z" fill="#c66300"/>
<path d="M257.3 3069.5L270.9 3092.5L284.5 3069.5Z" fill="#c66300"/>
<path d="M262.1 2998.5L275.8 3021.5L289.4 2998.5Z" fill="#c66300"/>
<path d="M270 2938.5L283.6 2961.5L297.3 2938.5Z" fill="#c66300"/>
<path d="M328.8 2818.5L342.4 2841.5L356.1 2818.5Z" fill="#c66300"/>
<path d="M343.9 2788.5L357.6 2811.5L371.2 2788.5Z" fill="#c66300"/>
<path d="M353 2773.5L366.7 2796.5L380.3 2773.5Z" fill="#c66300"/>
<path d="M362.1 2758.5L375.8 2781.5L389.4 2758.5Z" fill="#c66300"/>
<path d="M416.7 2718.5L430.3 2741.5L443.9 2718.5Z" fill="#c66300"/>
<path d="M431.8 2703.5L445.5 2726.5L459.1 2703.5Z" fill="#c66300"/>
<path d="M440.9 2693.5L454.5 2716.5L468.2 2693.5Z" fill="#c66300"/>
<path d="M456.1 2678.5L469.7 2701.5L483.3 2678.5Z" fill="#c66300"/>
<path d="M514.8 2638.5L528.5 2661.5L542.1 2638.5Z" fill="#c66300"/>
<path d="M523.3 2629.5L537 2652.5L550.6 2629.5Z" fill="#c66300"/>
<path d="M531.8 2620.5L545.5 2643.5L559.1 2620.5Z" fill="#c66300"/>
<path d="M616.7 2438.5L630.3 2461.5L643.9 2438.5Z" fill="#c66300"/>
<path d="M622.7 2434.5L636.4 2457.5L650 2434.5Z" fill="#c66300"/>
<path d="M628.8 2430.5L642.4 2453.5L656.1 2430.5Z" fill="#c66300"/>
<path d="M688.2 2388.5L701.8 2411.5L715.5 2388.5Z" fill="#c66300"/>
<path d="M697.1 2370L710.7 2393L724.4 2370Z" fill="#c66300"/>
<path d="M708.5 2351.1L722.2 2374.1L735.8 2351.1Z" fill="#c66300"/>
<path d="M777.3 2325.5L790.9 2348.5L804.5 2325.5Z" fill="#c66300"/>
<path d="M787.9 2320.5L801.5 2343.5L815.2 2320.5Z" fill="#c66300"/>
<path d="M798.5 2315.5L812.1 2338.5L825.8 2315.5Z" fill="#c66300"/>
<path d="M865.2 2293.5L878.8 2316.5L892.4 2293.5Z" fill="#c66300"/>
<path d="M877.3 2273.5L890.9 2296.5L904.5 2273.5Z" fill="#c66300"/>
<path d="M886.4 2253.5L900 2276.5L913.6 2253.5Z" fill="#c66300"/>
<path d="M956.1 2248.5L969.7 2271.5L983.3 2248.5Z" fill="#c66300"/>
<path d="M965.2 2248.5L978.8 2271.5L992.4 2248.5Z" fill="#c66300"/>
<path d="M1050 2245.5L1063.6 2268.5L1077.3 2245.5Z" fill="#c66300"/>
<path d="M1059.1 2245.5L1072.7 2268.5L1086.4 2245.5Z" fill="#c66300"/>
<path d="M1133 2234.5L1146.7 2257.5L1160.3 2234.5Z" fill="#c66300"/>
<path d="M1142.7 2232.5L1156.4 2255.5L1170 2232.5Z" fill="#c66300"/>
<path d="M1222.7 2203.5L1236.4 2226.5L1250 2203.5Z" fill="#c66300"/>
<path d="M1235.5 2193.5L1249.1 2216.5L1262.7 2193.5Z" fill="#c66300"/>
<ellipse cx="257.6" cy="3150" rx="9.7" ry="9.5" fill="#fff" stroke="#6a4c45" stroke-width="4" vector-effect="non-scaling-stroke"/>
<ellipse cx="283.6" cy="3057" rx="9.7" ry="9.5" fill="#fff" stroke="#6a4c45" stroke-width="4" vector-effect="non-scaling-stroke"/>
<ellipse cx="291.8" cy="2995.6" rx="9.7" ry="9.5" fill="#fff" stroke="#6a4c45" stroke-width="4" vector-effect="non-scaling-stroke"/>
<ellipse cx="343.6" cy="2969" rx="9.7" ry="9.5" fill="#fff" stroke="#6a4c45" stroke-width="4" vector-effect="non-scaling-stroke"/>
<ellipse cx="352.4" cy="2964" rx="9.7" ry="9.5" fill="#fff" stroke="#6a4c45" stroke-width="4" vector-effect="non-scaling-stroke"/>
<ellipse cx="361.8" cy="2959.5" rx="9.7" ry="9.5" fill="#fff" stroke="#6a4c45" stroke-width="4" vector-effect="non-scaling-stroke"/>
<ellipse cx="371.5" cy="2954.7" rx="9.7" ry="9.5" fill="#fff" stroke="#6a4c45" stroke-width="4" vector-effect="non-scaling-stroke"/>
<ellipse cx="374.3" cy="2931" rx="9.7" ry="9.5" fill="#fff" stroke="#6a4c45" stroke-width="4" vector-effect="non-scaling-stroke"/>
<ellipse cx="380" cy="2915" rx="9.7" ry="9.5" fill="#fff" stroke="#6a4c45" stroke-width="4" vector-effect="non-scaling-stroke"/>
<ellipse cx="430.6" cy="2885.5" rx="9.7" ry="9.5" fill="#fff" stroke="#6a4c45" stroke-width="4" vector-effect="non-scaling-stroke"/>
<ellipse cx="440" cy="2880" rx="9.7" ry="9.5" fill="#fff" stroke="#6a4c45" stroke-width="4" vector-effect="non-scaling-stroke"/>
<ellipse cx="449.7" cy="2875" rx="9.7" ry="9.5" fill="#fff" stroke="#6a4c45" stroke-width="4" vector-effect="non-scaling-stroke"/>
<ellipse cx="459.2" cy="2871" rx="9.7" ry="9.5" fill="#fff" stroke="#6a4c45" stroke-width="4" vector-effect="non-scaling-stroke"/>
<ellipse cx="461.2" cy="2851" rx="9.7" ry="9.5" fill="#fff" stroke="#6a4c45" stroke-width="4" vector-effect="non-scaling-stroke"/>
<ellipse cx="468.8" cy="2835" rx="9.7" ry="9.5" fill="#fff" stroke="#6a4c45" stroke-width="4" vector-effect="non-scaling-stroke"/>
<ellipse cx="518.2" cy="2810" rx="9.7" ry="9.5" fill="#fff" stroke="#6a4c45" stroke-width="4" vector-effect="non-scaling-stroke"/>
<ellipse cx="527.3" cy="2806.7" rx="9.7" ry="9.5" fill="#fff" stroke="#6a4c45" stroke-width="4" vector-effect="non-scaling-stroke"/>
<ellipse cx="536.4" cy="2803.3" rx="9.7" ry="9.5" fill="#fff" stroke="#6a4c45" stroke-width="4" vector-effect="non-scaling-stroke"/>
<ellipse cx="545.5" cy="2800" rx="9.7" ry="9.5" fill="#fff" stroke="#6a4c45" stroke-width="4" vector-effect="non-scaling-stroke"/>
<ellipse cx="612.1" cy="2798" rx="9.7" ry="9.5" fill="#fff" stroke="#6a4c45" stroke-width="4" vector-effect="non-scaling-stroke"/>
<ellipse cx="621.2" cy="2797.3" rx="9.7" ry="9.5" fill="#fff" stroke="#6a4c45" stroke-width="4" vector-effect="non-scaling-stroke"/>
<ellipse cx="630.3" cy="2796.7" rx="9.7" ry="9.5" fill="#fff" stroke="#6a4c45" stroke-width="4" vector-effect="non-scaling-stroke"/>
<ellipse cx="639.4" cy="2796" rx="9.7" ry="9.5" fill="#fff" stroke="#6a4c45" stroke-width="4" vector-effect="non-scaling-stroke"/>
<ellipse cx="700" cy="2793" rx="9.7" ry="9.5" fill="#fff" stroke="#6a4c45" stroke-width="4" vector-effect="non-scaling-stroke"/>
<ellipse cx="710.6" cy="2791.5" rx="9.7" ry="9.5" fill="#fff" stroke="#6a4c45" stroke-width="4" vector-effect="non-scaling-stroke"/>
<ellipse cx="721.2" cy="2790" rx="9.7" ry="9.5" fill="#fff" stroke="#6a4c45" stroke-width="4" vector-effect="non-scaling-stroke"/>
<ellipse cx="733.3" cy="2765" rx="9.7" ry="9.5" fill="#fff" stroke="#6a4c45" stroke-width="4" vector-effect="non-scaling-stroke"/>
<ellipse cx="787.9" cy="2610" rx="9.7" ry="9.5" fill="#fff" stroke="#6a4c45" stroke-width="4" vector-effect="non-scaling-stroke"/>
<ellipse cx="800" cy="2585" rx="9.7" ry="9.5" fill="#fff" stroke="#6a4c45" stroke-width="4" vector-effect="non-scaling-stroke"/>
<ellipse cx="809.1" cy="2560" rx="9.7" ry="9.5" fill="#fff" stroke="#6a4c45" stroke-width="4" vector-effect="non-scaling-stroke"/>
<ellipse cx="875.8" cy="2510" rx="9.7" ry="9.5" fill="#fff" stroke="#6a4c45" stroke-width="4" vector-effect="non-scaling-stroke"/>
<ellipse cx="890.9" cy="2500" rx="9.7" ry="9.5" fill="#fff" stroke="#6a4c45" stroke-width="4" vector-effect="non-scaling-stroke"/>
<ellipse cx="900" cy="2492" rx="9.7" ry="9.5" fill="#fff" stroke="#6a4c45" stroke-width="4" vector-effect="non-scaling-stroke"/>
<ellipse cx="966.7" cy="2462" rx="9.7" ry="9.5" fill="#fff" stroke="#6a4c45" stroke-width="4" vector-effect="non-scaling-stroke"/>
<ellipse cx="987.9" cy="2445" rx="9.7" ry="9.5" fill="#fff" stroke="#6a4c45" stroke-width="4" vector-effect="non-scaling-stroke"/>
<ellipse cx="1054.5" cy="2415" rx="9.7" ry="9.5" fill="#fff" stroke="#6a4c45" stroke-width="4" vector-effect="non-scaling-stroke"/>
<ellipse cx="1072.7" cy="2405" rx="9.7" ry="9.5" fill="#fff" stroke="#6a4c45" stroke-width="4" vector-effect="non-scaling-stroke"/>
<ellipse cx="1139.4" cy="2335" rx="9.7" ry="9.5" fill="#fff" stroke="#6a4c45" stroke-width="4" vector-effect="non-scaling-stroke"/>
<ellipse cx="1154.5" cy="2332" rx="9.7" ry="9.5" fill="#fff" stroke="#6a4c45" stroke-width="4" vector-effect="non-scaling-stroke"/>
<ellipse cx="1230.3" cy="2330" rx="9.7" ry="9.5" fill="#fff" stroke="#6a4c45" stroke-width="4" vector-effect="non-scaling-stroke"/>
<ellipse cx="1239.4" cy="2328" rx="9.7" ry="9.5" fill="#fff" stroke="#6a4c45" stroke-width="4" vector-effect="non-scaling-stroke"/>
<ellipse cx="1248.5" cy="2327" rx="9.7" ry="9.5" fill="#fff" stroke="#6a4c45" stroke-width="4" vector-effect="non-scaling-stroke"/>
<rect x="244.8" y="3146.3" width="25.6" height="23.3" fill="#fff" stroke="#06601a" stroke-width="4.7" vector-effect="non-scaling-stroke"/>
<rect x="256.9" y="3138.3" width="25.6" height="23.3" fill="#fff" stroke="#06601a" stroke-width="4.7" vector-effect="non-scaling-stroke"/>
<rect x="279.3" y="3123" width="25.6" height="23.3" fill="#fff" stroke="#06601a" stroke-width="4.7" vector-effect="non-scaling-stroke"/>
<rect x="332.6" y="3122.3" width="25.6" height="23.3" fill="#fff" stroke="#06601a" stroke-width="4.7" vector-effect="non-scaling-stroke"/>
<rect x="339.9" y="3122.3" width="25.6" height="23.3" fill="#fff" stroke="#06601a" stroke-width="4.7" vector-effect="non-scaling-stroke"/>
<rect x="347.2" y="3122.3" width="25.6" height="23.3" fill="#fff" stroke="#06601a" stroke-width="4.7" vector-effect="non-scaling-stroke"/>
<rect x="355.7" y="3104.3" width="25.6" height="23.3" fill="#fff" stroke="#06601a" stroke-width="4.7" vector-effect="non-scaling-stroke"/>
<rect x="362.9" y="3103.3" width="25.6" height="23.3" fill="#fff" stroke="#06601a" stroke-width="4.7" vector-effect="non-scaling-stroke"/>
<rect x="420.5" y="3088.3" width="25.6" height="23.3" fill="#fff" stroke="#06601a" stroke-width="4.7" vector-effect="non-scaling-stroke"/>
<rect x="432.6" y="3086.7" width="25.6" height="23.3" fill="#fff" stroke="#06601a" stroke-width="4.7" vector-effect="non-scaling-stroke"/>
<rect x="444.8" y="3085" width="25.6" height="23.3" fill="#fff" stroke="#06601a" stroke-width="4.7" vector-effect="non-scaling-stroke"/>
<rect x="456.9" y="3083.3" width="25.6" height="23.3" fill="#fff" stroke="#06601a" stroke-width="4.7" vector-effect="non-scaling-stroke"/>
<rect x="508.4" y="3075.3" width="25.6" height="23.3" fill="#fff" stroke="#06601a" stroke-width="4.7" vector-effect="non-scaling-stroke"/>
<rect x="517.5" y="3074.3" width="25.6" height="23.3" fill="#fff" stroke="#06601a" stroke-width="4.7" vector-effect="non-scaling-stroke"/>
<rect x="526.6" y="3073.3" width="25.6" height="23.3" fill="#fff" stroke="#06601a" stroke-width="4.7" vector-effect="non-scaling-stroke"/>
<rect x="541.7" y="3068.3" width="25.6" height="23.3" fill="#fff" stroke="#06601a" stroke-width="4.7" vector-effect="non-scaling-stroke"/>
<rect x="599.3" y="3063.3" width="25.6" height="23.3" fill="#fff" stroke="#06601a" stroke-width="4.7" vector-effect="non-scaling-stroke"/>
<rect x="609.4" y="3062.3" width="25.6" height="23.3" fill="#fff" stroke="#06601a" stroke-width="4.7" vector-effect="non-scaling-stroke"/>
<rect x="619.5" y="3061.3" width="25.6" height="23.3" fill="#fff" stroke="#06601a" stroke-width="4.7" vector-effect="non-scaling-stroke"/>
<rect x="629.6" y="3060.3" width="25.6" height="23.3" fill="#fff" stroke="#06601a" stroke-width="4.7" vector-effect="non-scaling-stroke"/>
<rect x="687.2" y="3058.3" width="25.6" height="23.3" fill="#fff" stroke="#06601a" stroke-width="4.7" vector-effect="non-scaling-stroke"/>
<rect x="697.3" y="3058.3" width="25.6" height="23.3" fill="#fff" stroke="#06601a" stroke-width="4.7" vector-effect="non-scaling-stroke"/>
<rect x="707.4" y="3058.3" width="25.6" height="23.3" fill="#fff" stroke="#06601a" stroke-width="4.7" vector-effect="non-scaling-stroke"/>
<rect x="717.5" y="3058.3" width="25.6" height="23.3" fill="#fff" stroke="#06601a" stroke-width="4.7" vector-effect="non-scaling-stroke"/>
<rect x="778.1" y="3052.3" width="25.6" height="23.3" fill="#fff" stroke="#06601a" stroke-width="4.7" vector-effect="non-scaling-stroke"/>
<rect x="788.7" y="3052.3" width="25.6" height="23.3" fill="#fff" stroke="#06601a" stroke-width="4.7" vector-effect="non-scaling-stroke"/>
<rect x="799.3" y="3052.3" width="25.6" height="23.3" fill="#fff" stroke="#06601a" stroke-width="4.7" vector-effect="non-scaling-stroke"/>
<rect x="866" y="3046.3" width="25.6" height="23.3" fill="#fff" stroke="#06601a" stroke-width="4.7" vector-effect="non-scaling-stroke"/>
<rect x="878.1" y="3046.3" width="25.6" height="23.3" fill="#fff" stroke="#06601a" stroke-width="4.7" vector-effect="non-scaling-stroke"/>
<rect x="890.2" y="3046.3" width="25.6" height="23.3" fill="#fff" stroke="#06601a" stroke-width="4.7" vector-effect="non-scaling-stroke"/>
<rect x="956.9" y="3042.3" width="25.6" height="23.3" fill="#fff" stroke="#06601a" stroke-width="4.7" vector-effect="non-scaling-stroke"/>
<rect x="966.6" y="3042.3" width="25.6" height="23.3" fill="#fff" stroke="#06601a" stroke-width="4.7" vector-effect="non-scaling-stroke"/>
<rect x="976.3" y="3042.3" width="25.6" height="23.3" fill="#fff" stroke="#06601a" stroke-width="4.7" vector-effect="non-scaling-stroke"/>
<rect x="1044.8" y="3037.3" width="25.6" height="23.3" fill="#fff" stroke="#06601a" stroke-width="4.7" vector-effect="non-scaling-stroke"/>
<rect x="1051.7" y="3037.3" width="25.6" height="23.3" fill="#fff" stroke="#06601a" stroke-width="4.7" vector-effect="non-scaling-stroke"/>
<rect x="1058.7" y="3037.3" width="25.6" height="23.3" fill="#fff" stroke="#06601a" stroke-width="4.7" vector-effect="non-scaling-stroke"/>
<rect x="1132.6" y="3036.3" width="25.6" height="23.3" fill="#fff" stroke="#06601a" stroke-width="4.7" vector-effect="non-scaling-stroke"/>
<rect x="1144.2" y="3014.3" width="25.6" height="23.3" fill="#fff" stroke="#06601a" stroke-width="4.7" vector-effect="non-scaling-stroke"/>
<rect x="1223.5" y="3005.3" width="25.6" height="23.3" fill="#fff" stroke="#06601a" stroke-width="4.7" vector-effect="non-scaling-stroke"/>
<rect x="1230.2" y="3005.3" width="25.6" height="23.3" fill="#fff" stroke="#06601a" stroke-width="4.7" vector-effect="non-scaling-stroke"/>
<rect x="1236.9" y="3005.3" width="25.6" height="23.3" fill="#fff" stroke="#06601a" stroke-width="4.7" vector-effect="non-scaling-stroke"/>
</g>
<text x="335.5" y="3172.5" font-size="47" fill="#303030">0</text>
<text x="277.5" y="2985.7" font-size="47" fill="#303030" textLength="83" lengthAdjust="spacing">0.5</text>
<text x="335.5" y="2798.8" font-size="47" fill="#303030">1</text>
<text x="277.5" y="2611.9" font-size="47" fill="#303030" textLength="83" lengthAdjust="spacing">1.5</text>
<text x="335.5" y="2425.6" font-size="47" fill="#303030">2</text>
<text x="277.5" y="2243.5" font-size="47" fill="#303030" textLength="83" lengthAdjust="spacing">2.5</text>
<text x="335.5" y="2056.7" font-size="47" fill="#303030">3</text>
<text x="404" y="3215" font-size="47" fill="#303030">0</text>
<text x="690" y="3215" font-size="47" fill="#303030" textLength="64" lengthAdjust="spacing">50</text>
<text x="976" y="3215" font-size="47" fill="#303030" textLength="103" lengthAdjust="spacing">100</text>
<text x="1281.5" y="3215" font-size="47" fill="#303030" textLength="103" lengthAdjust="spacing">150</text>
<text x="1587" y="3215" font-size="47" fill="#303030" textLength="103" lengthAdjust="spacing">200</text>
<text x="1892.5" y="3215" font-size="47" fill="#303030" textLength="103" lengthAdjust="spacing">250</text>
<text x="2198" y="3215" font-size="47" fill="#303030" textLength="103" lengthAdjust="spacing">300</text>
<text x="1225" y="3274" font-size="47" fill="#3c3c3c" textLength="221" lengthAdjust="spacing">Time , h</text>
<g transform="translate(210.8 2679) rotate(-90) scale(1 1.2)">
<text x="0" y="0" font-size="44" fill="#3c3c3c" textLength="148" lengthAdjust="spacing">ln(X/X )</text>
</g>
<g transform="translate(252 2560) rotate(-90) scale(1 1.8)">
<text x="0" y="0" font-size="27" fill="#3c3c3c">o</text>
</g>
<g transform="translate(22 1930) scale(1.12 1)">
<text x="0" y="0" font-size="94" fill="#000" font-family="'Liberation Serif', serif" stroke="#000" stroke-width="3.2" stroke-linejoin="round">c</text>
</g>
<rect x="215.2" y="1846.2" width="186.3" height="9.5" fill="#dd0806"/>
<g transform="scale(1.65 1)">
<ellipse cx="187.9" cy="1851" rx="10" ry="14" fill="#dd0806"/>
</g>
<text x="416.6" y="1865" font-size="40" fill="#dd0806" textLength="845" lengthAdjust="spacing" fill-opacity="0.62">Phenol=79 mg/L, SA=158 mg/L</text>
<rect x="215.2" y="1889.2" width="186.3" height="9.5" fill="#0000d4"/>
<g transform="scale(1.65 1)">
<rect x="173.4" y="1880" width="29" height="28" fill="#0000d4"/>
</g>
<text x="416.6" y="1908.2" font-size="40" fill="#0000d4" textLength="877.5" lengthAdjust="spacing" fill-opacity="0.62">Phenol=121 mg/L, SA=161 mg/L</text>
<rect x="215.2" y="1932.8" width="186.3" height="9.5" fill="#06601a"/>
<g transform="scale(1.65 1)">
<path d="M176.4 1937.5L178.7 1933.4L179.8 1927.6L184.4 1924.6L186.7 1924.6L187.9 1921L189 1924.6L191.3 1924.6L195.9 1927.6L197.1 1933.4L199.4 1937.5L197.1 1941.6L195.9 1947.4L191.3 1950.4L189 1950.4L187.9 1954L186.7 1950.4L184.4 1950.4L179.8 1947.4L178.7 1941.6Z" fill="#06601a"/>
</g>
<text x="416.6" y="1951.6" font-size="40" fill="#06601a" textLength="877.5" lengthAdjust="spacing" fill-opacity="0.62">Phenol=178 mg/L, SA=165 mg/L</text>
<rect x="215.2" y="1975.8" width="186.3" height="9.5" fill="#008011"/>
<g transform="scale(1.65 1)">
<path d="M173.4 1994.6L187.9 1970.6L202.4 1994.6Z" fill="#008011"/>
</g>
<text x="416.6" y="1994.8" font-size="40" fill="#008011" textLength="877.5" lengthAdjust="spacing" fill-opacity="0.62">Phenol=240 mg/L, SA=171 mg/L</text>
<rect x="1316" y="1850" width="187.5" height="5" fill="#c66300"/>
<g transform="scale(1.65 1)">
<path d="M842.7 1845.5L857 1864.5L871.2 1845.5Z" fill="#c66300"/>
</g>
<text x="1517.3" y="1866" font-size="40" fill="#c66300" textLength="883.5" lengthAdjust="spacing" fill-opacity="0.62">Phenol=316 mg/L, SA=186 mg/L</text>
<rect x="1321" y="1892.5" width="186" height="5" fill="#6a4c45"/>
<g transform="scale(1.65 1)">
<ellipse cx="857" cy="1895" rx="9.4" ry="9.5" fill="#fff" stroke="#6a4c45" stroke-width="4" vector-effect="non-scaling-stroke"/>
</g>
<text x="1522" y="1907.5" font-size="40" fill="#6a4c45" textLength="879" lengthAdjust="spacing" fill-opacity="0.62">Phenol=430 mg/L, SA=198 mg/L</text>
<rect x="1321" y="1937.5" width="186" height="10" fill="#06601a"/>
<g transform="scale(1.65 1)">
<rect x="844.2" y="1934.3" width="25.6" height="23.3" fill="#fff" stroke="#06601a" stroke-width="4.7" vector-effect="non-scaling-stroke"/>
</g>
<text x="1522" y="1954" font-size="40" fill="#06601a" textLength="879" lengthAdjust="spacing" fill-opacity="0.62">Phenol=453 mg/L, SA=235 mg/L</text>
</svg>
</body></html>
